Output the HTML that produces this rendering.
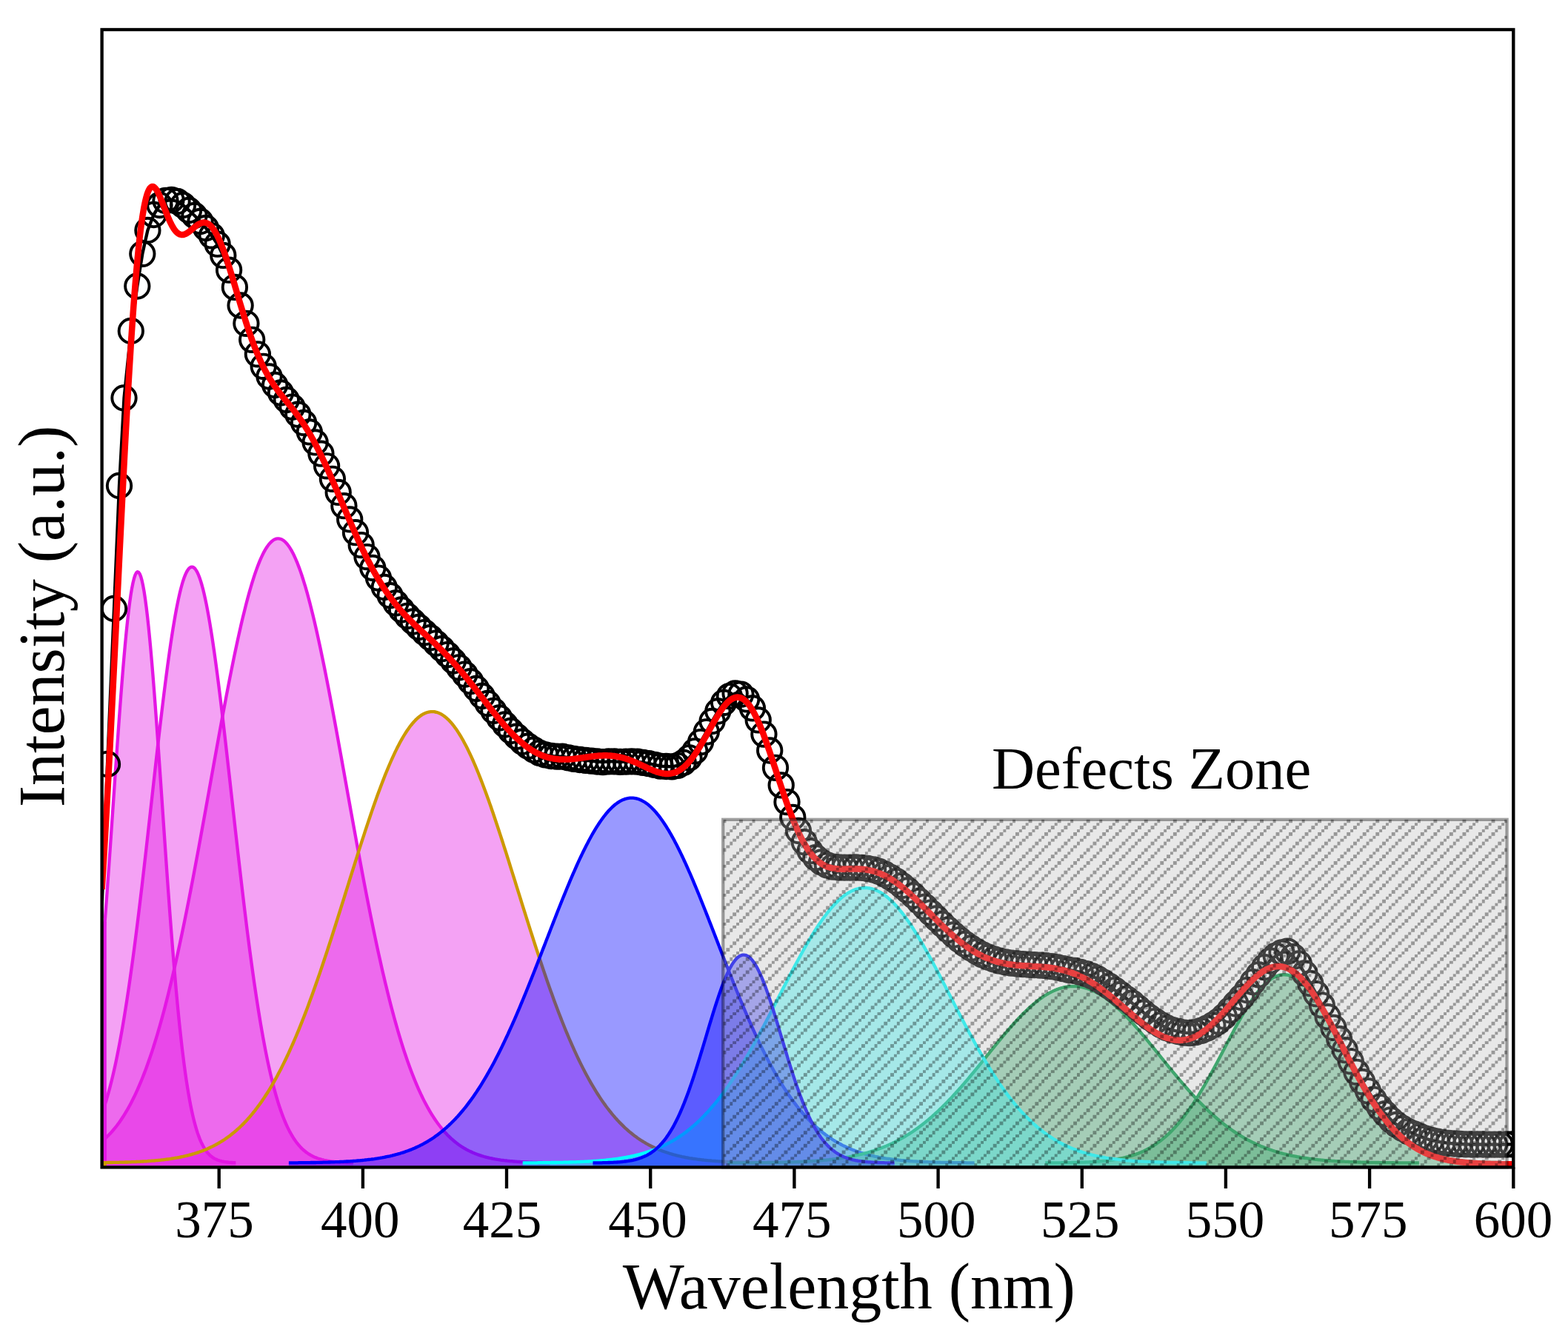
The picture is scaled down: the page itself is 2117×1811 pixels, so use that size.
<!DOCTYPE html><html><head><meta charset="utf-8"><title>PL spectrum</title><style>html,body{margin:0;padding:0;background:#fff;}svg{display:block;}</style></head><body>
<svg width="2117" height="1811" viewBox="0 0 2117 1811">
<defs>
<clipPath id="plot"><rect x="137.6" y="40.0" width="1905.7" height="1536.4"/></clipPath>
<pattern id="hatch" patternUnits="userSpaceOnUse" x="0" y="0" width="39.06" height="39.06"><g fill="#000" fill-opacity="0.345" shape-rendering="crispEdges"><rect x="13.02" y="0.00" width="4.34" height="4.34"/><rect x="34.72" y="0.00" width="4.34" height="4.34"/><rect x="8.68" y="4.34" width="4.34" height="4.34"/><rect x="30.38" y="4.34" width="4.34" height="4.34"/><rect x="4.34" y="8.68" width="4.34" height="4.34"/><rect x="26.04" y="8.68" width="4.34" height="4.34"/><rect x="0.00" y="13.02" width="4.34" height="4.34"/><rect x="21.70" y="13.02" width="4.34" height="4.34"/><rect x="34.72" y="17.36" width="4.34" height="4.34"/><rect x="17.36" y="17.36" width="4.34" height="4.34"/><rect x="30.38" y="21.70" width="4.34" height="4.34"/><rect x="13.02" y="21.70" width="4.34" height="4.34"/><rect x="26.04" y="26.04" width="4.34" height="4.34"/><rect x="8.68" y="26.04" width="4.34" height="4.34"/><rect x="21.70" y="30.38" width="4.34" height="4.34"/><rect x="4.34" y="30.38" width="4.34" height="4.34"/><rect x="17.36" y="34.72" width="4.34" height="4.34"/><rect x="0.00" y="34.72" width="4.34" height="4.34"/></g></pattern>
</defs>
<rect width="2117" height="1811" fill="#fff"/>
<g clip-path="url(#plot)">
<polygon points="137.6,1576.4 137.6,1295.4 139.1,1276.9 140.6,1257.8 142.1,1238.1 143.6,1218.0 145.1,1197.3 146.6,1176.3 148.1,1154.9 149.6,1133.3 151.1,1111.4 152.6,1089.5 154.1,1067.6 155.6,1045.7 157.1,1024.1 158.6,1002.7 160.1,981.6 161.6,961.1 163.1,941.1 164.6,921.8 166.1,903.2 167.6,885.6 169.1,868.9 170.6,853.3 172.1,838.9 173.6,825.7 175.1,813.8 176.6,803.3 178.1,794.2 179.6,786.7 181.1,780.7 182.6,776.3 184.1,773.5 185.6,772.3 187.1,772.8 188.6,774.9 190.1,778.6 191.6,783.9 193.1,790.8 194.6,799.2 196.1,809.1 197.6,820.4 199.1,833.1 200.6,847.0 202.1,862.1 203.6,878.4 205.1,895.6 206.6,913.8 208.1,932.8 209.6,952.5 211.1,972.8 212.6,993.6 214.1,1014.9 215.6,1036.5 217.1,1058.3 218.6,1080.2 220.1,1102.1 221.6,1124.0 223.1,1145.7 224.6,1167.2 226.1,1188.4 227.6,1209.2 229.1,1229.6 230.6,1249.5 232.1,1268.8 233.6,1287.6 235.1,1305.8 236.6,1323.2 238.1,1340.1 239.6,1356.2 241.1,1371.6 242.6,1386.2 244.1,1400.1 245.6,1413.4 247.1,1425.8 248.6,1437.6 250.1,1448.6 251.6,1459.0 253.1,1468.7 254.6,1477.7 256.1,1486.1 257.6,1494.0 259.1,1501.2 260.6,1507.9 262.1,1514.0 263.6,1519.6 265.1,1524.8 266.6,1529.6 268.1,1533.9 269.6,1537.8 271.1,1541.4 272.6,1544.6 274.1,1547.5 275.6,1550.2 277.1,1552.5 278.6,1554.7 280.1,1556.6 281.6,1558.3 283.1,1559.8 284.6,1561.1 286.1,1562.3 287.6,1563.4 289.1,1564.3 290.6,1565.1 292.1,1565.8 293.6,1566.5 295.1,1567.0 296.6,1567.5 298.1,1567.9 299.6,1568.3 301.1,1568.6 302.6,1568.9 304.1,1569.1 305.6,1569.3 307.1,1569.5 308.6,1569.7 310.1,1569.8 311.6,1569.9 313.1,1570.0 314.6,1570.1 316.1,1570.2 317.6,1570.2 318.3,1570.2 318.3,1576.4" fill="#e416e4" fill-opacity="0.4" stroke="none"/>
<polyline points="137.6,1295.4 139.1,1276.9 140.6,1257.8 142.1,1238.1 143.6,1218.0 145.1,1197.3 146.6,1176.3 148.1,1154.9 149.6,1133.3 151.1,1111.4 152.6,1089.5 154.1,1067.6 155.6,1045.7 157.1,1024.1 158.6,1002.7 160.1,981.6 161.6,961.1 163.1,941.1 164.6,921.8 166.1,903.2 167.6,885.6 169.1,868.9 170.6,853.3 172.1,838.9 173.6,825.7 175.1,813.8 176.6,803.3 178.1,794.2 179.6,786.7 181.1,780.7 182.6,776.3 184.1,773.5 185.6,772.3 187.1,772.8 188.6,774.9 190.1,778.6 191.6,783.9 193.1,790.8 194.6,799.2 196.1,809.1 197.6,820.4 199.1,833.1 200.6,847.0 202.1,862.1 203.6,878.4 205.1,895.6 206.6,913.8 208.1,932.8 209.6,952.5 211.1,972.8 212.6,993.6 214.1,1014.9 215.6,1036.5 217.1,1058.3 218.6,1080.2 220.1,1102.1 221.6,1124.0 223.1,1145.7 224.6,1167.2 226.1,1188.4 227.6,1209.2 229.1,1229.6 230.6,1249.5 232.1,1268.8 233.6,1287.6 235.1,1305.8 236.6,1323.2 238.1,1340.1 239.6,1356.2 241.1,1371.6 242.6,1386.2 244.1,1400.1 245.6,1413.4 247.1,1425.8 248.6,1437.6 250.1,1448.6 251.6,1459.0 253.1,1468.7 254.6,1477.7 256.1,1486.1 257.6,1494.0 259.1,1501.2 260.6,1507.9 262.1,1514.0 263.6,1519.6 265.1,1524.8 266.6,1529.6 268.1,1533.9 269.6,1537.8 271.1,1541.4 272.6,1544.6 274.1,1547.5 275.6,1550.2 277.1,1552.5 278.6,1554.7 280.1,1556.6 281.6,1558.3 283.1,1559.8 284.6,1561.1 286.1,1562.3 287.6,1563.4 289.1,1564.3 290.6,1565.1 292.1,1565.8 293.6,1566.5 295.1,1567.0 296.6,1567.5 298.1,1567.9 299.6,1568.3 301.1,1568.6 302.6,1568.9 304.1,1569.1 305.6,1569.3 307.1,1569.5 308.6,1569.7 310.1,1569.8 311.6,1569.9 313.1,1570.0 314.6,1570.1 316.1,1570.2 317.6,1570.2 318.3,1570.2" fill="none" stroke="#e416e4" stroke-width="4.34" stroke-linejoin="round"/>
<line x1="141.6" y1="1244.8" x2="141.6" y2="1576.4" stroke="#e416e4" stroke-width="4.34"/>
<polygon points="137.6,1576.4 137.6,1503.7 139.1,1499.4 140.6,1495.0 142.1,1490.4 143.6,1485.5 145.1,1480.5 146.6,1475.2 148.1,1469.6 149.6,1463.8 151.1,1457.8 152.6,1451.5 154.1,1445.0 155.6,1438.2 157.1,1431.1 158.6,1423.8 160.1,1416.2 161.6,1408.3 163.1,1400.2 164.6,1391.8 166.1,1383.1 167.6,1374.1 169.1,1364.9 170.6,1355.4 172.1,1345.7 173.6,1335.6 175.1,1325.4 176.6,1314.8 178.1,1304.0 179.6,1293.0 181.1,1281.7 182.6,1270.2 184.1,1258.5 185.6,1246.5 187.1,1234.4 188.6,1222.0 190.1,1209.5 191.6,1196.9 193.1,1184.0 194.6,1171.1 196.1,1158.0 197.6,1144.8 199.1,1131.5 200.6,1118.1 202.1,1104.7 203.6,1091.3 205.1,1077.9 206.6,1064.4 208.1,1051.0 209.6,1037.6 211.1,1024.3 212.6,1011.1 214.1,998.0 215.6,985.1 217.1,972.3 218.6,959.7 220.1,947.3 221.6,935.1 223.1,923.2 224.6,911.6 226.1,900.3 227.6,889.3 229.1,878.6 230.6,868.3 232.1,858.4 233.6,848.9 235.1,839.8 236.6,831.2 238.1,823.0 239.6,815.3 241.1,808.1 242.6,801.5 244.1,795.3 245.6,789.8 247.1,784.7 248.6,780.3 250.1,776.4 251.6,773.1 253.1,770.4 254.6,768.3 256.1,766.8 257.6,765.9 259.1,765.6 260.6,765.9 262.1,766.9 263.6,768.4 265.1,770.6 266.6,773.3 268.1,776.7 269.6,780.6 271.1,785.1 272.6,790.2 274.1,795.8 275.6,802.0 277.1,808.7 278.6,815.9 280.1,823.6 281.6,831.8 283.1,840.5 284.6,849.6 286.1,859.1 287.6,869.1 289.1,879.4 290.6,890.1 292.1,901.1 293.6,912.5 295.1,924.1 296.6,936.1 298.1,948.3 299.6,960.7 301.1,973.3 302.6,986.1 304.1,999.1 305.6,1012.2 307.1,1025.4 308.6,1038.7 310.1,1052.0 311.6,1065.5 313.1,1078.9 314.6,1092.4 316.1,1105.8 317.6,1119.2 319.1,1132.5 320.6,1145.8 322.1,1159.0 323.6,1172.1 325.1,1185.0 326.6,1197.8 328.1,1210.5 329.6,1223.0 331.1,1235.3 332.6,1247.5 334.1,1259.4 335.6,1271.1 337.1,1282.6 338.6,1293.8 340.1,1304.9 341.6,1315.6 343.1,1326.2 344.6,1336.4 346.1,1346.4 347.6,1356.2 349.1,1365.6 350.6,1374.9 352.1,1383.8 353.6,1392.4 355.1,1400.8 356.6,1408.9 358.1,1416.8 359.6,1424.4 361.1,1431.7 362.6,1438.7 364.1,1445.5 365.6,1452.0 367.1,1458.3 368.6,1464.3 370.1,1470.0 371.6,1475.6 373.1,1480.9 374.6,1485.9 376.1,1490.8 377.6,1495.4 379.1,1499.8 380.6,1504.0 382.1,1508.0 383.6,1511.8 385.1,1515.4 386.6,1518.8 388.1,1522.1 389.6,1525.1 391.1,1528.1 392.6,1530.8 394.1,1533.4 395.6,1535.9 397.1,1538.2 398.6,1540.4 400.1,1542.5 401.6,1544.4 403.1,1546.2 404.6,1547.9 406.1,1549.6 407.6,1551.1 409.1,1552.5 410.6,1553.8 412.1,1555.0 413.6,1556.2 415.1,1557.3 416.6,1558.3 418.1,1559.2 419.6,1560.1 421.1,1560.9 422.6,1561.7 424.1,1562.4 425.6,1563.0 427.1,1563.6 428.6,1564.2 430.1,1564.7 431.6,1565.2 433.1,1565.6 434.6,1566.1 436.1,1566.4 437.6,1566.8 439.1,1567.1 440.6,1567.4 442.1,1567.7 443.6,1567.9 445.1,1568.2 446.6,1568.4 448.1,1568.6 449.6,1568.7 451.1,1568.9 452.6,1569.1 454.1,1569.2 455.6,1569.3 457.1,1569.4 458.6,1569.5 460.1,1569.6 461.6,1569.7 463.1,1569.8 464.6,1569.9 466.1,1569.9 467.6,1570.0 469.1,1570.0 470.6,1570.1 472.1,1570.1 473.6,1570.2 475.1,1570.2 476.6,1570.2 476.8,1570.2 476.8,1576.4" fill="#e416e4" fill-opacity="0.4" stroke="none"/>
<polyline points="137.6,1503.7 139.1,1499.4 140.6,1495.0 142.1,1490.4 143.6,1485.5 145.1,1480.5 146.6,1475.2 148.1,1469.6 149.6,1463.8 151.1,1457.8 152.6,1451.5 154.1,1445.0 155.6,1438.2 157.1,1431.1 158.6,1423.8 160.1,1416.2 161.6,1408.3 163.1,1400.2 164.6,1391.8 166.1,1383.1 167.6,1374.1 169.1,1364.9 170.6,1355.4 172.1,1345.7 173.6,1335.6 175.1,1325.4 176.6,1314.8 178.1,1304.0 179.6,1293.0 181.1,1281.7 182.6,1270.2 184.1,1258.5 185.6,1246.5 187.1,1234.4 188.6,1222.0 190.1,1209.5 191.6,1196.9 193.1,1184.0 194.6,1171.1 196.1,1158.0 197.6,1144.8 199.1,1131.5 200.6,1118.1 202.1,1104.7 203.6,1091.3 205.1,1077.9 206.6,1064.4 208.1,1051.0 209.6,1037.6 211.1,1024.3 212.6,1011.1 214.1,998.0 215.6,985.1 217.1,972.3 218.6,959.7 220.1,947.3 221.6,935.1 223.1,923.2 224.6,911.6 226.1,900.3 227.6,889.3 229.1,878.6 230.6,868.3 232.1,858.4 233.6,848.9 235.1,839.8 236.6,831.2 238.1,823.0 239.6,815.3 241.1,808.1 242.6,801.5 244.1,795.3 245.6,789.8 247.1,784.7 248.6,780.3 250.1,776.4 251.6,773.1 253.1,770.4 254.6,768.3 256.1,766.8 257.6,765.9 259.1,765.6 260.6,765.9 262.1,766.9 263.6,768.4 265.1,770.6 266.6,773.3 268.1,776.7 269.6,780.6 271.1,785.1 272.6,790.2 274.1,795.8 275.6,802.0 277.1,808.7 278.6,815.9 280.1,823.6 281.6,831.8 283.1,840.5 284.6,849.6 286.1,859.1 287.6,869.1 289.1,879.4 290.6,890.1 292.1,901.1 293.6,912.5 295.1,924.1 296.6,936.1 298.1,948.3 299.6,960.7 301.1,973.3 302.6,986.1 304.1,999.1 305.6,1012.2 307.1,1025.4 308.6,1038.7 310.1,1052.0 311.6,1065.5 313.1,1078.9 314.6,1092.4 316.1,1105.8 317.6,1119.2 319.1,1132.5 320.6,1145.8 322.1,1159.0 323.6,1172.1 325.1,1185.0 326.6,1197.8 328.1,1210.5 329.6,1223.0 331.1,1235.3 332.6,1247.5 334.1,1259.4 335.6,1271.1 337.1,1282.6 338.6,1293.8 340.1,1304.9 341.6,1315.6 343.1,1326.2 344.6,1336.4 346.1,1346.4 347.6,1356.2 349.1,1365.6 350.6,1374.9 352.1,1383.8 353.6,1392.4 355.1,1400.8 356.6,1408.9 358.1,1416.8 359.6,1424.4 361.1,1431.7 362.6,1438.7 364.1,1445.5 365.6,1452.0 367.1,1458.3 368.6,1464.3 370.1,1470.0 371.6,1475.6 373.1,1480.9 374.6,1485.9 376.1,1490.8 377.6,1495.4 379.1,1499.8 380.6,1504.0 382.1,1508.0 383.6,1511.8 385.1,1515.4 386.6,1518.8 388.1,1522.1 389.6,1525.1 391.1,1528.1 392.6,1530.8 394.1,1533.4 395.6,1535.9 397.1,1538.2 398.6,1540.4 400.1,1542.5 401.6,1544.4 403.1,1546.2 404.6,1547.9 406.1,1549.6 407.6,1551.1 409.1,1552.5 410.6,1553.8 412.1,1555.0 413.6,1556.2 415.1,1557.3 416.6,1558.3 418.1,1559.2 419.6,1560.1 421.1,1560.9 422.6,1561.7 424.1,1562.4 425.6,1563.0 427.1,1563.6 428.6,1564.2 430.1,1564.7 431.6,1565.2 433.1,1565.6 434.6,1566.1 436.1,1566.4 437.6,1566.8 439.1,1567.1 440.6,1567.4 442.1,1567.7 443.6,1567.9 445.1,1568.2 446.6,1568.4 448.1,1568.6 449.6,1568.7 451.1,1568.9 452.6,1569.1 454.1,1569.2 455.6,1569.3 457.1,1569.4 458.6,1569.5 460.1,1569.6 461.6,1569.7 463.1,1569.8 464.6,1569.9 466.1,1569.9 467.6,1570.0 469.1,1570.0 470.6,1570.1 472.1,1570.1 473.6,1570.2 475.1,1570.2 476.6,1570.2 476.8,1570.2" fill="none" stroke="#e416e4" stroke-width="4.34" stroke-linejoin="round"/>
<line x1="141.6" y1="1492.0" x2="141.6" y2="1576.4" stroke="#e416e4" stroke-width="4.34"/>
<polygon points="137.6,1576.4 137.6,1541.3 139.1,1540.0 140.6,1538.7 142.1,1537.4 143.6,1536.0 145.1,1534.5 146.6,1533.0 148.1,1531.5 149.6,1529.9 151.1,1528.2 152.6,1526.5 154.1,1524.7 155.6,1522.9 157.1,1521.0 158.6,1519.0 160.1,1517.0 161.6,1514.9 163.1,1512.7 164.6,1510.5 166.1,1508.2 167.6,1505.9 169.1,1503.4 170.6,1500.9 172.1,1498.4 173.6,1495.7 175.1,1493.0 176.6,1490.2 178.1,1487.3 179.6,1484.3 181.1,1481.3 182.6,1478.1 184.1,1474.9 185.6,1471.6 187.1,1468.2 188.6,1464.7 190.1,1461.2 191.6,1457.5 193.1,1453.8 194.6,1449.9 196.1,1446.0 197.6,1441.9 199.1,1437.8 200.6,1433.6 202.1,1429.3 203.6,1424.9 205.1,1420.4 206.6,1415.8 208.1,1411.0 209.6,1406.2 211.1,1401.3 212.6,1396.3 214.1,1391.2 215.6,1386.0 217.1,1380.7 218.6,1375.3 220.1,1369.8 221.6,1364.2 223.1,1358.5 224.6,1352.6 226.1,1346.7 227.6,1340.7 229.1,1334.6 230.6,1328.4 232.1,1322.1 233.6,1315.7 235.1,1309.2 236.6,1302.6 238.1,1296.0 239.6,1289.2 241.1,1282.3 242.6,1275.4 244.1,1268.3 245.6,1261.2 247.1,1254.0 248.6,1246.7 250.1,1239.4 251.6,1231.9 253.1,1224.4 254.6,1216.8 256.1,1209.2 257.6,1201.5 259.1,1193.7 260.6,1185.8 262.1,1177.9 263.6,1169.9 265.1,1161.9 266.6,1153.9 268.1,1145.8 269.6,1137.6 271.1,1129.4 272.6,1121.2 274.1,1112.9 275.6,1104.6 277.1,1096.3 278.6,1088.0 280.1,1079.7 281.6,1071.3 283.1,1062.9 284.6,1054.6 286.1,1046.2 287.6,1037.9 289.1,1029.5 290.6,1021.2 292.1,1012.9 293.6,1004.6 295.1,996.4 296.6,988.2 298.1,980.0 299.6,971.9 301.1,963.8 302.6,955.8 304.1,947.8 305.6,939.9 307.1,932.1 308.6,924.4 310.1,916.7 311.6,909.1 313.1,901.6 314.6,894.2 316.1,886.9 317.6,879.8 319.1,872.7 320.6,865.7 322.1,858.9 323.6,852.2 325.1,845.6 326.6,839.1 328.1,832.8 329.6,826.7 331.1,820.7 332.6,814.8 334.1,809.1 335.6,803.5 337.1,798.2 338.6,793.0 340.1,787.9 341.6,783.1 343.1,778.4 344.6,773.9 346.1,769.6 347.6,765.5 349.1,761.6 350.6,757.9 352.1,754.4 353.6,751.1 355.1,748.0 356.6,745.1 358.1,742.4 359.6,740.0 361.1,737.7 362.6,735.7 364.1,733.9 365.6,732.3 367.1,730.9 368.6,729.8 370.1,728.8 371.6,728.1 373.1,727.6 374.6,727.4 376.1,727.4 377.6,727.6 379.1,728.0 380.6,728.6 382.1,729.5 383.6,730.6 385.1,731.9 386.6,733.5 388.1,735.2 389.6,737.2 391.1,739.4 392.6,741.8 394.1,744.4 395.6,747.3 397.1,750.3 398.6,753.6 400.1,757.1 401.6,760.7 403.1,764.6 404.6,768.6 406.1,772.9 407.6,777.3 409.1,782.0 410.6,786.8 412.1,791.7 413.6,796.9 415.1,802.2 416.6,807.7 418.1,813.4 419.6,819.2 421.1,825.2 422.6,831.3 424.1,837.6 425.6,844.0 427.1,850.6 428.6,857.3 430.1,864.1 431.6,871.0 433.1,878.0 434.6,885.2 436.1,892.5 437.6,899.8 439.1,907.3 440.6,914.9 442.1,922.5 443.6,930.2 445.1,938.0 446.6,945.9 448.1,953.9 449.6,961.9 451.1,969.9 452.6,978.0 454.1,986.2 455.6,994.4 457.1,1002.6 458.6,1010.9 460.1,1019.2 461.6,1027.5 463.1,1035.9 464.6,1044.2 466.1,1052.6 467.6,1060.9 469.1,1069.3 470.6,1077.7 472.1,1086.0 473.6,1094.3 475.1,1102.6 476.6,1110.9 478.1,1119.2 479.6,1127.4 481.1,1135.6 482.6,1143.8 484.1,1151.9 485.6,1160.0 487.1,1168.0 488.6,1176.0 490.1,1183.9 491.6,1191.8 493.1,1199.6 494.6,1207.3 496.1,1215.0 497.6,1222.6 499.1,1230.1 500.6,1237.6 502.1,1245.0 503.6,1252.3 505.1,1259.5 506.6,1266.6 508.1,1273.7 509.6,1280.7 511.1,1287.6 512.6,1294.3 514.1,1301.0 515.6,1307.7 517.1,1314.2 518.6,1320.6 520.1,1326.9 521.6,1333.1 523.1,1339.3 524.6,1345.3 526.1,1351.2 527.6,1357.1 529.1,1362.8 530.6,1368.4 532.1,1374.0 533.6,1379.4 535.1,1384.7 536.6,1390.0 538.1,1395.1 539.6,1400.1 541.1,1405.1 542.6,1409.9 544.1,1414.6 545.6,1419.3 547.1,1423.8 548.6,1428.2 550.1,1432.6 551.6,1436.8 553.1,1441.0 554.6,1445.0 556.1,1449.0 557.6,1452.8 559.1,1456.6 560.6,1460.3 562.1,1463.9 563.6,1467.4 565.1,1470.8 566.6,1474.1 568.1,1477.4 569.6,1480.5 571.1,1483.6 572.6,1486.6 574.1,1489.5 575.6,1492.3 577.1,1495.1 578.6,1497.7 580.1,1500.3 581.6,1502.8 583.1,1505.3 584.6,1507.7 586.1,1510.0 587.6,1512.2 589.1,1514.4 590.6,1516.5 592.1,1518.5 593.6,1520.5 595.1,1522.4 596.6,1524.3 598.1,1526.1 599.6,1527.8 601.1,1529.5 602.6,1531.1 604.1,1532.7 605.6,1534.2 607.1,1535.6 608.6,1537.1 610.1,1538.4 611.6,1539.7 613.1,1541.0 614.6,1542.2 616.1,1543.4 617.6,1544.6 619.1,1545.7 620.6,1546.7 622.1,1547.7 623.6,1548.7 625.1,1549.7 626.6,1550.6 628.1,1551.4 629.6,1552.3 631.1,1553.1 632.6,1553.9 634.1,1554.6 635.6,1555.3 637.1,1556.0 638.6,1556.7 640.1,1557.3 641.6,1557.9 643.1,1558.5 644.6,1559.1 646.1,1559.6 647.6,1560.1 649.1,1560.6 650.6,1561.1 652.1,1561.5 653.6,1562.0 655.1,1562.4 656.6,1562.8 658.1,1563.2 659.6,1563.5 661.1,1563.9 662.6,1564.2 664.1,1564.5 665.6,1564.8 667.1,1565.1 668.6,1565.4 670.1,1565.6 671.6,1565.9 673.1,1566.1 674.6,1566.3 676.1,1566.6 677.6,1566.8 679.1,1567.0 680.6,1567.2 682.1,1567.3 683.6,1567.5 685.1,1567.7 686.6,1567.8 688.1,1568.0 689.6,1568.1 691.1,1568.2 692.6,1568.4 694.1,1568.5 695.6,1568.6 697.1,1568.7 698.6,1568.8 700.1,1568.9 701.6,1569.0 703.1,1569.1 704.6,1569.1 706.1,1569.2 707.6,1569.3 709.1,1569.4 710.6,1569.4 712.1,1569.5 713.6,1569.6 715.1,1569.6 716.6,1569.7 718.1,1569.7 719.6,1569.8 721.1,1569.8 722.6,1569.8 724.1,1569.9 725.6,1569.9 727.1,1570.0 728.6,1570.0 730.1,1570.0 731.6,1570.0 733.1,1570.1 734.6,1570.1 736.1,1570.1 737.6,1570.2 739.1,1570.2 740.6,1570.2 742.1,1570.2 742.5,1570.2 742.5,1576.4" fill="#e416e4" fill-opacity="0.4" stroke="none"/>
<polyline points="137.6,1541.3 139.1,1540.0 140.6,1538.7 142.1,1537.4 143.6,1536.0 145.1,1534.5 146.6,1533.0 148.1,1531.5 149.6,1529.9 151.1,1528.2 152.6,1526.5 154.1,1524.7 155.6,1522.9 157.1,1521.0 158.6,1519.0 160.1,1517.0 161.6,1514.9 163.1,1512.7 164.6,1510.5 166.1,1508.2 167.6,1505.9 169.1,1503.4 170.6,1500.9 172.1,1498.4 173.6,1495.7 175.1,1493.0 176.6,1490.2 178.1,1487.3 179.6,1484.3 181.1,1481.3 182.6,1478.1 184.1,1474.9 185.6,1471.6 187.1,1468.2 188.6,1464.7 190.1,1461.2 191.6,1457.5 193.1,1453.8 194.6,1449.9 196.1,1446.0 197.6,1441.9 199.1,1437.8 200.6,1433.6 202.1,1429.3 203.6,1424.9 205.1,1420.4 206.6,1415.8 208.1,1411.0 209.6,1406.2 211.1,1401.3 212.6,1396.3 214.1,1391.2 215.6,1386.0 217.1,1380.7 218.6,1375.3 220.1,1369.8 221.6,1364.2 223.1,1358.5 224.6,1352.6 226.1,1346.7 227.6,1340.7 229.1,1334.6 230.6,1328.4 232.1,1322.1 233.6,1315.7 235.1,1309.2 236.6,1302.6 238.1,1296.0 239.6,1289.2 241.1,1282.3 242.6,1275.4 244.1,1268.3 245.6,1261.2 247.1,1254.0 248.6,1246.7 250.1,1239.4 251.6,1231.9 253.1,1224.4 254.6,1216.8 256.1,1209.2 257.6,1201.5 259.1,1193.7 260.6,1185.8 262.1,1177.9 263.6,1169.9 265.1,1161.9 266.6,1153.9 268.1,1145.8 269.6,1137.6 271.1,1129.4 272.6,1121.2 274.1,1112.9 275.6,1104.6 277.1,1096.3 278.6,1088.0 280.1,1079.7 281.6,1071.3 283.1,1062.9 284.6,1054.6 286.1,1046.2 287.6,1037.9 289.1,1029.5 290.6,1021.2 292.1,1012.9 293.6,1004.6 295.1,996.4 296.6,988.2 298.1,980.0 299.6,971.9 301.1,963.8 302.6,955.8 304.1,947.8 305.6,939.9 307.1,932.1 308.6,924.4 310.1,916.7 311.6,909.1 313.1,901.6 314.6,894.2 316.1,886.9 317.6,879.8 319.1,872.7 320.6,865.7 322.1,858.9 323.6,852.2 325.1,845.6 326.6,839.1 328.1,832.8 329.6,826.7 331.1,820.7 332.6,814.8 334.1,809.1 335.6,803.5 337.1,798.2 338.6,793.0 340.1,787.9 341.6,783.1 343.1,778.4 344.6,773.9 346.1,769.6 347.6,765.5 349.1,761.6 350.6,757.9 352.1,754.4 353.6,751.1 355.1,748.0 356.6,745.1 358.1,742.4 359.6,740.0 361.1,737.7 362.6,735.7 364.1,733.9 365.6,732.3 367.1,730.9 368.6,729.8 370.1,728.8 371.6,728.1 373.1,727.6 374.6,727.4 376.1,727.4 377.6,727.6 379.1,728.0 380.6,728.6 382.1,729.5 383.6,730.6 385.1,731.9 386.6,733.5 388.1,735.2 389.6,737.2 391.1,739.4 392.6,741.8 394.1,744.4 395.6,747.3 397.1,750.3 398.6,753.6 400.1,757.1 401.6,760.7 403.1,764.6 404.6,768.6 406.1,772.9 407.6,777.3 409.1,782.0 410.6,786.8 412.1,791.7 413.6,796.9 415.1,802.2 416.6,807.7 418.1,813.4 419.6,819.2 421.1,825.2 422.6,831.3 424.1,837.6 425.6,844.0 427.1,850.6 428.6,857.3 430.1,864.1 431.6,871.0 433.1,878.0 434.6,885.2 436.1,892.5 437.6,899.8 439.1,907.3 440.6,914.9 442.1,922.5 443.6,930.2 445.1,938.0 446.6,945.9 448.1,953.9 449.6,961.9 451.1,969.9 452.6,978.0 454.1,986.2 455.6,994.4 457.1,1002.6 458.6,1010.9 460.1,1019.2 461.6,1027.5 463.1,1035.9 464.6,1044.2 466.1,1052.6 467.6,1060.9 469.1,1069.3 470.6,1077.7 472.1,1086.0 473.6,1094.3 475.1,1102.6 476.6,1110.9 478.1,1119.2 479.6,1127.4 481.1,1135.6 482.6,1143.8 484.1,1151.9 485.6,1160.0 487.1,1168.0 488.6,1176.0 490.1,1183.9 491.6,1191.8 493.1,1199.6 494.6,1207.3 496.1,1215.0 497.6,1222.6 499.1,1230.1 500.6,1237.6 502.1,1245.0 503.6,1252.3 505.1,1259.5 506.6,1266.6 508.1,1273.7 509.6,1280.7 511.1,1287.6 512.6,1294.3 514.1,1301.0 515.6,1307.7 517.1,1314.2 518.6,1320.6 520.1,1326.9 521.6,1333.1 523.1,1339.3 524.6,1345.3 526.1,1351.2 527.6,1357.1 529.1,1362.8 530.6,1368.4 532.1,1374.0 533.6,1379.4 535.1,1384.7 536.6,1390.0 538.1,1395.1 539.6,1400.1 541.1,1405.1 542.6,1409.9 544.1,1414.6 545.6,1419.3 547.1,1423.8 548.6,1428.2 550.1,1432.6 551.6,1436.8 553.1,1441.0 554.6,1445.0 556.1,1449.0 557.6,1452.8 559.1,1456.6 560.6,1460.3 562.1,1463.9 563.6,1467.4 565.1,1470.8 566.6,1474.1 568.1,1477.4 569.6,1480.5 571.1,1483.6 572.6,1486.6 574.1,1489.5 575.6,1492.3 577.1,1495.1 578.6,1497.7 580.1,1500.3 581.6,1502.8 583.1,1505.3 584.6,1507.7 586.1,1510.0 587.6,1512.2 589.1,1514.4 590.6,1516.5 592.1,1518.5 593.6,1520.5 595.1,1522.4 596.6,1524.3 598.1,1526.1 599.6,1527.8 601.1,1529.5 602.6,1531.1 604.1,1532.7 605.6,1534.2 607.1,1535.6 608.6,1537.1 610.1,1538.4 611.6,1539.7 613.1,1541.0 614.6,1542.2 616.1,1543.4 617.6,1544.6 619.1,1545.7 620.6,1546.7 622.1,1547.7 623.6,1548.7 625.1,1549.7 626.6,1550.6 628.1,1551.4 629.6,1552.3 631.1,1553.1 632.6,1553.9 634.1,1554.6 635.6,1555.3 637.1,1556.0 638.6,1556.7 640.1,1557.3 641.6,1557.9 643.1,1558.5 644.6,1559.1 646.1,1559.6 647.6,1560.1 649.1,1560.6 650.6,1561.1 652.1,1561.5 653.6,1562.0 655.1,1562.4 656.6,1562.8 658.1,1563.2 659.6,1563.5 661.1,1563.9 662.6,1564.2 664.1,1564.5 665.6,1564.8 667.1,1565.1 668.6,1565.4 670.1,1565.6 671.6,1565.9 673.1,1566.1 674.6,1566.3 676.1,1566.6 677.6,1566.8 679.1,1567.0 680.6,1567.2 682.1,1567.3 683.6,1567.5 685.1,1567.7 686.6,1567.8 688.1,1568.0 689.6,1568.1 691.1,1568.2 692.6,1568.4 694.1,1568.5 695.6,1568.6 697.1,1568.7 698.6,1568.8 700.1,1568.9 701.6,1569.0 703.1,1569.1 704.6,1569.1 706.1,1569.2 707.6,1569.3 709.1,1569.4 710.6,1569.4 712.1,1569.5 713.6,1569.6 715.1,1569.6 716.6,1569.7 718.1,1569.7 719.6,1569.8 721.1,1569.8 722.6,1569.8 724.1,1569.9 725.6,1569.9 727.1,1570.0 728.6,1570.0 730.1,1570.0 731.6,1570.0 733.1,1570.1 734.6,1570.1 736.1,1570.1 737.6,1570.2 739.1,1570.2 740.6,1570.2 742.1,1570.2 742.5,1570.2" fill="none" stroke="#e416e4" stroke-width="4.34" stroke-linejoin="round"/>
<line x1="141.6" y1="1537.8" x2="141.6" y2="1576.4" stroke="#e416e4" stroke-width="4.34"/>
<polygon points="137.6,1576.4 137.6,1570.2 139.1,1570.1 140.6,1570.1 142.1,1570.1 143.6,1570.1 145.1,1570.1 146.6,1570.0 148.1,1570.0 149.6,1570.0 151.1,1570.0 152.6,1569.9 154.1,1569.9 155.6,1569.9 157.1,1569.8 158.6,1569.8 160.1,1569.8 161.6,1569.7 163.1,1569.7 164.6,1569.7 166.1,1569.6 167.6,1569.6 169.1,1569.5 170.6,1569.5 172.1,1569.5 173.6,1569.4 175.1,1569.4 176.6,1569.3 178.1,1569.2 179.6,1569.2 181.1,1569.1 182.6,1569.1 184.1,1569.0 185.6,1568.9 187.1,1568.8 188.6,1568.8 190.1,1568.7 191.6,1568.6 193.1,1568.5 194.6,1568.4 196.1,1568.3 197.6,1568.3 199.1,1568.2 200.6,1568.0 202.1,1567.9 203.6,1567.8 205.1,1567.7 206.6,1567.6 208.1,1567.5 209.6,1567.3 211.1,1567.2 212.6,1567.1 214.1,1566.9 215.6,1566.8 217.1,1566.6 218.6,1566.4 220.1,1566.3 221.6,1566.1 223.1,1565.9 224.6,1565.7 226.1,1565.5 227.6,1565.3 229.1,1565.1 230.6,1564.9 232.1,1564.6 233.6,1564.4 235.1,1564.2 236.6,1563.9 238.1,1563.6 239.6,1563.4 241.1,1563.1 242.6,1562.8 244.1,1562.5 245.6,1562.2 247.1,1561.9 248.6,1561.5 250.1,1561.2 251.6,1560.8 253.1,1560.5 254.6,1560.1 256.1,1559.7 257.6,1559.3 259.1,1558.9 260.6,1558.4 262.1,1558.0 263.6,1557.5 265.1,1557.1 266.6,1556.6 268.1,1556.1 269.6,1555.5 271.1,1555.0 272.6,1554.4 274.1,1553.9 275.6,1553.3 277.1,1552.7 278.6,1552.0 280.1,1551.4 281.6,1550.7 283.1,1550.0 284.6,1549.3 286.1,1548.6 287.6,1547.9 289.1,1547.1 290.6,1546.3 292.1,1545.5 293.6,1544.7 295.1,1543.8 296.6,1542.9 298.1,1542.0 299.6,1541.1 301.1,1540.2 302.6,1539.2 304.1,1538.2 305.6,1537.1 307.1,1536.1 308.6,1535.0 310.1,1533.9 311.6,1532.7 313.1,1531.5 314.6,1530.3 316.1,1529.1 317.6,1527.8 319.1,1526.6 320.6,1525.2 322.1,1523.9 323.6,1522.5 325.1,1521.0 326.6,1519.6 328.1,1518.1 329.6,1516.6 331.1,1515.0 332.6,1513.4 334.1,1511.8 335.6,1510.1 337.1,1508.4 338.6,1506.6 340.1,1504.9 341.6,1503.0 343.1,1501.2 344.6,1499.3 346.1,1497.3 347.6,1495.3 349.1,1493.3 350.6,1491.3 352.1,1489.2 353.6,1487.0 355.1,1484.8 356.6,1482.6 358.1,1480.3 359.6,1478.0 361.1,1475.7 362.6,1473.3 364.1,1470.8 365.6,1468.3 367.1,1465.8 368.6,1463.2 370.1,1460.6 371.6,1457.9 373.1,1455.2 374.6,1452.4 376.1,1449.6 377.6,1446.8 379.1,1443.9 380.6,1440.9 382.1,1437.9 383.6,1434.9 385.1,1431.8 386.6,1428.7 388.1,1425.5 389.6,1422.3 391.1,1419.0 392.6,1415.7 394.1,1412.4 395.6,1409.0 397.1,1405.5 398.6,1402.0 400.1,1398.5 401.6,1394.9 403.1,1391.3 404.6,1387.6 406.1,1383.9 407.6,1380.1 409.1,1376.3 410.6,1372.5 412.1,1368.6 413.6,1364.7 415.1,1360.7 416.6,1356.7 418.1,1352.6 419.6,1348.6 421.1,1344.4 422.6,1340.3 424.1,1336.1 425.6,1331.8 427.1,1327.6 428.6,1323.3 430.1,1318.9 431.6,1314.6 433.1,1310.1 434.6,1305.7 436.1,1301.2 437.6,1296.8 439.1,1292.2 440.6,1287.7 442.1,1283.1 443.6,1278.5 445.1,1273.9 446.6,1269.3 448.1,1264.6 449.6,1259.9 451.1,1255.2 452.6,1250.5 454.1,1245.7 455.6,1241.0 457.1,1236.2 458.6,1231.5 460.1,1226.7 461.6,1221.9 463.1,1217.1 464.6,1212.3 466.1,1207.5 467.6,1202.7 469.1,1197.9 470.6,1193.1 472.1,1188.2 473.6,1183.4 475.1,1178.6 476.6,1173.9 478.1,1169.1 479.6,1164.3 481.1,1159.6 482.6,1154.8 484.1,1150.1 485.6,1145.4 487.1,1140.7 488.6,1136.0 490.1,1131.4 491.6,1126.8 493.1,1122.2 494.6,1117.6 496.1,1113.1 497.6,1108.6 499.1,1104.2 500.6,1099.7 502.1,1095.4 503.6,1091.0 505.1,1086.7 506.6,1082.5 508.1,1078.3 509.6,1074.1 511.1,1070.0 512.6,1065.9 514.1,1061.9 515.6,1058.0 517.1,1054.1 518.6,1050.2 520.1,1046.4 521.6,1042.7 523.1,1039.1 524.6,1035.5 526.1,1032.0 527.6,1028.5 529.1,1025.1 530.6,1021.8 532.1,1018.6 533.6,1015.4 535.1,1012.4 536.6,1009.3 538.1,1006.4 539.6,1003.6 541.1,1000.8 542.6,998.1 544.1,995.5 545.6,993.0 547.1,990.6 548.6,988.3 550.1,986.0 551.6,983.9 553.1,981.8 554.6,979.8 556.1,978.0 557.6,976.2 559.1,974.5 560.6,972.9 562.1,971.4 563.6,970.0 565.1,968.7 566.6,967.5 568.1,966.4 569.6,965.4 571.1,964.5 572.6,963.8 574.1,963.1 575.6,962.5 577.1,962.0 578.6,961.6 580.1,961.3 581.6,961.1 583.1,961.1 584.6,961.1 586.1,961.2 587.6,961.5 589.1,961.8 590.6,962.3 592.1,962.8 593.6,963.4 595.1,964.2 596.6,965.0 598.1,966.0 599.6,967.0 601.1,968.2 602.6,969.4 604.1,970.8 605.6,972.2 607.1,973.8 608.6,975.4 610.1,977.2 611.6,979.0 613.1,980.9 614.6,983.0 616.1,985.1 617.6,987.3 619.1,989.6 620.6,992.0 622.1,994.4 623.6,997.0 625.1,999.6 626.6,1002.4 628.1,1005.2 629.6,1008.1 631.1,1011.0 632.6,1014.1 634.1,1017.2 635.6,1020.4 637.1,1023.7 638.6,1027.0 640.1,1030.5 641.6,1033.9 643.1,1037.5 644.6,1041.1 646.1,1044.8 647.6,1048.6 649.1,1052.4 650.6,1056.2 652.1,1060.2 653.6,1064.2 655.1,1068.2 656.6,1072.3 658.1,1076.4 659.6,1080.6 661.1,1084.9 662.6,1089.1 664.1,1093.5 665.6,1097.8 667.1,1102.2 668.6,1106.7 670.1,1111.2 671.6,1115.7 673.1,1120.2 674.6,1124.8 676.1,1129.4 677.6,1134.0 679.1,1138.7 680.6,1143.3 682.1,1148.0 683.6,1152.7 685.1,1157.5 686.6,1162.2 688.1,1167.0 689.6,1171.8 691.1,1176.6 692.6,1181.3 694.1,1186.1 695.6,1190.9 697.1,1195.8 698.6,1200.6 700.1,1205.4 701.6,1210.2 703.1,1215.0 704.6,1219.8 706.1,1224.6 707.6,1229.4 709.1,1234.2 710.6,1238.9 712.1,1243.7 713.6,1248.4 715.1,1253.1 716.6,1257.8 718.1,1262.5 719.6,1267.2 721.1,1271.9 722.6,1276.5 724.1,1281.1 725.6,1285.7 727.1,1290.2 728.6,1294.8 730.1,1299.3 731.6,1303.8 733.1,1308.2 734.6,1312.6 736.1,1317.0 737.6,1321.4 739.1,1325.7 740.6,1330.0 742.1,1334.2 743.6,1338.4 745.1,1342.6 746.6,1346.8 748.1,1350.9 749.6,1354.9 751.1,1358.9 752.6,1362.9 754.1,1366.9 755.6,1370.8 757.1,1374.6 758.6,1378.5 760.1,1382.2 761.6,1386.0 763.1,1389.7 764.6,1393.3 766.1,1396.9 767.6,1400.5 769.1,1404.0 770.6,1407.4 772.1,1410.9 773.6,1414.2 775.1,1417.6 776.6,1420.9 778.1,1424.1 779.6,1427.3 781.1,1430.5 782.6,1433.6 784.1,1436.6 785.6,1439.6 787.1,1442.6 788.6,1445.5 790.1,1448.4 791.6,1451.2 793.1,1454.0 794.6,1456.7 796.1,1459.4 797.6,1462.1 799.1,1464.7 800.6,1467.2 802.1,1469.7 803.6,1472.2 805.1,1474.6 806.6,1477.0 808.1,1479.3 809.6,1481.6 811.1,1483.9 812.6,1486.1 814.1,1488.2 815.6,1490.4 817.1,1492.4 818.6,1494.5 820.1,1496.5 821.6,1498.4 823.1,1500.3 824.6,1502.2 826.1,1504.1 827.6,1505.9 829.1,1507.6 830.6,1509.4 832.1,1511.0 833.6,1512.7 835.1,1514.3 836.6,1515.9 838.1,1517.4 839.6,1518.9 841.1,1520.4 842.6,1521.9 844.1,1523.3 845.6,1524.6 847.1,1526.0 848.6,1527.3 850.1,1528.6 851.6,1529.8 853.1,1531.0 854.6,1532.2 856.1,1533.4 857.6,1534.5 859.1,1535.6 860.6,1536.7 862.1,1537.7 863.6,1538.7 865.1,1539.7 866.6,1540.7 868.1,1541.6 869.6,1542.5 871.1,1543.4 872.6,1544.3 874.1,1545.1 875.6,1546.0 877.1,1546.8 878.6,1547.5 880.1,1548.3 881.6,1549.0 883.1,1549.7 884.6,1550.4 886.1,1551.1 887.6,1551.8 889.1,1552.4 890.6,1553.0 892.1,1553.6 893.6,1554.2 895.1,1554.8 896.6,1555.3 898.1,1555.8 899.6,1556.3 901.1,1556.8 902.6,1557.3 904.1,1557.8 905.6,1558.2 907.1,1558.7 908.6,1559.1 910.1,1559.5 911.6,1559.9 913.1,1560.3 914.6,1560.7 916.1,1561.0 917.6,1561.4 919.1,1561.7 920.6,1562.1 922.1,1562.4 923.6,1562.7 925.1,1563.0 926.6,1563.3 928.1,1563.5 929.6,1563.8 931.1,1564.1 932.6,1564.3 934.1,1564.5 935.6,1564.8 937.1,1565.0 938.6,1565.2 940.1,1565.4 941.6,1565.6 943.1,1565.8 944.6,1566.0 946.1,1566.2 947.6,1566.4 949.1,1566.5 950.6,1566.7 952.1,1566.8 953.6,1567.0 955.1,1567.1 956.6,1567.3 958.1,1567.4 959.6,1567.5 961.1,1567.7 962.6,1567.8 964.1,1567.9 965.6,1568.0 967.1,1568.1 968.6,1568.2 970.1,1568.3 971.6,1568.4 973.1,1568.5 974.6,1568.6 976.1,1568.7 977.6,1568.7 979.1,1568.8 980.6,1568.9 982.1,1569.0 983.6,1569.0 985.1,1569.1 986.6,1569.2 988.1,1569.2 989.6,1569.3 991.1,1569.3 992.6,1569.4 994.1,1569.4 995.6,1569.5 997.1,1569.5 998.6,1569.6 1000.1,1569.6 1001.6,1569.7 1003.1,1569.7 1004.6,1569.7 1006.1,1569.8 1007.6,1569.8 1009.1,1569.8 1010.6,1569.9 1012.1,1569.9 1013.6,1569.9 1015.1,1570.0 1016.6,1570.0 1018.1,1570.0 1019.6,1570.0 1021.1,1570.0 1022.6,1570.1 1024.1,1570.1 1025.6,1570.1 1027.1,1570.1 1028.6,1570.1 1030.1,1570.2 1031.6,1570.2 1033.1,1570.2 1034.6,1570.2 1036.1,1570.2 1037.6,1570.2 1039.1,1570.3 1040.6,1570.3 1042.1,1570.3 1043.6,1570.3 1044.5,1570.3 1044.5,1576.4" fill="#e416e4" fill-opacity="0.4" stroke="none"/>
<polyline points="137.6,1570.2 139.1,1570.1 140.6,1570.1 142.1,1570.1 143.6,1570.1 145.1,1570.1 146.6,1570.0 148.1,1570.0 149.6,1570.0 151.1,1570.0 152.6,1569.9 154.1,1569.9 155.6,1569.9 157.1,1569.8 158.6,1569.8 160.1,1569.8 161.6,1569.7 163.1,1569.7 164.6,1569.7 166.1,1569.6 167.6,1569.6 169.1,1569.5 170.6,1569.5 172.1,1569.5 173.6,1569.4 175.1,1569.4 176.6,1569.3 178.1,1569.2 179.6,1569.2 181.1,1569.1 182.6,1569.1 184.1,1569.0 185.6,1568.9 187.1,1568.8 188.6,1568.8 190.1,1568.7 191.6,1568.6 193.1,1568.5 194.6,1568.4 196.1,1568.3 197.6,1568.3 199.1,1568.2 200.6,1568.0 202.1,1567.9 203.6,1567.8 205.1,1567.7 206.6,1567.6 208.1,1567.5 209.6,1567.3 211.1,1567.2 212.6,1567.1 214.1,1566.9 215.6,1566.8 217.1,1566.6 218.6,1566.4 220.1,1566.3 221.6,1566.1 223.1,1565.9 224.6,1565.7 226.1,1565.5 227.6,1565.3 229.1,1565.1 230.6,1564.9 232.1,1564.6 233.6,1564.4 235.1,1564.2 236.6,1563.9 238.1,1563.6 239.6,1563.4 241.1,1563.1 242.6,1562.8 244.1,1562.5 245.6,1562.2 247.1,1561.9 248.6,1561.5 250.1,1561.2 251.6,1560.8 253.1,1560.5 254.6,1560.1 256.1,1559.7 257.6,1559.3 259.1,1558.9 260.6,1558.4 262.1,1558.0 263.6,1557.5 265.1,1557.1 266.6,1556.6 268.1,1556.1 269.6,1555.5 271.1,1555.0 272.6,1554.4 274.1,1553.9 275.6,1553.3 277.1,1552.7 278.6,1552.0 280.1,1551.4 281.6,1550.7 283.1,1550.0 284.6,1549.3 286.1,1548.6 287.6,1547.9 289.1,1547.1 290.6,1546.3 292.1,1545.5 293.6,1544.7 295.1,1543.8 296.6,1542.9 298.1,1542.0 299.6,1541.1 301.1,1540.2 302.6,1539.2 304.1,1538.2 305.6,1537.1 307.1,1536.1 308.6,1535.0 310.1,1533.9 311.6,1532.7 313.1,1531.5 314.6,1530.3 316.1,1529.1 317.6,1527.8 319.1,1526.6 320.6,1525.2 322.1,1523.9 323.6,1522.5 325.1,1521.0 326.6,1519.6 328.1,1518.1 329.6,1516.6 331.1,1515.0 332.6,1513.4 334.1,1511.8 335.6,1510.1 337.1,1508.4 338.6,1506.6 340.1,1504.9 341.6,1503.0 343.1,1501.2 344.6,1499.3 346.1,1497.3 347.6,1495.3 349.1,1493.3 350.6,1491.3 352.1,1489.2 353.6,1487.0 355.1,1484.8 356.6,1482.6 358.1,1480.3 359.6,1478.0 361.1,1475.7 362.6,1473.3 364.1,1470.8 365.6,1468.3 367.1,1465.8 368.6,1463.2 370.1,1460.6 371.6,1457.9 373.1,1455.2 374.6,1452.4 376.1,1449.6 377.6,1446.8 379.1,1443.9 380.6,1440.9 382.1,1437.9 383.6,1434.9 385.1,1431.8 386.6,1428.7 388.1,1425.5 389.6,1422.3 391.1,1419.0 392.6,1415.7 394.1,1412.4 395.6,1409.0 397.1,1405.5 398.6,1402.0 400.1,1398.5 401.6,1394.9 403.1,1391.3 404.6,1387.6 406.1,1383.9 407.6,1380.1 409.1,1376.3 410.6,1372.5 412.1,1368.6 413.6,1364.7 415.1,1360.7 416.6,1356.7 418.1,1352.6 419.6,1348.6 421.1,1344.4 422.6,1340.3 424.1,1336.1 425.6,1331.8 427.1,1327.6 428.6,1323.3 430.1,1318.9 431.6,1314.6 433.1,1310.1 434.6,1305.7 436.1,1301.2 437.6,1296.8 439.1,1292.2 440.6,1287.7 442.1,1283.1 443.6,1278.5 445.1,1273.9 446.6,1269.3 448.1,1264.6 449.6,1259.9 451.1,1255.2 452.6,1250.5 454.1,1245.7 455.6,1241.0 457.1,1236.2 458.6,1231.5 460.1,1226.7 461.6,1221.9 463.1,1217.1 464.6,1212.3 466.1,1207.5 467.6,1202.7 469.1,1197.9 470.6,1193.1 472.1,1188.2 473.6,1183.4 475.1,1178.6 476.6,1173.9 478.1,1169.1 479.6,1164.3 481.1,1159.6 482.6,1154.8 484.1,1150.1 485.6,1145.4 487.1,1140.7 488.6,1136.0 490.1,1131.4 491.6,1126.8 493.1,1122.2 494.6,1117.6 496.1,1113.1 497.6,1108.6 499.1,1104.2 500.6,1099.7 502.1,1095.4 503.6,1091.0 505.1,1086.7 506.6,1082.5 508.1,1078.3 509.6,1074.1 511.1,1070.0 512.6,1065.9 514.1,1061.9 515.6,1058.0 517.1,1054.1 518.6,1050.2 520.1,1046.4 521.6,1042.7 523.1,1039.1 524.6,1035.5 526.1,1032.0 527.6,1028.5 529.1,1025.1 530.6,1021.8 532.1,1018.6 533.6,1015.4 535.1,1012.4 536.6,1009.3 538.1,1006.4 539.6,1003.6 541.1,1000.8 542.6,998.1 544.1,995.5 545.6,993.0 547.1,990.6 548.6,988.3 550.1,986.0 551.6,983.9 553.1,981.8 554.6,979.8 556.1,978.0 557.6,976.2 559.1,974.5 560.6,972.9 562.1,971.4 563.6,970.0 565.1,968.7 566.6,967.5 568.1,966.4 569.6,965.4 571.1,964.5 572.6,963.8 574.1,963.1 575.6,962.5 577.1,962.0 578.6,961.6 580.1,961.3 581.6,961.1 583.1,961.1 584.6,961.1 586.1,961.2 587.6,961.5 589.1,961.8 590.6,962.3 592.1,962.8 593.6,963.4 595.1,964.2 596.6,965.0 598.1,966.0 599.6,967.0 601.1,968.2 602.6,969.4 604.1,970.8 605.6,972.2 607.1,973.8 608.6,975.4 610.1,977.2 611.6,979.0 613.1,980.9 614.6,983.0 616.1,985.1 617.6,987.3 619.1,989.6 620.6,992.0 622.1,994.4 623.6,997.0 625.1,999.6 626.6,1002.4 628.1,1005.2 629.6,1008.1 631.1,1011.0 632.6,1014.1 634.1,1017.2 635.6,1020.4 637.1,1023.7 638.6,1027.0 640.1,1030.5 641.6,1033.9 643.1,1037.5 644.6,1041.1 646.1,1044.8 647.6,1048.6 649.1,1052.4 650.6,1056.2 652.1,1060.2 653.6,1064.2 655.1,1068.2 656.6,1072.3 658.1,1076.4 659.6,1080.6 661.1,1084.9 662.6,1089.1 664.1,1093.5 665.6,1097.8 667.1,1102.2 668.6,1106.7 670.1,1111.2 671.6,1115.7 673.1,1120.2 674.6,1124.8 676.1,1129.4 677.6,1134.0 679.1,1138.7 680.6,1143.3 682.1,1148.0 683.6,1152.7 685.1,1157.5 686.6,1162.2 688.1,1167.0 689.6,1171.8 691.1,1176.6 692.6,1181.3 694.1,1186.1 695.6,1190.9 697.1,1195.8 698.6,1200.6 700.1,1205.4 701.6,1210.2 703.1,1215.0 704.6,1219.8 706.1,1224.6 707.6,1229.4 709.1,1234.2 710.6,1238.9 712.1,1243.7 713.6,1248.4 715.1,1253.1 716.6,1257.8 718.1,1262.5 719.6,1267.2 721.1,1271.9 722.6,1276.5 724.1,1281.1 725.6,1285.7 727.1,1290.2 728.6,1294.8 730.1,1299.3 731.6,1303.8 733.1,1308.2 734.6,1312.6 736.1,1317.0 737.6,1321.4 739.1,1325.7 740.6,1330.0 742.1,1334.2 743.6,1338.4 745.1,1342.6 746.6,1346.8 748.1,1350.9 749.6,1354.9 751.1,1358.9 752.6,1362.9 754.1,1366.9 755.6,1370.8 757.1,1374.6 758.6,1378.5 760.1,1382.2 761.6,1386.0 763.1,1389.7 764.6,1393.3 766.1,1396.9 767.6,1400.5 769.1,1404.0 770.6,1407.4 772.1,1410.9 773.6,1414.2 775.1,1417.6 776.6,1420.9 778.1,1424.1 779.6,1427.3 781.1,1430.5 782.6,1433.6 784.1,1436.6 785.6,1439.6 787.1,1442.6 788.6,1445.5 790.1,1448.4 791.6,1451.2 793.1,1454.0 794.6,1456.7 796.1,1459.4 797.6,1462.1 799.1,1464.7 800.6,1467.2 802.1,1469.7 803.6,1472.2 805.1,1474.6 806.6,1477.0 808.1,1479.3 809.6,1481.6 811.1,1483.9 812.6,1486.1 814.1,1488.2 815.6,1490.4 817.1,1492.4 818.6,1494.5 820.1,1496.5 821.6,1498.4 823.1,1500.3 824.6,1502.2 826.1,1504.1 827.6,1505.9 829.1,1507.6 830.6,1509.4 832.1,1511.0 833.6,1512.7 835.1,1514.3 836.6,1515.9 838.1,1517.4 839.6,1518.9 841.1,1520.4 842.6,1521.9 844.1,1523.3 845.6,1524.6 847.1,1526.0 848.6,1527.3 850.1,1528.6 851.6,1529.8 853.1,1531.0 854.6,1532.2 856.1,1533.4 857.6,1534.5 859.1,1535.6 860.6,1536.7 862.1,1537.7 863.6,1538.7 865.1,1539.7 866.6,1540.7 868.1,1541.6 869.6,1542.5 871.1,1543.4 872.6,1544.3 874.1,1545.1 875.6,1546.0 877.1,1546.8 878.6,1547.5 880.1,1548.3 881.6,1549.0 883.1,1549.7 884.6,1550.4 886.1,1551.1 887.6,1551.8 889.1,1552.4 890.6,1553.0 892.1,1553.6 893.6,1554.2 895.1,1554.8 896.6,1555.3 898.1,1555.8 899.6,1556.3 901.1,1556.8 902.6,1557.3 904.1,1557.8 905.6,1558.2 907.1,1558.7 908.6,1559.1 910.1,1559.5 911.6,1559.9 913.1,1560.3 914.6,1560.7 916.1,1561.0 917.6,1561.4 919.1,1561.7 920.6,1562.1 922.1,1562.4 923.6,1562.7 925.1,1563.0 926.6,1563.3 928.1,1563.5 929.6,1563.8 931.1,1564.1 932.6,1564.3 934.1,1564.5 935.6,1564.8 937.1,1565.0 938.6,1565.2 940.1,1565.4 941.6,1565.6 943.1,1565.8 944.6,1566.0 946.1,1566.2 947.6,1566.4 949.1,1566.5 950.6,1566.7 952.1,1566.8 953.6,1567.0 955.1,1567.1 956.6,1567.3 958.1,1567.4 959.6,1567.5 961.1,1567.7 962.6,1567.8 964.1,1567.9 965.6,1568.0 967.1,1568.1 968.6,1568.2 970.1,1568.3 971.6,1568.4 973.1,1568.5 974.6,1568.6 976.1,1568.7 977.6,1568.7 979.1,1568.8 980.6,1568.9 982.1,1569.0 983.6,1569.0 985.1,1569.1 986.6,1569.2 988.1,1569.2 989.6,1569.3 991.1,1569.3 992.6,1569.4 994.1,1569.4 995.6,1569.5 997.1,1569.5 998.6,1569.6 1000.1,1569.6 1001.6,1569.7 1003.1,1569.7 1004.6,1569.7 1006.1,1569.8 1007.6,1569.8 1009.1,1569.8 1010.6,1569.9 1012.1,1569.9 1013.6,1569.9 1015.1,1570.0 1016.6,1570.0 1018.1,1570.0 1019.6,1570.0 1021.1,1570.0 1022.6,1570.1 1024.1,1570.1 1025.6,1570.1 1027.1,1570.1 1028.6,1570.1 1030.1,1570.2 1031.6,1570.2 1033.1,1570.2 1034.6,1570.2 1036.1,1570.2 1037.6,1570.2 1039.1,1570.3 1040.6,1570.3 1042.1,1570.3 1043.6,1570.3 1044.5,1570.3" fill="none" stroke="#cc9900" stroke-width="4.34" stroke-linejoin="round"/>
<line x1="141.6" y1="1570.1" x2="141.6" y2="1576.4" stroke="#cc9900" stroke-width="4.34"/>
<polygon points="389.9,1576.4 389.9,1570.3 391.4,1570.3 392.9,1570.3 394.4,1570.3 395.9,1570.3 397.4,1570.3 398.9,1570.3 400.4,1570.3 401.9,1570.3 403.4,1570.2 404.9,1570.2 406.4,1570.2 407.9,1570.2 409.4,1570.2 410.9,1570.2 412.4,1570.1 413.9,1570.1 415.4,1570.1 416.9,1570.1 418.4,1570.1 419.9,1570.0 421.4,1570.0 422.9,1570.0 424.4,1570.0 425.9,1570.0 427.4,1569.9 428.9,1569.9 430.4,1569.9 431.9,1569.8 433.4,1569.8 434.9,1569.8 436.4,1569.7 437.9,1569.7 439.4,1569.7 440.9,1569.6 442.4,1569.6 443.9,1569.5 445.4,1569.5 446.9,1569.4 448.4,1569.4 449.9,1569.3 451.4,1569.3 452.9,1569.2 454.4,1569.2 455.9,1569.1 457.4,1569.1 458.9,1569.0 460.4,1568.9 461.9,1568.9 463.4,1568.8 464.9,1568.7 466.4,1568.6 467.9,1568.5 469.4,1568.5 470.9,1568.4 472.4,1568.3 473.9,1568.2 475.4,1568.1 476.9,1568.0 478.4,1567.9 479.9,1567.8 481.4,1567.6 482.9,1567.5 484.4,1567.4 485.9,1567.3 487.4,1567.1 488.9,1567.0 490.4,1566.8 491.9,1566.7 493.4,1566.5 494.9,1566.4 496.4,1566.2 497.9,1566.0 499.4,1565.8 500.9,1565.7 502.4,1565.5 503.9,1565.3 505.4,1565.1 506.9,1564.8 508.4,1564.6 509.9,1564.4 511.4,1564.1 512.9,1563.9 514.4,1563.6 515.9,1563.4 517.4,1563.1 518.9,1562.8 520.4,1562.5 521.9,1562.2 523.4,1561.9 524.9,1561.6 526.4,1561.3 527.9,1560.9 529.4,1560.6 530.9,1560.2 532.4,1559.8 533.9,1559.4 535.4,1559.0 536.9,1558.6 538.4,1558.2 539.9,1557.8 541.4,1557.3 542.9,1556.8 544.4,1556.4 545.9,1555.9 547.4,1555.3 548.9,1554.8 550.4,1554.3 551.9,1553.7 553.4,1553.1 554.9,1552.6 556.4,1551.9 557.9,1551.3 559.4,1550.7 560.9,1550.0 562.4,1549.3 563.9,1548.6 565.4,1547.9 566.9,1547.2 568.4,1546.4 569.9,1545.7 571.4,1544.9 572.9,1544.0 574.4,1543.2 575.9,1542.3 577.4,1541.5 578.9,1540.5 580.4,1539.6 581.9,1538.7 583.4,1537.7 584.9,1536.7 586.4,1535.7 587.9,1534.6 589.4,1533.5 590.9,1532.4 592.4,1531.3 593.9,1530.1 595.4,1528.9 596.9,1527.7 598.4,1526.5 599.9,1525.2 601.4,1523.9 602.9,1522.6 604.4,1521.2 605.9,1519.9 607.4,1518.4 608.9,1517.0 610.4,1515.5 611.9,1514.0 613.4,1512.5 614.9,1510.9 616.4,1509.3 617.9,1507.7 619.4,1506.0 620.9,1504.3 622.4,1502.5 623.9,1500.8 625.4,1499.0 626.9,1497.1 628.4,1495.3 629.9,1493.4 631.4,1491.4 632.9,1489.4 634.4,1487.4 635.9,1485.4 637.4,1483.3 638.9,1481.2 640.4,1479.0 641.9,1476.8 643.4,1474.6 644.9,1472.3 646.4,1470.0 647.9,1467.7 649.4,1465.3 650.9,1462.9 652.4,1460.4 653.9,1457.9 655.4,1455.4 656.9,1452.8 658.4,1450.2 659.9,1447.6 661.4,1444.9 662.9,1442.2 664.4,1439.5 665.9,1436.7 667.4,1433.9 668.9,1431.0 670.4,1428.1 671.9,1425.2 673.4,1422.2 674.9,1419.2 676.4,1416.2 677.9,1413.1 679.4,1410.0 680.9,1406.9 682.4,1403.7 683.9,1400.5 685.4,1397.3 686.9,1394.0 688.4,1390.7 689.9,1387.4 691.4,1384.1 692.9,1380.7 694.4,1377.3 695.9,1373.8 697.4,1370.4 698.9,1366.9 700.4,1363.3 701.9,1359.8 703.4,1356.2 704.9,1352.6 706.4,1349.0 707.9,1345.4 709.4,1341.7 710.9,1338.0 712.4,1334.3 713.9,1330.6 715.4,1326.8 716.9,1323.1 718.4,1319.3 719.9,1315.5 721.4,1311.7 722.9,1307.9 724.4,1304.1 725.9,1300.2 727.4,1296.4 728.9,1292.5 730.4,1288.7 731.9,1284.8 733.4,1280.9 734.9,1277.1 736.4,1273.2 737.9,1269.3 739.4,1265.5 740.9,1261.6 742.4,1257.7 743.9,1253.8 745.4,1250.0 746.9,1246.1 748.4,1242.3 749.9,1238.5 751.4,1234.6 752.9,1230.8 754.4,1227.0 755.9,1223.3 757.4,1219.5 758.9,1215.8 760.4,1212.0 761.9,1208.4 763.4,1204.7 764.9,1201.0 766.4,1197.4 767.9,1193.8 769.4,1190.2 770.9,1186.7 772.4,1183.2 773.9,1179.7 775.4,1176.3 776.9,1172.9 778.4,1169.5 779.9,1166.2 781.4,1162.9 782.9,1159.7 784.4,1156.5 785.9,1153.4 787.4,1150.3 788.9,1147.2 790.4,1144.2 791.9,1141.3 793.4,1138.4 794.9,1135.5 796.4,1132.7 797.9,1130.0 799.4,1127.3 800.9,1124.7 802.4,1122.1 803.9,1119.6 805.4,1117.2 806.9,1114.8 808.4,1112.5 809.9,1110.3 811.4,1108.1 812.9,1106.0 814.4,1103.9 815.9,1102.0 817.4,1100.1 818.9,1098.2 820.4,1096.5 821.9,1094.8 823.4,1093.2 824.9,1091.7 826.4,1090.2 827.9,1088.8 829.4,1087.5 830.9,1086.3 832.4,1085.2 833.9,1084.1 835.4,1083.1 836.9,1082.2 838.4,1081.4 839.9,1080.6 841.4,1080.0 842.9,1079.4 844.4,1078.9 845.9,1078.5 847.4,1078.1 848.9,1077.9 850.4,1077.7 851.9,1077.6 853.4,1077.6 854.9,1077.7 856.4,1077.8 857.9,1078.1 859.4,1078.4 860.9,1078.8 862.4,1079.3 863.9,1079.9 865.4,1080.5 866.9,1081.3 868.4,1082.1 869.9,1083.0 871.4,1083.9 872.9,1085.0 874.4,1086.1 875.9,1087.3 877.4,1088.6 878.9,1090.0 880.4,1091.4 881.9,1093.0 883.4,1094.6 884.9,1096.2 886.4,1098.0 887.9,1099.8 889.4,1101.7 890.9,1103.6 892.4,1105.7 893.9,1107.8 895.4,1109.9 896.9,1112.2 898.4,1114.5 899.9,1116.8 901.4,1119.3 902.9,1121.7 904.4,1124.3 905.9,1126.9 907.4,1129.6 908.9,1132.3 910.4,1135.1 911.9,1137.9 913.4,1140.8 914.9,1143.8 916.4,1146.8 917.9,1149.8 919.4,1152.9 920.9,1156.0 922.4,1159.2 923.9,1162.5 925.4,1165.7 926.9,1169.0 928.4,1172.4 929.9,1175.8 931.4,1179.2 932.9,1182.7 934.4,1186.2 935.9,1189.7 937.4,1193.3 938.9,1196.9 940.4,1200.5 941.9,1204.1 943.4,1207.8 944.9,1211.5 946.4,1215.2 947.9,1219.0 949.4,1222.7 950.9,1226.5 952.4,1230.3 953.9,1234.1 955.4,1237.9 956.9,1241.7 958.4,1245.6 959.9,1249.4 961.4,1253.3 962.9,1257.1 964.4,1261.0 965.9,1264.9 967.4,1268.7 968.9,1272.6 970.4,1276.5 971.9,1280.4 973.4,1284.2 974.9,1288.1 976.4,1292.0 977.9,1295.8 979.4,1299.7 980.9,1303.5 982.4,1307.3 983.9,1311.2 985.4,1315.0 986.9,1318.7 988.4,1322.5 989.9,1326.3 991.4,1330.0 992.9,1333.8 994.4,1337.5 995.9,1341.1 997.4,1344.8 998.9,1348.5 1000.4,1352.1 1001.9,1355.7 1003.4,1359.3 1004.9,1362.8 1006.4,1366.3 1007.9,1369.8 1009.4,1373.3 1010.9,1376.8 1012.4,1380.2 1013.9,1383.6 1015.4,1386.9 1016.9,1390.3 1018.4,1393.6 1019.9,1396.8 1021.4,1400.1 1022.9,1403.3 1024.4,1406.4 1025.9,1409.6 1027.4,1412.7 1028.9,1415.7 1030.4,1418.8 1031.9,1421.8 1033.4,1424.8 1034.9,1427.7 1036.4,1430.6 1037.9,1433.4 1039.4,1436.3 1040.9,1439.1 1042.4,1441.8 1043.9,1444.5 1045.4,1447.2 1046.9,1449.8 1048.4,1452.4 1049.9,1455.0 1051.4,1457.5 1052.9,1460.0 1054.4,1462.5 1055.9,1464.9 1057.4,1467.3 1058.9,1469.7 1060.4,1472.0 1061.9,1474.2 1063.4,1476.5 1064.9,1478.7 1066.4,1480.8 1067.9,1483.0 1069.4,1485.1 1070.9,1487.1 1072.4,1489.1 1073.9,1491.1 1075.4,1493.1 1076.9,1495.0 1078.4,1496.9 1079.9,1498.7 1081.4,1500.5 1082.9,1502.3 1084.4,1504.0 1085.9,1505.7 1087.4,1507.4 1088.9,1509.1 1090.4,1510.7 1091.9,1512.2 1093.4,1513.8 1094.9,1515.3 1096.4,1516.8 1097.9,1518.2 1099.4,1519.7 1100.9,1521.0 1102.4,1522.4 1103.9,1523.7 1105.4,1525.0 1106.9,1526.3 1108.4,1527.5 1109.9,1528.8 1111.4,1530.0 1112.9,1531.1 1114.4,1532.2 1115.9,1533.4 1117.4,1534.4 1118.9,1535.5 1120.4,1536.5 1121.9,1537.5 1123.4,1538.5 1124.9,1539.5 1126.4,1540.4 1127.9,1541.3 1129.4,1542.2 1130.9,1543.1 1132.4,1543.9 1133.9,1544.7 1135.4,1545.5 1136.9,1546.3 1138.4,1547.1 1139.9,1547.8 1141.4,1548.5 1142.9,1549.2 1144.4,1549.9 1145.9,1550.6 1147.4,1551.2 1148.9,1551.9 1150.4,1552.5 1151.9,1553.1 1153.4,1553.6 1154.9,1554.2 1156.4,1554.7 1157.9,1555.3 1159.4,1555.8 1160.9,1556.3 1162.4,1556.8 1163.9,1557.2 1165.4,1557.7 1166.9,1558.1 1168.4,1558.6 1169.9,1559.0 1171.4,1559.4 1172.9,1559.8 1174.4,1560.1 1175.9,1560.5 1177.4,1560.9 1178.9,1561.2 1180.4,1561.5 1181.9,1561.9 1183.4,1562.2 1184.9,1562.5 1186.4,1562.8 1187.9,1563.1 1189.4,1563.3 1190.9,1563.6 1192.4,1563.9 1193.9,1564.1 1195.4,1564.4 1196.9,1564.6 1198.4,1564.8 1199.9,1565.0 1201.4,1565.2 1202.9,1565.4 1204.4,1565.6 1205.9,1565.8 1207.4,1566.0 1208.9,1566.2 1210.4,1566.3 1211.9,1566.5 1213.4,1566.7 1214.9,1566.8 1216.4,1567.0 1217.9,1567.1 1219.4,1567.2 1220.9,1567.4 1222.4,1567.5 1223.9,1567.6 1225.4,1567.7 1226.9,1567.9 1228.4,1568.0 1229.9,1568.1 1231.4,1568.2 1232.9,1568.3 1234.4,1568.4 1235.9,1568.4 1237.4,1568.5 1238.9,1568.6 1240.4,1568.7 1241.9,1568.8 1243.4,1568.8 1244.9,1568.9 1246.4,1569.0 1247.9,1569.1 1249.4,1569.1 1250.9,1569.2 1252.4,1569.2 1253.9,1569.3 1255.4,1569.3 1256.9,1569.4 1258.4,1569.4 1259.9,1569.5 1261.4,1569.5 1262.9,1569.6 1264.4,1569.6 1265.9,1569.7 1267.4,1569.7 1268.9,1569.7 1270.4,1569.8 1271.9,1569.8 1273.4,1569.8 1274.9,1569.9 1276.4,1569.9 1277.9,1569.9 1279.4,1569.9 1280.9,1570.0 1282.4,1570.0 1283.9,1570.0 1285.4,1570.0 1286.9,1570.1 1288.4,1570.1 1289.9,1570.1 1291.4,1570.1 1292.9,1570.1 1294.4,1570.2 1295.9,1570.2 1297.4,1570.2 1298.9,1570.2 1300.4,1570.2 1301.9,1570.2 1303.4,1570.2 1304.9,1570.3 1306.4,1570.3 1307.9,1570.3 1309.4,1570.3 1310.9,1570.3 1312.4,1570.3 1313.9,1570.3 1315.4,1570.3 1315.6,1570.3 1315.6,1576.4" fill="#0000ff" fill-opacity="0.4" stroke="none"/>
<polyline points="389.9,1570.3 391.4,1570.3 392.9,1570.3 394.4,1570.3 395.9,1570.3 397.4,1570.3 398.9,1570.3 400.4,1570.3 401.9,1570.3 403.4,1570.2 404.9,1570.2 406.4,1570.2 407.9,1570.2 409.4,1570.2 410.9,1570.2 412.4,1570.1 413.9,1570.1 415.4,1570.1 416.9,1570.1 418.4,1570.1 419.9,1570.0 421.4,1570.0 422.9,1570.0 424.4,1570.0 425.9,1570.0 427.4,1569.9 428.9,1569.9 430.4,1569.9 431.9,1569.8 433.4,1569.8 434.9,1569.8 436.4,1569.7 437.9,1569.7 439.4,1569.7 440.9,1569.6 442.4,1569.6 443.9,1569.5 445.4,1569.5 446.9,1569.4 448.4,1569.4 449.9,1569.3 451.4,1569.3 452.9,1569.2 454.4,1569.2 455.9,1569.1 457.4,1569.1 458.9,1569.0 460.4,1568.9 461.9,1568.9 463.4,1568.8 464.9,1568.7 466.4,1568.6 467.9,1568.5 469.4,1568.5 470.9,1568.4 472.4,1568.3 473.9,1568.2 475.4,1568.1 476.9,1568.0 478.4,1567.9 479.9,1567.8 481.4,1567.6 482.9,1567.5 484.4,1567.4 485.9,1567.3 487.4,1567.1 488.9,1567.0 490.4,1566.8 491.9,1566.7 493.4,1566.5 494.9,1566.4 496.4,1566.2 497.9,1566.0 499.4,1565.8 500.9,1565.7 502.4,1565.5 503.9,1565.3 505.4,1565.1 506.9,1564.8 508.4,1564.6 509.9,1564.4 511.4,1564.1 512.9,1563.9 514.4,1563.6 515.9,1563.4 517.4,1563.1 518.9,1562.8 520.4,1562.5 521.9,1562.2 523.4,1561.9 524.9,1561.6 526.4,1561.3 527.9,1560.9 529.4,1560.6 530.9,1560.2 532.4,1559.8 533.9,1559.4 535.4,1559.0 536.9,1558.6 538.4,1558.2 539.9,1557.8 541.4,1557.3 542.9,1556.8 544.4,1556.4 545.9,1555.9 547.4,1555.3 548.9,1554.8 550.4,1554.3 551.9,1553.7 553.4,1553.1 554.9,1552.6 556.4,1551.9 557.9,1551.3 559.4,1550.7 560.9,1550.0 562.4,1549.3 563.9,1548.6 565.4,1547.9 566.9,1547.2 568.4,1546.4 569.9,1545.7 571.4,1544.9 572.9,1544.0 574.4,1543.2 575.9,1542.3 577.4,1541.5 578.9,1540.5 580.4,1539.6 581.9,1538.7 583.4,1537.7 584.9,1536.7 586.4,1535.7 587.9,1534.6 589.4,1533.5 590.9,1532.4 592.4,1531.3 593.9,1530.1 595.4,1528.9 596.9,1527.7 598.4,1526.5 599.9,1525.2 601.4,1523.9 602.9,1522.6 604.4,1521.2 605.9,1519.9 607.4,1518.4 608.9,1517.0 610.4,1515.5 611.9,1514.0 613.4,1512.5 614.9,1510.9 616.4,1509.3 617.9,1507.7 619.4,1506.0 620.9,1504.3 622.4,1502.5 623.9,1500.8 625.4,1499.0 626.9,1497.1 628.4,1495.3 629.9,1493.4 631.4,1491.4 632.9,1489.4 634.4,1487.4 635.9,1485.4 637.4,1483.3 638.9,1481.2 640.4,1479.0 641.9,1476.8 643.4,1474.6 644.9,1472.3 646.4,1470.0 647.9,1467.7 649.4,1465.3 650.9,1462.9 652.4,1460.4 653.9,1457.9 655.4,1455.4 656.9,1452.8 658.4,1450.2 659.9,1447.6 661.4,1444.9 662.9,1442.2 664.4,1439.5 665.9,1436.7 667.4,1433.9 668.9,1431.0 670.4,1428.1 671.9,1425.2 673.4,1422.2 674.9,1419.2 676.4,1416.2 677.9,1413.1 679.4,1410.0 680.9,1406.9 682.4,1403.7 683.9,1400.5 685.4,1397.3 686.9,1394.0 688.4,1390.7 689.9,1387.4 691.4,1384.1 692.9,1380.7 694.4,1377.3 695.9,1373.8 697.4,1370.4 698.9,1366.9 700.4,1363.3 701.9,1359.8 703.4,1356.2 704.9,1352.6 706.4,1349.0 707.9,1345.4 709.4,1341.7 710.9,1338.0 712.4,1334.3 713.9,1330.6 715.4,1326.8 716.9,1323.1 718.4,1319.3 719.9,1315.5 721.4,1311.7 722.9,1307.9 724.4,1304.1 725.9,1300.2 727.4,1296.4 728.9,1292.5 730.4,1288.7 731.9,1284.8 733.4,1280.9 734.9,1277.1 736.4,1273.2 737.9,1269.3 739.4,1265.5 740.9,1261.6 742.4,1257.7 743.9,1253.8 745.4,1250.0 746.9,1246.1 748.4,1242.3 749.9,1238.5 751.4,1234.6 752.9,1230.8 754.4,1227.0 755.9,1223.3 757.4,1219.5 758.9,1215.8 760.4,1212.0 761.9,1208.4 763.4,1204.7 764.9,1201.0 766.4,1197.4 767.9,1193.8 769.4,1190.2 770.9,1186.7 772.4,1183.2 773.9,1179.7 775.4,1176.3 776.9,1172.9 778.4,1169.5 779.9,1166.2 781.4,1162.9 782.9,1159.7 784.4,1156.5 785.9,1153.4 787.4,1150.3 788.9,1147.2 790.4,1144.2 791.9,1141.3 793.4,1138.4 794.9,1135.5 796.4,1132.7 797.9,1130.0 799.4,1127.3 800.9,1124.7 802.4,1122.1 803.9,1119.6 805.4,1117.2 806.9,1114.8 808.4,1112.5 809.9,1110.3 811.4,1108.1 812.9,1106.0 814.4,1103.9 815.9,1102.0 817.4,1100.1 818.9,1098.2 820.4,1096.5 821.9,1094.8 823.4,1093.2 824.9,1091.7 826.4,1090.2 827.9,1088.8 829.4,1087.5 830.9,1086.3 832.4,1085.2 833.9,1084.1 835.4,1083.1 836.9,1082.2 838.4,1081.4 839.9,1080.6 841.4,1080.0 842.9,1079.4 844.4,1078.9 845.9,1078.5 847.4,1078.1 848.9,1077.9 850.4,1077.7 851.9,1077.6 853.4,1077.6 854.9,1077.7 856.4,1077.8 857.9,1078.1 859.4,1078.4 860.9,1078.8 862.4,1079.3 863.9,1079.9 865.4,1080.5 866.9,1081.3 868.4,1082.1 869.9,1083.0 871.4,1083.9 872.9,1085.0 874.4,1086.1 875.9,1087.3 877.4,1088.6 878.9,1090.0 880.4,1091.4 881.9,1093.0 883.4,1094.6 884.9,1096.2 886.4,1098.0 887.9,1099.8 889.4,1101.7 890.9,1103.6 892.4,1105.7 893.9,1107.8 895.4,1109.9 896.9,1112.2 898.4,1114.5 899.9,1116.8 901.4,1119.3 902.9,1121.7 904.4,1124.3 905.9,1126.9 907.4,1129.6 908.9,1132.3 910.4,1135.1 911.9,1137.9 913.4,1140.8 914.9,1143.8 916.4,1146.8 917.9,1149.8 919.4,1152.9 920.9,1156.0 922.4,1159.2 923.9,1162.5 925.4,1165.7 926.9,1169.0 928.4,1172.4 929.9,1175.8 931.4,1179.2 932.9,1182.7 934.4,1186.2 935.9,1189.7 937.4,1193.3 938.9,1196.9 940.4,1200.5 941.9,1204.1 943.4,1207.8 944.9,1211.5 946.4,1215.2 947.9,1219.0 949.4,1222.7 950.9,1226.5 952.4,1230.3 953.9,1234.1 955.4,1237.9 956.9,1241.7 958.4,1245.6 959.9,1249.4 961.4,1253.3 962.9,1257.1 964.4,1261.0 965.9,1264.9 967.4,1268.7 968.9,1272.6 970.4,1276.5 971.9,1280.4 973.4,1284.2 974.9,1288.1 976.4,1292.0 977.9,1295.8 979.4,1299.7 980.9,1303.5 982.4,1307.3 983.9,1311.2 985.4,1315.0 986.9,1318.7 988.4,1322.5 989.9,1326.3 991.4,1330.0 992.9,1333.8 994.4,1337.5 995.9,1341.1 997.4,1344.8 998.9,1348.5 1000.4,1352.1 1001.9,1355.7 1003.4,1359.3 1004.9,1362.8 1006.4,1366.3 1007.9,1369.8 1009.4,1373.3 1010.9,1376.8 1012.4,1380.2 1013.9,1383.6 1015.4,1386.9 1016.9,1390.3 1018.4,1393.6 1019.9,1396.8 1021.4,1400.1 1022.9,1403.3 1024.4,1406.4 1025.9,1409.6 1027.4,1412.7 1028.9,1415.7 1030.4,1418.8 1031.9,1421.8 1033.4,1424.8 1034.9,1427.7 1036.4,1430.6 1037.9,1433.4 1039.4,1436.3 1040.9,1439.1 1042.4,1441.8 1043.9,1444.5 1045.4,1447.2 1046.9,1449.8 1048.4,1452.4 1049.9,1455.0 1051.4,1457.5 1052.9,1460.0 1054.4,1462.5 1055.9,1464.9 1057.4,1467.3 1058.9,1469.7 1060.4,1472.0 1061.9,1474.2 1063.4,1476.5 1064.9,1478.7 1066.4,1480.8 1067.9,1483.0 1069.4,1485.1 1070.9,1487.1 1072.4,1489.1 1073.9,1491.1 1075.4,1493.1 1076.9,1495.0 1078.4,1496.9 1079.9,1498.7 1081.4,1500.5 1082.9,1502.3 1084.4,1504.0 1085.9,1505.7 1087.4,1507.4 1088.9,1509.1 1090.4,1510.7 1091.9,1512.2 1093.4,1513.8 1094.9,1515.3 1096.4,1516.8 1097.9,1518.2 1099.4,1519.7 1100.9,1521.0 1102.4,1522.4 1103.9,1523.7 1105.4,1525.0 1106.9,1526.3 1108.4,1527.5 1109.9,1528.8 1111.4,1530.0 1112.9,1531.1 1114.4,1532.2 1115.9,1533.4 1117.4,1534.4 1118.9,1535.5 1120.4,1536.5 1121.9,1537.5 1123.4,1538.5 1124.9,1539.5 1126.4,1540.4 1127.9,1541.3 1129.4,1542.2 1130.9,1543.1 1132.4,1543.9 1133.9,1544.7 1135.4,1545.5 1136.9,1546.3 1138.4,1547.1 1139.9,1547.8 1141.4,1548.5 1142.9,1549.2 1144.4,1549.9 1145.9,1550.6 1147.4,1551.2 1148.9,1551.9 1150.4,1552.5 1151.9,1553.1 1153.4,1553.6 1154.9,1554.2 1156.4,1554.7 1157.9,1555.3 1159.4,1555.8 1160.9,1556.3 1162.4,1556.8 1163.9,1557.2 1165.4,1557.7 1166.9,1558.1 1168.4,1558.6 1169.9,1559.0 1171.4,1559.4 1172.9,1559.8 1174.4,1560.1 1175.9,1560.5 1177.4,1560.9 1178.9,1561.2 1180.4,1561.5 1181.9,1561.9 1183.4,1562.2 1184.9,1562.5 1186.4,1562.8 1187.9,1563.1 1189.4,1563.3 1190.9,1563.6 1192.4,1563.9 1193.9,1564.1 1195.4,1564.4 1196.9,1564.6 1198.4,1564.8 1199.9,1565.0 1201.4,1565.2 1202.9,1565.4 1204.4,1565.6 1205.9,1565.8 1207.4,1566.0 1208.9,1566.2 1210.4,1566.3 1211.9,1566.5 1213.4,1566.7 1214.9,1566.8 1216.4,1567.0 1217.9,1567.1 1219.4,1567.2 1220.9,1567.4 1222.4,1567.5 1223.9,1567.6 1225.4,1567.7 1226.9,1567.9 1228.4,1568.0 1229.9,1568.1 1231.4,1568.2 1232.9,1568.3 1234.4,1568.4 1235.9,1568.4 1237.4,1568.5 1238.9,1568.6 1240.4,1568.7 1241.9,1568.8 1243.4,1568.8 1244.9,1568.9 1246.4,1569.0 1247.9,1569.1 1249.4,1569.1 1250.9,1569.2 1252.4,1569.2 1253.9,1569.3 1255.4,1569.3 1256.9,1569.4 1258.4,1569.4 1259.9,1569.5 1261.4,1569.5 1262.9,1569.6 1264.4,1569.6 1265.9,1569.7 1267.4,1569.7 1268.9,1569.7 1270.4,1569.8 1271.9,1569.8 1273.4,1569.8 1274.9,1569.9 1276.4,1569.9 1277.9,1569.9 1279.4,1569.9 1280.9,1570.0 1282.4,1570.0 1283.9,1570.0 1285.4,1570.0 1286.9,1570.1 1288.4,1570.1 1289.9,1570.1 1291.4,1570.1 1292.9,1570.1 1294.4,1570.2 1295.9,1570.2 1297.4,1570.2 1298.9,1570.2 1300.4,1570.2 1301.9,1570.2 1303.4,1570.2 1304.9,1570.3 1306.4,1570.3 1307.9,1570.3 1309.4,1570.3 1310.9,1570.3 1312.4,1570.3 1313.9,1570.3 1315.4,1570.3 1315.6,1570.3" fill="none" stroke="#0000ff" stroke-width="4.34" stroke-linejoin="round"/>
<polygon points="982.5,1576.4 982.5,1570.4 984.0,1570.4 985.5,1570.4 987.0,1570.4 988.5,1570.4 990.0,1570.4 991.5,1570.4 993.0,1570.4 994.5,1570.4 996.0,1570.4 997.5,1570.4 999.0,1570.4 1000.5,1570.4 1002.0,1570.3 1003.5,1570.3 1005.0,1570.3 1006.5,1570.3 1008.0,1570.3 1009.5,1570.3 1011.0,1570.3 1012.5,1570.3 1014.0,1570.3 1015.5,1570.3 1017.0,1570.3 1018.5,1570.2 1020.0,1570.2 1021.5,1570.2 1023.0,1570.2 1024.5,1570.2 1026.0,1570.2 1027.5,1570.2 1029.0,1570.1 1030.5,1570.1 1032.0,1570.1 1033.5,1570.1 1035.0,1570.1 1036.5,1570.0 1038.0,1570.0 1039.5,1570.0 1041.0,1570.0 1042.5,1570.0 1044.0,1569.9 1045.5,1569.9 1047.0,1569.9 1048.5,1569.8 1050.0,1569.8 1051.5,1569.8 1053.0,1569.8 1054.5,1569.7 1056.0,1569.7 1057.5,1569.6 1059.0,1569.6 1060.5,1569.6 1062.0,1569.5 1063.5,1569.5 1065.0,1569.4 1066.5,1569.4 1068.0,1569.4 1069.5,1569.3 1071.0,1569.3 1072.5,1569.2 1074.0,1569.1 1075.5,1569.1 1077.0,1569.0 1078.5,1569.0 1080.0,1568.9 1081.5,1568.8 1083.0,1568.8 1084.5,1568.7 1086.0,1568.6 1087.5,1568.5 1089.0,1568.5 1090.5,1568.4 1092.0,1568.3 1093.5,1568.2 1095.0,1568.1 1096.5,1568.0 1098.0,1567.9 1099.5,1567.8 1101.0,1567.7 1102.5,1567.6 1104.0,1567.5 1105.5,1567.4 1107.0,1567.3 1108.5,1567.1 1110.0,1567.0 1111.5,1566.9 1113.0,1566.7 1114.5,1566.6 1116.0,1566.5 1117.5,1566.3 1119.0,1566.2 1120.5,1566.0 1122.0,1565.8 1123.5,1565.7 1125.0,1565.5 1126.5,1565.3 1128.0,1565.1 1129.5,1564.9 1131.0,1564.7 1132.5,1564.5 1134.0,1564.3 1135.5,1564.1 1137.0,1563.9 1138.5,1563.6 1140.0,1563.4 1141.5,1563.1 1143.0,1562.9 1144.5,1562.6 1146.0,1562.4 1147.5,1562.1 1149.0,1561.8 1150.5,1561.5 1152.0,1561.2 1153.5,1560.9 1155.0,1560.6 1156.5,1560.2 1158.0,1559.9 1159.5,1559.6 1161.0,1559.2 1162.5,1558.8 1164.0,1558.5 1165.5,1558.1 1167.0,1557.7 1168.5,1557.3 1170.0,1556.9 1171.5,1556.5 1173.0,1556.0 1174.5,1555.6 1176.0,1555.1 1177.5,1554.7 1179.0,1554.2 1180.5,1553.7 1182.0,1553.2 1183.5,1552.7 1185.0,1552.1 1186.5,1551.6 1188.0,1551.0 1189.5,1550.5 1191.0,1549.9 1192.5,1549.3 1194.0,1548.7 1195.5,1548.1 1197.0,1547.4 1198.5,1546.8 1200.0,1546.1 1201.5,1545.4 1203.0,1544.8 1204.5,1544.1 1206.0,1543.3 1207.5,1542.6 1209.0,1541.8 1210.5,1541.1 1212.0,1540.3 1213.5,1539.5 1215.0,1538.7 1216.5,1537.9 1218.0,1537.0 1219.5,1536.2 1221.0,1535.3 1222.5,1534.4 1224.0,1533.5 1225.5,1532.5 1227.0,1531.6 1228.5,1530.6 1230.0,1529.7 1231.5,1528.7 1233.0,1527.7 1234.5,1526.6 1236.0,1525.6 1237.5,1524.5 1239.0,1523.4 1240.5,1522.3 1242.0,1521.2 1243.5,1520.1 1245.0,1518.9 1246.5,1517.8 1248.0,1516.6 1249.5,1515.4 1251.0,1514.1 1252.5,1512.9 1254.0,1511.7 1255.5,1510.4 1257.0,1509.1 1258.5,1507.8 1260.0,1506.4 1261.5,1505.1 1263.0,1503.7 1264.5,1502.4 1266.0,1501.0 1267.5,1499.6 1269.0,1498.1 1270.5,1496.7 1272.0,1495.2 1273.5,1493.7 1275.0,1492.3 1276.5,1490.7 1278.0,1489.2 1279.5,1487.7 1281.0,1486.1 1282.5,1484.5 1284.0,1483.0 1285.5,1481.4 1287.0,1479.7 1288.5,1478.1 1290.0,1476.5 1291.5,1474.8 1293.0,1473.1 1294.5,1471.5 1296.0,1469.8 1297.5,1468.1 1299.0,1466.3 1300.5,1464.6 1302.0,1462.9 1303.5,1461.1 1305.0,1459.4 1306.5,1457.6 1308.0,1455.8 1309.5,1454.0 1311.0,1452.2 1312.5,1450.4 1314.0,1448.6 1315.5,1446.8 1317.0,1445.0 1318.5,1443.1 1320.0,1441.3 1321.5,1439.5 1323.0,1437.6 1324.5,1435.8 1326.0,1433.9 1327.5,1432.1 1329.0,1430.2 1330.5,1428.3 1332.0,1426.5 1333.5,1424.6 1335.0,1422.8 1336.5,1420.9 1338.0,1419.0 1339.5,1417.2 1341.0,1415.3 1342.5,1413.5 1344.0,1411.6 1345.5,1409.8 1347.0,1408.0 1348.5,1406.1 1350.0,1404.3 1351.5,1402.5 1353.0,1400.7 1354.5,1398.9 1356.0,1397.1 1357.5,1395.3 1359.0,1393.6 1360.5,1391.8 1362.0,1390.1 1363.5,1388.4 1365.0,1386.6 1366.5,1385.0 1368.0,1383.3 1369.5,1381.6 1371.0,1379.9 1372.5,1378.3 1374.0,1376.7 1375.5,1375.1 1377.0,1373.5 1378.5,1372.0 1380.0,1370.4 1381.5,1368.9 1383.0,1367.4 1384.5,1366.0 1386.0,1364.5 1387.5,1363.1 1389.0,1361.7 1390.5,1360.3 1392.0,1359.0 1393.5,1357.6 1395.0,1356.4 1396.5,1355.1 1398.0,1353.9 1399.5,1352.6 1401.0,1351.5 1402.5,1350.3 1404.0,1349.2 1405.5,1348.1 1407.0,1347.1 1408.5,1346.0 1410.0,1345.0 1411.5,1344.1 1413.0,1343.2 1414.5,1342.3 1416.0,1341.4 1417.5,1340.6 1419.0,1339.8 1420.5,1339.1 1422.0,1338.3 1423.5,1337.7 1425.0,1337.0 1426.5,1336.4 1428.0,1335.9 1429.5,1335.3 1431.0,1334.8 1432.5,1334.4 1434.0,1334.0 1435.5,1333.6 1437.0,1333.2 1438.5,1332.9 1440.0,1332.7 1441.5,1332.5 1443.0,1332.3 1444.5,1332.1 1446.0,1332.0 1447.5,1332.0 1449.0,1331.9 1450.5,1332.0 1452.0,1332.0 1453.5,1332.1 1455.0,1332.2 1456.5,1332.4 1458.0,1332.6 1459.5,1332.9 1461.0,1333.2 1462.5,1333.5 1464.0,1333.9 1465.5,1334.3 1467.0,1334.7 1468.5,1335.2 1470.0,1335.7 1471.5,1336.3 1473.0,1336.9 1474.5,1337.5 1476.0,1338.1 1477.5,1338.9 1479.0,1339.6 1480.5,1340.4 1482.0,1341.2 1483.5,1342.0 1485.0,1342.9 1486.5,1343.8 1488.0,1344.8 1489.5,1345.7 1491.0,1346.8 1492.5,1347.8 1494.0,1348.9 1495.5,1350.0 1497.0,1351.1 1498.5,1352.3 1500.0,1353.5 1501.5,1354.7 1503.0,1356.0 1504.5,1357.3 1506.0,1358.6 1507.5,1359.9 1509.0,1361.3 1510.5,1362.7 1512.0,1364.1 1513.5,1365.5 1515.0,1367.0 1516.5,1368.5 1518.0,1370.0 1519.5,1371.5 1521.0,1373.1 1522.5,1374.7 1524.0,1376.2 1525.5,1377.9 1527.0,1379.5 1528.5,1381.1 1530.0,1382.8 1531.5,1384.5 1533.0,1386.2 1534.5,1387.9 1536.0,1389.6 1537.5,1391.3 1539.0,1393.1 1540.5,1394.8 1542.0,1396.6 1543.5,1398.4 1545.0,1400.2 1546.5,1402.0 1548.0,1403.8 1549.5,1405.6 1551.0,1407.4 1552.5,1409.3 1554.0,1411.1 1555.5,1413.0 1557.0,1414.8 1558.5,1416.7 1560.0,1418.5 1561.5,1420.4 1563.0,1422.2 1564.5,1424.1 1566.0,1425.9 1567.5,1427.8 1569.0,1429.7 1570.5,1431.5 1572.0,1433.4 1573.5,1435.2 1575.0,1437.1 1576.5,1438.9 1578.0,1440.8 1579.5,1442.6 1581.0,1444.4 1582.5,1446.3 1584.0,1448.1 1585.5,1449.9 1587.0,1451.7 1588.5,1453.5 1590.0,1455.3 1591.5,1457.1 1593.0,1458.9 1594.5,1460.6 1596.0,1462.4 1597.5,1464.1 1599.0,1465.9 1600.5,1467.6 1602.0,1469.3 1603.5,1471.0 1605.0,1472.7 1606.5,1474.3 1608.0,1476.0 1609.5,1477.6 1611.0,1479.3 1612.5,1480.9 1614.0,1482.5 1615.5,1484.1 1617.0,1485.7 1618.5,1487.2 1620.0,1488.8 1621.5,1490.3 1623.0,1491.8 1624.5,1493.3 1626.0,1494.8 1627.5,1496.3 1629.0,1497.7 1630.5,1499.2 1632.0,1500.6 1633.5,1502.0 1635.0,1503.4 1636.5,1504.7 1638.0,1506.1 1639.5,1507.4 1641.0,1508.7 1642.5,1510.0 1644.0,1511.3 1645.5,1512.5 1647.0,1513.8 1648.5,1515.0 1650.0,1516.2 1651.5,1517.4 1653.0,1518.6 1654.5,1519.8 1656.0,1520.9 1657.5,1522.0 1659.0,1523.1 1660.5,1524.2 1662.0,1525.3 1663.5,1526.3 1665.0,1527.4 1666.5,1528.4 1668.0,1529.4 1669.5,1530.4 1671.0,1531.3 1672.5,1532.3 1674.0,1533.2 1675.5,1534.1 1677.0,1535.0 1678.5,1535.9 1680.0,1536.8 1681.5,1537.6 1683.0,1538.5 1684.5,1539.3 1686.0,1540.1 1687.5,1540.9 1689.0,1541.6 1690.5,1542.4 1692.0,1543.1 1693.5,1543.8 1695.0,1544.6 1696.5,1545.3 1698.0,1545.9 1699.5,1546.6 1701.0,1547.3 1702.5,1547.9 1704.0,1548.5 1705.5,1549.1 1707.0,1549.7 1708.5,1550.3 1710.0,1550.9 1711.5,1551.4 1713.0,1552.0 1714.5,1552.5 1716.0,1553.0 1717.5,1553.5 1719.0,1554.0 1720.5,1554.5 1722.0,1555.0 1723.5,1555.4 1725.0,1555.9 1726.5,1556.3 1728.0,1556.8 1729.5,1557.2 1731.0,1557.6 1732.5,1558.0 1734.0,1558.4 1735.5,1558.7 1737.0,1559.1 1738.5,1559.5 1740.0,1559.8 1741.5,1560.2 1743.0,1560.5 1744.5,1560.8 1746.0,1561.1 1747.5,1561.4 1749.0,1561.7 1750.5,1562.0 1752.0,1562.3 1753.5,1562.5 1755.0,1562.8 1756.5,1563.1 1758.0,1563.3 1759.5,1563.6 1761.0,1563.8 1762.5,1564.0 1764.0,1564.2 1765.5,1564.4 1767.0,1564.7 1768.5,1564.9 1770.0,1565.1 1771.5,1565.2 1773.0,1565.4 1774.5,1565.6 1776.0,1565.8 1777.5,1565.9 1779.0,1566.1 1780.5,1566.3 1782.0,1566.4 1783.5,1566.6 1785.0,1566.7 1786.5,1566.8 1788.0,1567.0 1789.5,1567.1 1791.0,1567.2 1792.5,1567.4 1794.0,1567.5 1795.5,1567.6 1797.0,1567.7 1798.5,1567.8 1800.0,1567.9 1801.5,1568.0 1803.0,1568.1 1804.5,1568.2 1806.0,1568.3 1807.5,1568.4 1809.0,1568.4 1810.5,1568.5 1812.0,1568.6 1813.5,1568.7 1815.0,1568.7 1816.5,1568.8 1818.0,1568.9 1819.5,1568.9 1821.0,1569.0 1822.5,1569.1 1824.0,1569.1 1825.5,1569.2 1827.0,1569.2 1828.5,1569.3 1830.0,1569.3 1831.5,1569.4 1833.0,1569.4 1834.5,1569.5 1836.0,1569.5 1837.5,1569.6 1839.0,1569.6 1840.5,1569.6 1842.0,1569.7 1843.5,1569.7 1845.0,1569.7 1846.5,1569.8 1848.0,1569.8 1849.5,1569.8 1851.0,1569.9 1852.5,1569.9 1854.0,1569.9 1855.5,1569.9 1857.0,1570.0 1858.5,1570.0 1860.0,1570.0 1861.5,1570.0 1863.0,1570.1 1864.5,1570.1 1866.0,1570.1 1867.5,1570.1 1869.0,1570.1 1870.5,1570.1 1872.0,1570.2 1873.5,1570.2 1875.0,1570.2 1876.5,1570.2 1878.0,1570.2 1879.5,1570.2 1881.0,1570.2 1882.5,1570.3 1884.0,1570.3 1885.5,1570.3 1887.0,1570.3 1888.5,1570.3 1890.0,1570.3 1891.5,1570.3 1893.0,1570.3 1894.5,1570.3 1896.0,1570.3 1897.5,1570.4 1899.0,1570.4 1900.5,1570.4 1902.0,1570.4 1903.5,1570.4 1905.0,1570.4 1906.5,1570.4 1908.0,1570.4 1909.5,1570.4 1911.0,1570.4 1912.5,1570.4 1914.0,1570.4 1915.5,1570.4 1915.9,1570.4 1915.9,1576.4" fill="#009b46" fill-opacity="0.4" stroke="none"/>
<polyline points="982.5,1570.4 984.0,1570.4 985.5,1570.4 987.0,1570.4 988.5,1570.4 990.0,1570.4 991.5,1570.4 993.0,1570.4 994.5,1570.4 996.0,1570.4 997.5,1570.4 999.0,1570.4 1000.5,1570.4 1002.0,1570.3 1003.5,1570.3 1005.0,1570.3 1006.5,1570.3 1008.0,1570.3 1009.5,1570.3 1011.0,1570.3 1012.5,1570.3 1014.0,1570.3 1015.5,1570.3 1017.0,1570.3 1018.5,1570.2 1020.0,1570.2 1021.5,1570.2 1023.0,1570.2 1024.5,1570.2 1026.0,1570.2 1027.5,1570.2 1029.0,1570.1 1030.5,1570.1 1032.0,1570.1 1033.5,1570.1 1035.0,1570.1 1036.5,1570.0 1038.0,1570.0 1039.5,1570.0 1041.0,1570.0 1042.5,1570.0 1044.0,1569.9 1045.5,1569.9 1047.0,1569.9 1048.5,1569.8 1050.0,1569.8 1051.5,1569.8 1053.0,1569.8 1054.5,1569.7 1056.0,1569.7 1057.5,1569.6 1059.0,1569.6 1060.5,1569.6 1062.0,1569.5 1063.5,1569.5 1065.0,1569.4 1066.5,1569.4 1068.0,1569.4 1069.5,1569.3 1071.0,1569.3 1072.5,1569.2 1074.0,1569.1 1075.5,1569.1 1077.0,1569.0 1078.5,1569.0 1080.0,1568.9 1081.5,1568.8 1083.0,1568.8 1084.5,1568.7 1086.0,1568.6 1087.5,1568.5 1089.0,1568.5 1090.5,1568.4 1092.0,1568.3 1093.5,1568.2 1095.0,1568.1 1096.5,1568.0 1098.0,1567.9 1099.5,1567.8 1101.0,1567.7 1102.5,1567.6 1104.0,1567.5 1105.5,1567.4 1107.0,1567.3 1108.5,1567.1 1110.0,1567.0 1111.5,1566.9 1113.0,1566.7 1114.5,1566.6 1116.0,1566.5 1117.5,1566.3 1119.0,1566.2 1120.5,1566.0 1122.0,1565.8 1123.5,1565.7 1125.0,1565.5 1126.5,1565.3 1128.0,1565.1 1129.5,1564.9 1131.0,1564.7 1132.5,1564.5 1134.0,1564.3 1135.5,1564.1 1137.0,1563.9 1138.5,1563.6 1140.0,1563.4 1141.5,1563.1 1143.0,1562.9 1144.5,1562.6 1146.0,1562.4 1147.5,1562.1 1149.0,1561.8 1150.5,1561.5 1152.0,1561.2 1153.5,1560.9 1155.0,1560.6 1156.5,1560.2 1158.0,1559.9 1159.5,1559.6 1161.0,1559.2 1162.5,1558.8 1164.0,1558.5 1165.5,1558.1 1167.0,1557.7 1168.5,1557.3 1170.0,1556.9 1171.5,1556.5 1173.0,1556.0 1174.5,1555.6 1176.0,1555.1 1177.5,1554.7 1179.0,1554.2 1180.5,1553.7 1182.0,1553.2 1183.5,1552.7 1185.0,1552.1 1186.5,1551.6 1188.0,1551.0 1189.5,1550.5 1191.0,1549.9 1192.5,1549.3 1194.0,1548.7 1195.5,1548.1 1197.0,1547.4 1198.5,1546.8 1200.0,1546.1 1201.5,1545.4 1203.0,1544.8 1204.5,1544.1 1206.0,1543.3 1207.5,1542.6 1209.0,1541.8 1210.5,1541.1 1212.0,1540.3 1213.5,1539.5 1215.0,1538.7 1216.5,1537.9 1218.0,1537.0 1219.5,1536.2 1221.0,1535.3 1222.5,1534.4 1224.0,1533.5 1225.5,1532.5 1227.0,1531.6 1228.5,1530.6 1230.0,1529.7 1231.5,1528.7 1233.0,1527.7 1234.5,1526.6 1236.0,1525.6 1237.5,1524.5 1239.0,1523.4 1240.5,1522.3 1242.0,1521.2 1243.5,1520.1 1245.0,1518.9 1246.5,1517.8 1248.0,1516.6 1249.5,1515.4 1251.0,1514.1 1252.5,1512.9 1254.0,1511.7 1255.5,1510.4 1257.0,1509.1 1258.5,1507.8 1260.0,1506.4 1261.5,1505.1 1263.0,1503.7 1264.5,1502.4 1266.0,1501.0 1267.5,1499.6 1269.0,1498.1 1270.5,1496.7 1272.0,1495.2 1273.5,1493.7 1275.0,1492.3 1276.5,1490.7 1278.0,1489.2 1279.5,1487.7 1281.0,1486.1 1282.5,1484.5 1284.0,1483.0 1285.5,1481.4 1287.0,1479.7 1288.5,1478.1 1290.0,1476.5 1291.5,1474.8 1293.0,1473.1 1294.5,1471.5 1296.0,1469.8 1297.5,1468.1 1299.0,1466.3 1300.5,1464.6 1302.0,1462.9 1303.5,1461.1 1305.0,1459.4 1306.5,1457.6 1308.0,1455.8 1309.5,1454.0 1311.0,1452.2 1312.5,1450.4 1314.0,1448.6 1315.5,1446.8 1317.0,1445.0 1318.5,1443.1 1320.0,1441.3 1321.5,1439.5 1323.0,1437.6 1324.5,1435.8 1326.0,1433.9 1327.5,1432.1 1329.0,1430.2 1330.5,1428.3 1332.0,1426.5 1333.5,1424.6 1335.0,1422.8 1336.5,1420.9 1338.0,1419.0 1339.5,1417.2 1341.0,1415.3 1342.5,1413.5 1344.0,1411.6 1345.5,1409.8 1347.0,1408.0 1348.5,1406.1 1350.0,1404.3 1351.5,1402.5 1353.0,1400.7 1354.5,1398.9 1356.0,1397.1 1357.5,1395.3 1359.0,1393.6 1360.5,1391.8 1362.0,1390.1 1363.5,1388.4 1365.0,1386.6 1366.5,1385.0 1368.0,1383.3 1369.5,1381.6 1371.0,1379.9 1372.5,1378.3 1374.0,1376.7 1375.5,1375.1 1377.0,1373.5 1378.5,1372.0 1380.0,1370.4 1381.5,1368.9 1383.0,1367.4 1384.5,1366.0 1386.0,1364.5 1387.5,1363.1 1389.0,1361.7 1390.5,1360.3 1392.0,1359.0 1393.5,1357.6 1395.0,1356.4 1396.5,1355.1 1398.0,1353.9 1399.5,1352.6 1401.0,1351.5 1402.5,1350.3 1404.0,1349.2 1405.5,1348.1 1407.0,1347.1 1408.5,1346.0 1410.0,1345.0 1411.5,1344.1 1413.0,1343.2 1414.5,1342.3 1416.0,1341.4 1417.5,1340.6 1419.0,1339.8 1420.5,1339.1 1422.0,1338.3 1423.5,1337.7 1425.0,1337.0 1426.5,1336.4 1428.0,1335.9 1429.5,1335.3 1431.0,1334.8 1432.5,1334.4 1434.0,1334.0 1435.5,1333.6 1437.0,1333.2 1438.5,1332.9 1440.0,1332.7 1441.5,1332.5 1443.0,1332.3 1444.5,1332.1 1446.0,1332.0 1447.5,1332.0 1449.0,1331.9 1450.5,1332.0 1452.0,1332.0 1453.5,1332.1 1455.0,1332.2 1456.5,1332.4 1458.0,1332.6 1459.5,1332.9 1461.0,1333.2 1462.5,1333.5 1464.0,1333.9 1465.5,1334.3 1467.0,1334.7 1468.5,1335.2 1470.0,1335.7 1471.5,1336.3 1473.0,1336.9 1474.5,1337.5 1476.0,1338.1 1477.5,1338.9 1479.0,1339.6 1480.5,1340.4 1482.0,1341.2 1483.5,1342.0 1485.0,1342.9 1486.5,1343.8 1488.0,1344.8 1489.5,1345.7 1491.0,1346.8 1492.5,1347.8 1494.0,1348.9 1495.5,1350.0 1497.0,1351.1 1498.5,1352.3 1500.0,1353.5 1501.5,1354.7 1503.0,1356.0 1504.5,1357.3 1506.0,1358.6 1507.5,1359.9 1509.0,1361.3 1510.5,1362.7 1512.0,1364.1 1513.5,1365.5 1515.0,1367.0 1516.5,1368.5 1518.0,1370.0 1519.5,1371.5 1521.0,1373.1 1522.5,1374.7 1524.0,1376.2 1525.5,1377.9 1527.0,1379.5 1528.5,1381.1 1530.0,1382.8 1531.5,1384.5 1533.0,1386.2 1534.5,1387.9 1536.0,1389.6 1537.5,1391.3 1539.0,1393.1 1540.5,1394.8 1542.0,1396.6 1543.5,1398.4 1545.0,1400.2 1546.5,1402.0 1548.0,1403.8 1549.5,1405.6 1551.0,1407.4 1552.5,1409.3 1554.0,1411.1 1555.5,1413.0 1557.0,1414.8 1558.5,1416.7 1560.0,1418.5 1561.5,1420.4 1563.0,1422.2 1564.5,1424.1 1566.0,1425.9 1567.5,1427.8 1569.0,1429.7 1570.5,1431.5 1572.0,1433.4 1573.5,1435.2 1575.0,1437.1 1576.5,1438.9 1578.0,1440.8 1579.5,1442.6 1581.0,1444.4 1582.5,1446.3 1584.0,1448.1 1585.5,1449.9 1587.0,1451.7 1588.5,1453.5 1590.0,1455.3 1591.5,1457.1 1593.0,1458.9 1594.5,1460.6 1596.0,1462.4 1597.5,1464.1 1599.0,1465.9 1600.5,1467.6 1602.0,1469.3 1603.5,1471.0 1605.0,1472.7 1606.5,1474.3 1608.0,1476.0 1609.5,1477.6 1611.0,1479.3 1612.5,1480.9 1614.0,1482.5 1615.5,1484.1 1617.0,1485.7 1618.5,1487.2 1620.0,1488.8 1621.5,1490.3 1623.0,1491.8 1624.5,1493.3 1626.0,1494.8 1627.5,1496.3 1629.0,1497.7 1630.5,1499.2 1632.0,1500.6 1633.5,1502.0 1635.0,1503.4 1636.5,1504.7 1638.0,1506.1 1639.5,1507.4 1641.0,1508.7 1642.5,1510.0 1644.0,1511.3 1645.5,1512.5 1647.0,1513.8 1648.5,1515.0 1650.0,1516.2 1651.5,1517.4 1653.0,1518.6 1654.5,1519.8 1656.0,1520.9 1657.5,1522.0 1659.0,1523.1 1660.5,1524.2 1662.0,1525.3 1663.5,1526.3 1665.0,1527.4 1666.5,1528.4 1668.0,1529.4 1669.5,1530.4 1671.0,1531.3 1672.5,1532.3 1674.0,1533.2 1675.5,1534.1 1677.0,1535.0 1678.5,1535.9 1680.0,1536.8 1681.5,1537.6 1683.0,1538.5 1684.5,1539.3 1686.0,1540.1 1687.5,1540.9 1689.0,1541.6 1690.5,1542.4 1692.0,1543.1 1693.5,1543.8 1695.0,1544.6 1696.5,1545.3 1698.0,1545.9 1699.5,1546.6 1701.0,1547.3 1702.5,1547.9 1704.0,1548.5 1705.5,1549.1 1707.0,1549.7 1708.5,1550.3 1710.0,1550.9 1711.5,1551.4 1713.0,1552.0 1714.5,1552.5 1716.0,1553.0 1717.5,1553.5 1719.0,1554.0 1720.5,1554.5 1722.0,1555.0 1723.5,1555.4 1725.0,1555.9 1726.5,1556.3 1728.0,1556.8 1729.5,1557.2 1731.0,1557.6 1732.5,1558.0 1734.0,1558.4 1735.5,1558.7 1737.0,1559.1 1738.5,1559.5 1740.0,1559.8 1741.5,1560.2 1743.0,1560.5 1744.5,1560.8 1746.0,1561.1 1747.5,1561.4 1749.0,1561.7 1750.5,1562.0 1752.0,1562.3 1753.5,1562.5 1755.0,1562.8 1756.5,1563.1 1758.0,1563.3 1759.5,1563.6 1761.0,1563.8 1762.5,1564.0 1764.0,1564.2 1765.5,1564.4 1767.0,1564.7 1768.5,1564.9 1770.0,1565.1 1771.5,1565.2 1773.0,1565.4 1774.5,1565.6 1776.0,1565.8 1777.5,1565.9 1779.0,1566.1 1780.5,1566.3 1782.0,1566.4 1783.5,1566.6 1785.0,1566.7 1786.5,1566.8 1788.0,1567.0 1789.5,1567.1 1791.0,1567.2 1792.5,1567.4 1794.0,1567.5 1795.5,1567.6 1797.0,1567.7 1798.5,1567.8 1800.0,1567.9 1801.5,1568.0 1803.0,1568.1 1804.5,1568.2 1806.0,1568.3 1807.5,1568.4 1809.0,1568.4 1810.5,1568.5 1812.0,1568.6 1813.5,1568.7 1815.0,1568.7 1816.5,1568.8 1818.0,1568.9 1819.5,1568.9 1821.0,1569.0 1822.5,1569.1 1824.0,1569.1 1825.5,1569.2 1827.0,1569.2 1828.5,1569.3 1830.0,1569.3 1831.5,1569.4 1833.0,1569.4 1834.5,1569.5 1836.0,1569.5 1837.5,1569.6 1839.0,1569.6 1840.5,1569.6 1842.0,1569.7 1843.5,1569.7 1845.0,1569.7 1846.5,1569.8 1848.0,1569.8 1849.5,1569.8 1851.0,1569.9 1852.5,1569.9 1854.0,1569.9 1855.5,1569.9 1857.0,1570.0 1858.5,1570.0 1860.0,1570.0 1861.5,1570.0 1863.0,1570.1 1864.5,1570.1 1866.0,1570.1 1867.5,1570.1 1869.0,1570.1 1870.5,1570.1 1872.0,1570.2 1873.5,1570.2 1875.0,1570.2 1876.5,1570.2 1878.0,1570.2 1879.5,1570.2 1881.0,1570.2 1882.5,1570.3 1884.0,1570.3 1885.5,1570.3 1887.0,1570.3 1888.5,1570.3 1890.0,1570.3 1891.5,1570.3 1893.0,1570.3 1894.5,1570.3 1896.0,1570.3 1897.5,1570.4 1899.0,1570.4 1900.5,1570.4 1902.0,1570.4 1903.5,1570.4 1905.0,1570.4 1906.5,1570.4 1908.0,1570.4 1909.5,1570.4 1911.0,1570.4 1912.5,1570.4 1914.0,1570.4 1915.5,1570.4 1915.9,1570.4" fill="none" stroke="#009b46" stroke-width="4.34" stroke-linejoin="round"/>
<polygon points="1411.2,1576.4 1411.2,1570.4 1412.7,1570.4 1414.2,1570.4 1415.7,1570.4 1417.2,1570.4 1418.7,1570.4 1420.2,1570.4 1421.7,1570.4 1423.2,1570.3 1424.7,1570.3 1426.2,1570.3 1427.7,1570.3 1429.2,1570.3 1430.7,1570.3 1432.2,1570.3 1433.7,1570.2 1435.2,1570.2 1436.7,1570.2 1438.2,1570.2 1439.7,1570.2 1441.2,1570.1 1442.7,1570.1 1444.2,1570.1 1445.7,1570.1 1447.2,1570.0 1448.7,1570.0 1450.2,1570.0 1451.7,1569.9 1453.2,1569.9 1454.7,1569.9 1456.2,1569.8 1457.7,1569.8 1459.2,1569.7 1460.7,1569.7 1462.2,1569.6 1463.7,1569.6 1465.2,1569.5 1466.7,1569.4 1468.2,1569.4 1469.7,1569.3 1471.2,1569.2 1472.7,1569.1 1474.2,1569.1 1475.7,1569.0 1477.2,1568.9 1478.7,1568.8 1480.2,1568.7 1481.7,1568.6 1483.2,1568.5 1484.7,1568.3 1486.2,1568.2 1487.7,1568.1 1489.2,1567.9 1490.7,1567.8 1492.2,1567.6 1493.7,1567.5 1495.2,1567.3 1496.7,1567.1 1498.2,1566.9 1499.7,1566.7 1501.2,1566.5 1502.7,1566.3 1504.2,1566.1 1505.7,1565.8 1507.2,1565.6 1508.7,1565.3 1510.2,1565.0 1511.7,1564.7 1513.2,1564.4 1514.7,1564.1 1516.2,1563.8 1517.7,1563.5 1519.2,1563.1 1520.7,1562.7 1522.2,1562.3 1523.7,1561.9 1525.2,1561.5 1526.7,1561.1 1528.2,1560.6 1529.7,1560.1 1531.2,1559.6 1532.7,1559.1 1534.2,1558.6 1535.7,1558.0 1537.2,1557.4 1538.7,1556.8 1540.2,1556.2 1541.7,1555.5 1543.2,1554.9 1544.7,1554.2 1546.2,1553.4 1547.7,1552.7 1549.2,1551.9 1550.7,1551.1 1552.2,1550.3 1553.7,1549.4 1555.2,1548.5 1556.7,1547.6 1558.2,1546.6 1559.7,1545.7 1561.2,1544.7 1562.7,1543.6 1564.2,1542.5 1565.7,1541.4 1567.2,1540.3 1568.7,1539.1 1570.2,1537.9 1571.7,1536.6 1573.2,1535.4 1574.7,1534.0 1576.2,1532.7 1577.7,1531.3 1579.2,1529.9 1580.7,1528.4 1582.2,1526.9 1583.7,1525.3 1585.2,1523.8 1586.7,1522.1 1588.2,1520.5 1589.7,1518.8 1591.2,1517.0 1592.7,1515.3 1594.2,1513.4 1595.7,1511.6 1597.2,1509.7 1598.7,1507.8 1600.2,1505.8 1601.7,1503.8 1603.2,1501.7 1604.7,1499.6 1606.2,1497.5 1607.7,1495.3 1609.2,1493.1 1610.7,1490.9 1612.2,1488.6 1613.7,1486.3 1615.2,1484.0 1616.7,1481.6 1618.2,1479.2 1619.7,1476.7 1621.2,1474.2 1622.7,1471.7 1624.2,1469.2 1625.7,1466.6 1627.2,1464.0 1628.7,1461.4 1630.2,1458.7 1631.7,1456.0 1633.2,1453.3 1634.7,1450.6 1636.2,1447.9 1637.7,1445.1 1639.2,1442.3 1640.7,1439.5 1642.2,1436.7 1643.7,1433.9 1645.2,1431.0 1646.7,1428.2 1648.2,1425.3 1649.7,1422.4 1651.2,1419.6 1652.7,1416.7 1654.2,1413.8 1655.7,1411.0 1657.2,1408.1 1658.7,1405.2 1660.2,1402.4 1661.7,1399.5 1663.2,1396.7 1664.7,1393.9 1666.2,1391.1 1667.7,1388.3 1669.2,1385.6 1670.7,1382.8 1672.2,1380.1 1673.7,1377.4 1675.2,1374.8 1676.7,1372.2 1678.2,1369.6 1679.7,1367.0 1681.2,1364.5 1682.7,1362.1 1684.2,1359.6 1685.7,1357.3 1687.2,1354.9 1688.7,1352.7 1690.2,1350.4 1691.7,1348.3 1693.2,1346.1 1694.7,1344.1 1696.2,1342.1 1697.7,1340.2 1699.2,1338.3 1700.7,1336.5 1702.2,1334.7 1703.7,1333.1 1705.2,1331.5 1706.7,1329.9 1708.2,1328.5 1709.7,1327.1 1711.2,1325.8 1712.7,1324.6 1714.2,1323.5 1715.7,1322.4 1717.2,1321.4 1718.7,1320.5 1720.2,1319.7 1721.7,1319.0 1723.2,1318.3 1724.7,1317.8 1726.2,1317.3 1727.7,1316.9 1729.2,1316.6 1730.7,1316.4 1732.2,1316.3 1733.7,1316.3 1735.2,1316.3 1736.7,1316.5 1738.2,1316.7 1739.7,1317.0 1741.2,1317.5 1742.7,1317.9 1744.2,1318.5 1745.7,1319.2 1747.2,1319.9 1748.7,1320.8 1750.2,1321.7 1751.7,1322.7 1753.2,1323.8 1754.7,1325.0 1756.2,1326.2 1757.7,1327.5 1759.2,1328.9 1760.7,1330.4 1762.2,1331.9 1763.7,1333.6 1765.2,1335.3 1766.7,1337.0 1768.2,1338.8 1769.7,1340.7 1771.2,1342.7 1772.7,1344.7 1774.2,1346.8 1775.7,1348.9 1777.2,1351.1 1778.7,1353.3 1780.2,1355.6 1781.7,1358.0 1783.2,1360.4 1784.7,1362.8 1786.2,1365.3 1787.7,1367.8 1789.2,1370.4 1790.7,1373.0 1792.2,1375.6 1793.7,1378.3 1795.2,1380.9 1796.7,1383.7 1798.2,1386.4 1799.7,1389.2 1801.2,1392.0 1802.7,1394.8 1804.2,1397.6 1805.7,1400.4 1807.2,1403.3 1808.7,1406.1 1810.2,1409.0 1811.7,1411.8 1813.2,1414.7 1814.7,1417.6 1816.2,1420.4 1817.7,1423.3 1819.2,1426.2 1820.7,1429.0 1822.2,1431.9 1823.7,1434.7 1825.2,1437.5 1826.7,1440.3 1828.2,1443.1 1829.7,1445.9 1831.2,1448.7 1832.7,1451.4 1834.2,1454.1 1835.7,1456.8 1837.2,1459.5 1838.7,1462.2 1840.2,1464.8 1841.7,1467.4 1843.2,1469.9 1844.7,1472.5 1846.2,1475.0 1847.7,1477.4 1849.2,1479.9 1850.7,1482.3 1852.2,1484.7 1853.7,1487.0 1855.2,1489.3 1856.7,1491.6 1858.2,1493.8 1859.7,1496.0 1861.2,1498.1 1862.7,1500.3 1864.2,1502.3 1865.7,1504.4 1867.2,1506.4 1868.7,1508.3 1870.2,1510.3 1871.7,1512.1 1873.2,1514.0 1874.7,1515.8 1876.2,1517.6 1877.7,1519.3 1879.2,1521.0 1880.7,1522.6 1882.2,1524.2 1883.7,1525.8 1885.2,1527.3 1886.7,1528.8 1888.2,1530.3 1889.7,1531.7 1891.2,1533.1 1892.7,1534.4 1894.2,1535.7 1895.7,1537.0 1897.2,1538.3 1898.7,1539.5 1900.2,1540.6 1901.7,1541.8 1903.2,1542.9 1904.7,1543.9 1906.2,1545.0 1907.7,1546.0 1909.2,1546.9 1910.7,1547.9 1912.2,1548.8 1913.7,1549.7 1915.2,1550.5 1916.7,1551.4 1918.2,1552.1 1919.7,1552.9 1921.2,1553.7 1922.7,1554.4 1924.2,1555.1 1925.7,1555.7 1927.2,1556.4 1928.7,1557.0 1930.2,1557.6 1931.7,1558.2 1933.2,1558.7 1934.7,1559.3 1936.2,1559.8 1937.7,1560.3 1939.2,1560.7 1940.7,1561.2 1942.2,1561.6 1943.7,1562.1 1945.2,1562.5 1946.7,1562.8 1948.2,1563.2 1949.7,1563.6 1951.2,1563.9 1952.7,1564.2 1954.2,1564.5 1955.7,1564.8 1957.2,1565.1 1958.7,1565.4 1960.2,1565.7 1961.7,1565.9 1963.2,1566.1 1964.7,1566.4 1966.2,1566.6 1967.7,1566.8 1969.2,1567.0 1970.7,1567.2 1972.2,1567.3 1973.7,1567.5 1975.2,1567.7 1976.7,1567.8 1978.2,1568.0 1979.7,1568.1 1981.2,1568.2 1982.7,1568.4 1984.2,1568.5 1985.7,1568.6 1987.2,1568.7 1988.7,1568.8 1990.2,1568.9 1991.7,1569.0 1993.2,1569.1 1994.7,1569.2 1996.2,1569.3 1997.7,1569.3 1999.2,1569.4 2000.7,1569.5 2002.2,1569.5 2003.7,1569.6 2005.2,1569.6 2006.7,1569.7 2008.2,1569.7 2009.7,1569.8 2011.2,1569.8 2012.7,1569.9 2014.2,1569.9 2015.7,1569.9 2017.2,1570.0 2018.7,1570.0 2020.2,1570.0 2021.7,1570.1 2023.2,1570.1 2024.7,1570.1 2026.2,1570.2 2027.7,1570.2 2029.2,1570.2 2030.7,1570.2 2032.2,1570.2 2033.7,1570.3 2035.2,1570.3 2036.7,1570.3 2038.2,1570.3 2039.7,1570.3 2041.2,1570.3 2042.7,1570.3 2043.3,1570.3 2043.3,1576.4" fill="#009b46" fill-opacity="0.4" stroke="none"/>
<polyline points="1411.2,1570.4 1412.7,1570.4 1414.2,1570.4 1415.7,1570.4 1417.2,1570.4 1418.7,1570.4 1420.2,1570.4 1421.7,1570.4 1423.2,1570.3 1424.7,1570.3 1426.2,1570.3 1427.7,1570.3 1429.2,1570.3 1430.7,1570.3 1432.2,1570.3 1433.7,1570.2 1435.2,1570.2 1436.7,1570.2 1438.2,1570.2 1439.7,1570.2 1441.2,1570.1 1442.7,1570.1 1444.2,1570.1 1445.7,1570.1 1447.2,1570.0 1448.7,1570.0 1450.2,1570.0 1451.7,1569.9 1453.2,1569.9 1454.7,1569.9 1456.2,1569.8 1457.7,1569.8 1459.2,1569.7 1460.7,1569.7 1462.2,1569.6 1463.7,1569.6 1465.2,1569.5 1466.7,1569.4 1468.2,1569.4 1469.7,1569.3 1471.2,1569.2 1472.7,1569.1 1474.2,1569.1 1475.7,1569.0 1477.2,1568.9 1478.7,1568.8 1480.2,1568.7 1481.7,1568.6 1483.2,1568.5 1484.7,1568.3 1486.2,1568.2 1487.7,1568.1 1489.2,1567.9 1490.7,1567.8 1492.2,1567.6 1493.7,1567.5 1495.2,1567.3 1496.7,1567.1 1498.2,1566.9 1499.7,1566.7 1501.2,1566.5 1502.7,1566.3 1504.2,1566.1 1505.7,1565.8 1507.2,1565.6 1508.7,1565.3 1510.2,1565.0 1511.7,1564.7 1513.2,1564.4 1514.7,1564.1 1516.2,1563.8 1517.7,1563.5 1519.2,1563.1 1520.7,1562.7 1522.2,1562.3 1523.7,1561.9 1525.2,1561.5 1526.7,1561.1 1528.2,1560.6 1529.7,1560.1 1531.2,1559.6 1532.7,1559.1 1534.2,1558.6 1535.7,1558.0 1537.2,1557.4 1538.7,1556.8 1540.2,1556.2 1541.7,1555.5 1543.2,1554.9 1544.7,1554.2 1546.2,1553.4 1547.7,1552.7 1549.2,1551.9 1550.7,1551.1 1552.2,1550.3 1553.7,1549.4 1555.2,1548.5 1556.7,1547.6 1558.2,1546.6 1559.7,1545.7 1561.2,1544.7 1562.7,1543.6 1564.2,1542.5 1565.7,1541.4 1567.2,1540.3 1568.7,1539.1 1570.2,1537.9 1571.7,1536.6 1573.2,1535.4 1574.7,1534.0 1576.2,1532.7 1577.7,1531.3 1579.2,1529.9 1580.7,1528.4 1582.2,1526.9 1583.7,1525.3 1585.2,1523.8 1586.7,1522.1 1588.2,1520.5 1589.7,1518.8 1591.2,1517.0 1592.7,1515.3 1594.2,1513.4 1595.7,1511.6 1597.2,1509.7 1598.7,1507.8 1600.2,1505.8 1601.7,1503.8 1603.2,1501.7 1604.7,1499.6 1606.2,1497.5 1607.7,1495.3 1609.2,1493.1 1610.7,1490.9 1612.2,1488.6 1613.7,1486.3 1615.2,1484.0 1616.7,1481.6 1618.2,1479.2 1619.7,1476.7 1621.2,1474.2 1622.7,1471.7 1624.2,1469.2 1625.7,1466.6 1627.2,1464.0 1628.7,1461.4 1630.2,1458.7 1631.7,1456.0 1633.2,1453.3 1634.7,1450.6 1636.2,1447.9 1637.7,1445.1 1639.2,1442.3 1640.7,1439.5 1642.2,1436.7 1643.7,1433.9 1645.2,1431.0 1646.7,1428.2 1648.2,1425.3 1649.7,1422.4 1651.2,1419.6 1652.7,1416.7 1654.2,1413.8 1655.7,1411.0 1657.2,1408.1 1658.7,1405.2 1660.2,1402.4 1661.7,1399.5 1663.2,1396.7 1664.7,1393.9 1666.2,1391.1 1667.7,1388.3 1669.2,1385.6 1670.7,1382.8 1672.2,1380.1 1673.7,1377.4 1675.2,1374.8 1676.7,1372.2 1678.2,1369.6 1679.7,1367.0 1681.2,1364.5 1682.7,1362.1 1684.2,1359.6 1685.7,1357.3 1687.2,1354.9 1688.7,1352.7 1690.2,1350.4 1691.7,1348.3 1693.2,1346.1 1694.7,1344.1 1696.2,1342.1 1697.7,1340.2 1699.2,1338.3 1700.7,1336.5 1702.2,1334.7 1703.7,1333.1 1705.2,1331.5 1706.7,1329.9 1708.2,1328.5 1709.7,1327.1 1711.2,1325.8 1712.7,1324.6 1714.2,1323.5 1715.7,1322.4 1717.2,1321.4 1718.7,1320.5 1720.2,1319.7 1721.7,1319.0 1723.2,1318.3 1724.7,1317.8 1726.2,1317.3 1727.7,1316.9 1729.2,1316.6 1730.7,1316.4 1732.2,1316.3 1733.7,1316.3 1735.2,1316.3 1736.7,1316.5 1738.2,1316.7 1739.7,1317.0 1741.2,1317.5 1742.7,1317.9 1744.2,1318.5 1745.7,1319.2 1747.2,1319.9 1748.7,1320.8 1750.2,1321.7 1751.7,1322.7 1753.2,1323.8 1754.7,1325.0 1756.2,1326.2 1757.7,1327.5 1759.2,1328.9 1760.7,1330.4 1762.2,1331.9 1763.7,1333.6 1765.2,1335.3 1766.7,1337.0 1768.2,1338.8 1769.7,1340.7 1771.2,1342.7 1772.7,1344.7 1774.2,1346.8 1775.7,1348.9 1777.2,1351.1 1778.7,1353.3 1780.2,1355.6 1781.7,1358.0 1783.2,1360.4 1784.7,1362.8 1786.2,1365.3 1787.7,1367.8 1789.2,1370.4 1790.7,1373.0 1792.2,1375.6 1793.7,1378.3 1795.2,1380.9 1796.7,1383.7 1798.2,1386.4 1799.7,1389.2 1801.2,1392.0 1802.7,1394.8 1804.2,1397.6 1805.7,1400.4 1807.2,1403.3 1808.7,1406.1 1810.2,1409.0 1811.7,1411.8 1813.2,1414.7 1814.7,1417.6 1816.2,1420.4 1817.7,1423.3 1819.2,1426.2 1820.7,1429.0 1822.2,1431.9 1823.7,1434.7 1825.2,1437.5 1826.7,1440.3 1828.2,1443.1 1829.7,1445.9 1831.2,1448.7 1832.7,1451.4 1834.2,1454.1 1835.7,1456.8 1837.2,1459.5 1838.7,1462.2 1840.2,1464.8 1841.7,1467.4 1843.2,1469.9 1844.7,1472.5 1846.2,1475.0 1847.7,1477.4 1849.2,1479.9 1850.7,1482.3 1852.2,1484.7 1853.7,1487.0 1855.2,1489.3 1856.7,1491.6 1858.2,1493.8 1859.7,1496.0 1861.2,1498.1 1862.7,1500.3 1864.2,1502.3 1865.7,1504.4 1867.2,1506.4 1868.7,1508.3 1870.2,1510.3 1871.7,1512.1 1873.2,1514.0 1874.7,1515.8 1876.2,1517.6 1877.7,1519.3 1879.2,1521.0 1880.7,1522.6 1882.2,1524.2 1883.7,1525.8 1885.2,1527.3 1886.7,1528.8 1888.2,1530.3 1889.7,1531.7 1891.2,1533.1 1892.7,1534.4 1894.2,1535.7 1895.7,1537.0 1897.2,1538.3 1898.7,1539.5 1900.2,1540.6 1901.7,1541.8 1903.2,1542.9 1904.7,1543.9 1906.2,1545.0 1907.7,1546.0 1909.2,1546.9 1910.7,1547.9 1912.2,1548.8 1913.7,1549.7 1915.2,1550.5 1916.7,1551.4 1918.2,1552.1 1919.7,1552.9 1921.2,1553.7 1922.7,1554.4 1924.2,1555.1 1925.7,1555.7 1927.2,1556.4 1928.7,1557.0 1930.2,1557.6 1931.7,1558.2 1933.2,1558.7 1934.7,1559.3 1936.2,1559.8 1937.7,1560.3 1939.2,1560.7 1940.7,1561.2 1942.2,1561.6 1943.7,1562.1 1945.2,1562.5 1946.7,1562.8 1948.2,1563.2 1949.7,1563.6 1951.2,1563.9 1952.7,1564.2 1954.2,1564.5 1955.7,1564.8 1957.2,1565.1 1958.7,1565.4 1960.2,1565.7 1961.7,1565.9 1963.2,1566.1 1964.7,1566.4 1966.2,1566.6 1967.7,1566.8 1969.2,1567.0 1970.7,1567.2 1972.2,1567.3 1973.7,1567.5 1975.2,1567.7 1976.7,1567.8 1978.2,1568.0 1979.7,1568.1 1981.2,1568.2 1982.7,1568.4 1984.2,1568.5 1985.7,1568.6 1987.2,1568.7 1988.7,1568.8 1990.2,1568.9 1991.7,1569.0 1993.2,1569.1 1994.7,1569.2 1996.2,1569.3 1997.7,1569.3 1999.2,1569.4 2000.7,1569.5 2002.2,1569.5 2003.7,1569.6 2005.2,1569.6 2006.7,1569.7 2008.2,1569.7 2009.7,1569.8 2011.2,1569.8 2012.7,1569.9 2014.2,1569.9 2015.7,1569.9 2017.2,1570.0 2018.7,1570.0 2020.2,1570.0 2021.7,1570.1 2023.2,1570.1 2024.7,1570.1 2026.2,1570.2 2027.7,1570.2 2029.2,1570.2 2030.7,1570.2 2032.2,1570.2 2033.7,1570.3 2035.2,1570.3 2036.7,1570.3 2038.2,1570.3 2039.7,1570.3 2041.2,1570.3 2042.7,1570.3 2043.3,1570.3" fill="none" stroke="#009b46" stroke-width="4.34" stroke-linejoin="round"/>
<polygon points="705.7,1576.4 705.7,1570.4 707.2,1570.4 708.7,1570.4 710.2,1570.4 711.7,1570.3 713.2,1570.3 714.7,1570.3 716.2,1570.3 717.7,1570.3 719.2,1570.3 720.7,1570.3 722.2,1570.3 723.7,1570.3 725.2,1570.3 726.7,1570.2 728.2,1570.2 729.7,1570.2 731.2,1570.2 732.7,1570.2 734.2,1570.2 735.7,1570.2 737.2,1570.1 738.7,1570.1 740.2,1570.1 741.7,1570.1 743.2,1570.1 744.7,1570.0 746.2,1570.0 747.7,1570.0 749.2,1570.0 750.7,1570.0 752.2,1569.9 753.7,1569.9 755.2,1569.9 756.7,1569.8 758.2,1569.8 759.7,1569.8 761.2,1569.7 762.7,1569.7 764.2,1569.7 765.7,1569.6 767.2,1569.6 768.7,1569.5 770.2,1569.5 771.7,1569.5 773.2,1569.4 774.7,1569.4 776.2,1569.3 777.7,1569.3 779.2,1569.2 780.7,1569.1 782.2,1569.1 783.7,1569.0 785.2,1569.0 786.7,1568.9 788.2,1568.8 789.7,1568.7 791.2,1568.7 792.7,1568.6 794.2,1568.5 795.7,1568.4 797.2,1568.3 798.7,1568.2 800.2,1568.1 801.7,1568.0 803.2,1567.9 804.7,1567.8 806.2,1567.7 807.7,1567.6 809.2,1567.5 810.7,1567.4 812.2,1567.2 813.7,1567.1 815.2,1567.0 816.7,1566.8 818.2,1566.7 819.7,1566.5 821.2,1566.4 822.7,1566.2 824.2,1566.0 825.7,1565.9 827.2,1565.7 828.7,1565.5 830.2,1565.3 831.7,1565.1 833.2,1564.9 834.7,1564.7 836.2,1564.4 837.7,1564.2 839.2,1564.0 840.7,1563.7 842.2,1563.5 843.7,1563.2 845.2,1563.0 846.7,1562.7 848.2,1562.4 849.7,1562.1 851.2,1561.8 852.7,1561.5 854.2,1561.1 855.7,1560.8 857.2,1560.5 858.7,1560.1 860.2,1559.7 861.7,1559.4 863.2,1559.0 864.7,1558.6 866.2,1558.2 867.7,1557.7 869.2,1557.3 870.7,1556.9 872.2,1556.4 873.7,1555.9 875.2,1555.4 876.7,1554.9 878.2,1554.4 879.7,1553.9 881.2,1553.3 882.7,1552.8 884.2,1552.2 885.7,1551.6 887.2,1551.0 888.7,1550.4 890.2,1549.7 891.7,1549.1 893.2,1548.4 894.7,1547.7 896.2,1547.0 897.7,1546.3 899.2,1545.5 900.7,1544.8 902.2,1544.0 903.7,1543.2 905.2,1542.4 906.7,1541.5 908.2,1540.7 909.7,1539.8 911.2,1538.9 912.7,1538.0 914.2,1537.0 915.7,1536.1 917.2,1535.1 918.7,1534.1 920.2,1533.0 921.7,1532.0 923.2,1530.9 924.7,1529.8 926.2,1528.7 927.7,1527.5 929.2,1526.3 930.7,1525.2 932.2,1523.9 933.7,1522.7 935.2,1521.4 936.7,1520.1 938.2,1518.8 939.7,1517.5 941.2,1516.1 942.7,1514.7 944.2,1513.3 945.7,1511.8 947.2,1510.3 948.7,1508.8 950.2,1507.3 951.7,1505.7 953.2,1504.1 954.7,1502.5 956.2,1500.9 957.7,1499.2 959.2,1497.5 960.7,1495.8 962.2,1494.0 963.7,1492.3 965.2,1490.5 966.7,1488.6 968.2,1486.8 969.7,1484.9 971.2,1482.9 972.7,1481.0 974.2,1479.0 975.7,1477.0 977.2,1475.0 978.7,1472.9 980.2,1470.8 981.7,1468.7 983.2,1466.6 984.7,1464.4 986.2,1462.2 987.7,1460.0 989.2,1457.7 990.7,1455.5 992.2,1453.2 993.7,1450.8 995.2,1448.5 996.7,1446.1 998.2,1443.7 999.7,1441.3 1001.2,1438.8 1002.7,1436.3 1004.2,1433.8 1005.7,1431.3 1007.2,1428.8 1008.7,1426.2 1010.2,1423.6 1011.7,1421.0 1013.2,1418.4 1014.7,1415.7 1016.2,1413.1 1017.7,1410.4 1019.2,1407.7 1020.7,1404.9 1022.2,1402.2 1023.7,1399.4 1025.2,1396.6 1026.7,1393.9 1028.2,1391.1 1029.7,1388.2 1031.2,1385.4 1032.7,1382.6 1034.2,1379.7 1035.7,1376.8 1037.2,1374.0 1038.7,1371.1 1040.2,1368.2 1041.7,1365.3 1043.2,1362.4 1044.7,1359.4 1046.2,1356.5 1047.7,1353.6 1049.2,1350.7 1050.7,1347.8 1052.2,1344.8 1053.7,1341.9 1055.2,1339.0 1056.7,1336.0 1058.2,1333.1 1059.7,1330.2 1061.2,1327.3 1062.7,1324.4 1064.2,1321.5 1065.7,1318.6 1067.2,1315.7 1068.7,1312.9 1070.2,1310.0 1071.7,1307.2 1073.2,1304.3 1074.7,1301.5 1076.2,1298.7 1077.7,1295.9 1079.2,1293.2 1080.7,1290.4 1082.2,1287.7 1083.7,1285.0 1085.2,1282.3 1086.7,1279.6 1088.2,1277.0 1089.7,1274.4 1091.2,1271.8 1092.7,1269.3 1094.2,1266.8 1095.7,1264.3 1097.2,1261.8 1098.7,1259.4 1100.2,1257.0 1101.7,1254.6 1103.2,1252.3 1104.7,1250.0 1106.2,1247.8 1107.7,1245.6 1109.2,1243.4 1110.7,1241.3 1112.2,1239.2 1113.7,1237.2 1115.2,1235.2 1116.7,1233.2 1118.2,1231.3 1119.7,1229.5 1121.2,1227.7 1122.7,1225.9 1124.2,1224.2 1125.7,1222.5 1127.2,1220.9 1128.7,1219.4 1130.2,1217.9 1131.7,1216.4 1133.2,1215.0 1134.7,1213.7 1136.2,1212.4 1137.7,1211.1 1139.2,1210.0 1140.7,1208.8 1142.2,1207.8 1143.7,1206.8 1145.2,1205.8 1146.7,1205.0 1148.2,1204.1 1149.7,1203.4 1151.2,1202.7 1152.7,1202.0 1154.2,1201.4 1155.7,1200.9 1157.2,1200.5 1158.7,1200.1 1160.2,1199.7 1161.7,1199.5 1163.2,1199.3 1164.7,1199.1 1166.2,1199.0 1167.7,1199.0 1169.2,1199.0 1170.7,1199.1 1172.2,1199.3 1173.7,1199.5 1175.2,1199.8 1176.7,1200.2 1178.2,1200.6 1179.7,1201.1 1181.2,1201.6 1182.7,1202.2 1184.2,1202.9 1185.7,1203.6 1187.2,1204.4 1188.7,1205.2 1190.2,1206.1 1191.7,1207.1 1193.2,1208.1 1194.7,1209.2 1196.2,1210.3 1197.7,1211.5 1199.2,1212.8 1200.7,1214.1 1202.2,1215.4 1203.7,1216.9 1205.2,1218.3 1206.7,1219.8 1208.2,1221.4 1209.7,1223.0 1211.2,1224.7 1212.7,1226.4 1214.2,1228.2 1215.7,1230.1 1217.2,1231.9 1218.7,1233.8 1220.2,1235.8 1221.7,1237.8 1223.2,1239.9 1224.7,1242.0 1226.2,1244.1 1227.7,1246.3 1229.2,1248.5 1230.7,1250.8 1232.2,1253.0 1233.7,1255.4 1235.2,1257.7 1236.7,1260.1 1238.2,1262.6 1239.7,1265.0 1241.2,1267.5 1242.7,1270.1 1244.2,1272.6 1245.7,1275.2 1247.2,1277.8 1248.7,1280.5 1250.2,1283.1 1251.7,1285.8 1253.2,1288.5 1254.7,1291.3 1256.2,1294.0 1257.7,1296.8 1259.2,1299.6 1260.7,1302.4 1262.2,1305.2 1263.7,1308.0 1265.2,1310.9 1266.7,1313.8 1268.2,1316.6 1269.7,1319.5 1271.2,1322.4 1272.7,1325.3 1274.2,1328.2 1275.7,1331.1 1277.2,1334.0 1278.7,1337.0 1280.2,1339.9 1281.7,1342.8 1283.2,1345.7 1284.7,1348.7 1286.2,1351.6 1287.7,1354.5 1289.2,1357.4 1290.7,1360.4 1292.2,1363.3 1293.7,1366.2 1295.2,1369.1 1296.7,1372.0 1298.2,1374.9 1299.7,1377.7 1301.2,1380.6 1302.7,1383.4 1304.2,1386.3 1305.7,1389.1 1307.2,1391.9 1308.7,1394.7 1310.2,1397.5 1311.7,1400.3 1313.2,1403.0 1314.7,1405.8 1316.2,1408.5 1317.7,1411.2 1319.2,1413.9 1320.7,1416.6 1322.2,1419.2 1323.7,1421.8 1325.2,1424.4 1326.7,1427.0 1328.2,1429.6 1329.7,1432.1 1331.2,1434.6 1332.7,1437.1 1334.2,1439.6 1335.7,1442.0 1337.2,1444.5 1338.7,1446.8 1340.2,1449.2 1341.7,1451.6 1343.2,1453.9 1344.7,1456.2 1346.2,1458.4 1347.7,1460.7 1349.2,1462.9 1350.7,1465.1 1352.2,1467.2 1353.7,1469.4 1355.2,1471.5 1356.7,1473.6 1358.2,1475.6 1359.7,1477.6 1361.2,1479.6 1362.7,1481.6 1364.2,1483.5 1365.7,1485.5 1367.2,1487.3 1368.7,1489.2 1370.2,1491.0 1371.7,1492.8 1373.2,1494.6 1374.7,1496.3 1376.2,1498.1 1377.7,1499.7 1379.2,1501.4 1380.7,1503.0 1382.2,1504.6 1383.7,1506.2 1385.2,1507.8 1386.7,1509.3 1388.2,1510.8 1389.7,1512.3 1391.2,1513.7 1392.7,1515.1 1394.2,1516.5 1395.7,1517.9 1397.2,1519.2 1398.7,1520.5 1400.2,1521.8 1401.7,1523.1 1403.2,1524.3 1404.7,1525.5 1406.2,1526.7 1407.7,1527.9 1409.2,1529.0 1410.7,1530.1 1412.2,1531.2 1413.7,1532.3 1415.2,1533.4 1416.7,1534.4 1418.2,1535.4 1419.7,1536.4 1421.2,1537.3 1422.7,1538.3 1424.2,1539.2 1425.7,1540.1 1427.2,1540.9 1428.7,1541.8 1430.2,1542.6 1431.7,1543.4 1433.2,1544.2 1434.7,1545.0 1436.2,1545.8 1437.7,1546.5 1439.2,1547.2 1440.7,1547.9 1442.2,1548.6 1443.7,1549.3 1445.2,1549.9 1446.7,1550.6 1448.2,1551.2 1449.7,1551.8 1451.2,1552.4 1452.7,1552.9 1454.2,1553.5 1455.7,1554.0 1457.2,1554.6 1458.7,1555.1 1460.2,1555.6 1461.7,1556.1 1463.2,1556.5 1464.7,1557.0 1466.2,1557.4 1467.7,1557.9 1469.2,1558.3 1470.7,1558.7 1472.2,1559.1 1473.7,1559.5 1475.2,1559.9 1476.7,1560.2 1478.2,1560.6 1479.7,1560.9 1481.2,1561.3 1482.7,1561.6 1484.2,1561.9 1485.7,1562.2 1487.2,1562.5 1488.7,1562.8 1490.2,1563.0 1491.7,1563.3 1493.2,1563.6 1494.7,1563.8 1496.2,1564.1 1497.7,1564.3 1499.2,1564.5 1500.7,1564.7 1502.2,1565.0 1503.7,1565.2 1505.2,1565.4 1506.7,1565.5 1508.2,1565.7 1509.7,1565.9 1511.2,1566.1 1512.7,1566.3 1514.2,1566.4 1515.7,1566.6 1517.2,1566.7 1518.7,1566.9 1520.2,1567.0 1521.7,1567.1 1523.2,1567.3 1524.7,1567.4 1526.2,1567.5 1527.7,1567.6 1529.2,1567.8 1530.7,1567.9 1532.2,1568.0 1533.7,1568.1 1535.2,1568.2 1536.7,1568.3 1538.2,1568.4 1539.7,1568.4 1541.2,1568.5 1542.7,1568.6 1544.2,1568.7 1545.7,1568.8 1547.2,1568.8 1548.7,1568.9 1550.2,1569.0 1551.7,1569.0 1553.2,1569.1 1554.7,1569.2 1556.2,1569.2 1557.7,1569.3 1559.2,1569.3 1560.7,1569.4 1562.2,1569.4 1563.7,1569.5 1565.2,1569.5 1566.7,1569.6 1568.2,1569.6 1569.7,1569.6 1571.2,1569.7 1572.7,1569.7 1574.2,1569.8 1575.7,1569.8 1577.2,1569.8 1578.7,1569.8 1580.2,1569.9 1581.7,1569.9 1583.2,1569.9 1584.7,1570.0 1586.2,1570.0 1587.7,1570.0 1589.2,1570.0 1590.7,1570.1 1592.2,1570.1 1593.7,1570.1 1595.2,1570.1 1596.7,1570.1 1598.2,1570.1 1599.7,1570.2 1601.2,1570.2 1602.7,1570.2 1604.2,1570.2 1605.7,1570.2 1607.2,1570.2 1608.7,1570.3 1610.2,1570.3 1611.7,1570.3 1613.2,1570.3 1614.7,1570.3 1616.2,1570.3 1617.7,1570.3 1619.2,1570.3 1620.7,1570.3 1622.2,1570.3 1623.7,1570.3 1625.2,1570.4 1626.7,1570.4 1628.2,1570.4 1629.2,1570.4 1629.2,1576.4" fill="#00ffff" fill-opacity="0.4" stroke="none"/>
<polyline points="705.7,1570.4 707.2,1570.4 708.7,1570.4 710.2,1570.4 711.7,1570.3 713.2,1570.3 714.7,1570.3 716.2,1570.3 717.7,1570.3 719.2,1570.3 720.7,1570.3 722.2,1570.3 723.7,1570.3 725.2,1570.3 726.7,1570.2 728.2,1570.2 729.7,1570.2 731.2,1570.2 732.7,1570.2 734.2,1570.2 735.7,1570.2 737.2,1570.1 738.7,1570.1 740.2,1570.1 741.7,1570.1 743.2,1570.1 744.7,1570.0 746.2,1570.0 747.7,1570.0 749.2,1570.0 750.7,1570.0 752.2,1569.9 753.7,1569.9 755.2,1569.9 756.7,1569.8 758.2,1569.8 759.7,1569.8 761.2,1569.7 762.7,1569.7 764.2,1569.7 765.7,1569.6 767.2,1569.6 768.7,1569.5 770.2,1569.5 771.7,1569.5 773.2,1569.4 774.7,1569.4 776.2,1569.3 777.7,1569.3 779.2,1569.2 780.7,1569.1 782.2,1569.1 783.7,1569.0 785.2,1569.0 786.7,1568.9 788.2,1568.8 789.7,1568.7 791.2,1568.7 792.7,1568.6 794.2,1568.5 795.7,1568.4 797.2,1568.3 798.7,1568.2 800.2,1568.1 801.7,1568.0 803.2,1567.9 804.7,1567.8 806.2,1567.7 807.7,1567.6 809.2,1567.5 810.7,1567.4 812.2,1567.2 813.7,1567.1 815.2,1567.0 816.7,1566.8 818.2,1566.7 819.7,1566.5 821.2,1566.4 822.7,1566.2 824.2,1566.0 825.7,1565.9 827.2,1565.7 828.7,1565.5 830.2,1565.3 831.7,1565.1 833.2,1564.9 834.7,1564.7 836.2,1564.4 837.7,1564.2 839.2,1564.0 840.7,1563.7 842.2,1563.5 843.7,1563.2 845.2,1563.0 846.7,1562.7 848.2,1562.4 849.7,1562.1 851.2,1561.8 852.7,1561.5 854.2,1561.1 855.7,1560.8 857.2,1560.5 858.7,1560.1 860.2,1559.7 861.7,1559.4 863.2,1559.0 864.7,1558.6 866.2,1558.2 867.7,1557.7 869.2,1557.3 870.7,1556.9 872.2,1556.4 873.7,1555.9 875.2,1555.4 876.7,1554.9 878.2,1554.4 879.7,1553.9 881.2,1553.3 882.7,1552.8 884.2,1552.2 885.7,1551.6 887.2,1551.0 888.7,1550.4 890.2,1549.7 891.7,1549.1 893.2,1548.4 894.7,1547.7 896.2,1547.0 897.7,1546.3 899.2,1545.5 900.7,1544.8 902.2,1544.0 903.7,1543.2 905.2,1542.4 906.7,1541.5 908.2,1540.7 909.7,1539.8 911.2,1538.9 912.7,1538.0 914.2,1537.0 915.7,1536.1 917.2,1535.1 918.7,1534.1 920.2,1533.0 921.7,1532.0 923.2,1530.9 924.7,1529.8 926.2,1528.7 927.7,1527.5 929.2,1526.3 930.7,1525.2 932.2,1523.9 933.7,1522.7 935.2,1521.4 936.7,1520.1 938.2,1518.8 939.7,1517.5 941.2,1516.1 942.7,1514.7 944.2,1513.3 945.7,1511.8 947.2,1510.3 948.7,1508.8 950.2,1507.3 951.7,1505.7 953.2,1504.1 954.7,1502.5 956.2,1500.9 957.7,1499.2 959.2,1497.5 960.7,1495.8 962.2,1494.0 963.7,1492.3 965.2,1490.5 966.7,1488.6 968.2,1486.8 969.7,1484.9 971.2,1482.9 972.7,1481.0 974.2,1479.0 975.7,1477.0 977.2,1475.0 978.7,1472.9 980.2,1470.8 981.7,1468.7 983.2,1466.6 984.7,1464.4 986.2,1462.2 987.7,1460.0 989.2,1457.7 990.7,1455.5 992.2,1453.2 993.7,1450.8 995.2,1448.5 996.7,1446.1 998.2,1443.7 999.7,1441.3 1001.2,1438.8 1002.7,1436.3 1004.2,1433.8 1005.7,1431.3 1007.2,1428.8 1008.7,1426.2 1010.2,1423.6 1011.7,1421.0 1013.2,1418.4 1014.7,1415.7 1016.2,1413.1 1017.7,1410.4 1019.2,1407.7 1020.7,1404.9 1022.2,1402.2 1023.7,1399.4 1025.2,1396.6 1026.7,1393.9 1028.2,1391.1 1029.7,1388.2 1031.2,1385.4 1032.7,1382.6 1034.2,1379.7 1035.7,1376.8 1037.2,1374.0 1038.7,1371.1 1040.2,1368.2 1041.7,1365.3 1043.2,1362.4 1044.7,1359.4 1046.2,1356.5 1047.7,1353.6 1049.2,1350.7 1050.7,1347.8 1052.2,1344.8 1053.7,1341.9 1055.2,1339.0 1056.7,1336.0 1058.2,1333.1 1059.7,1330.2 1061.2,1327.3 1062.7,1324.4 1064.2,1321.5 1065.7,1318.6 1067.2,1315.7 1068.7,1312.9 1070.2,1310.0 1071.7,1307.2 1073.2,1304.3 1074.7,1301.5 1076.2,1298.7 1077.7,1295.9 1079.2,1293.2 1080.7,1290.4 1082.2,1287.7 1083.7,1285.0 1085.2,1282.3 1086.7,1279.6 1088.2,1277.0 1089.7,1274.4 1091.2,1271.8 1092.7,1269.3 1094.2,1266.8 1095.7,1264.3 1097.2,1261.8 1098.7,1259.4 1100.2,1257.0 1101.7,1254.6 1103.2,1252.3 1104.7,1250.0 1106.2,1247.8 1107.7,1245.6 1109.2,1243.4 1110.7,1241.3 1112.2,1239.2 1113.7,1237.2 1115.2,1235.2 1116.7,1233.2 1118.2,1231.3 1119.7,1229.5 1121.2,1227.7 1122.7,1225.9 1124.2,1224.2 1125.7,1222.5 1127.2,1220.9 1128.7,1219.4 1130.2,1217.9 1131.7,1216.4 1133.2,1215.0 1134.7,1213.7 1136.2,1212.4 1137.7,1211.1 1139.2,1210.0 1140.7,1208.8 1142.2,1207.8 1143.7,1206.8 1145.2,1205.8 1146.7,1205.0 1148.2,1204.1 1149.7,1203.4 1151.2,1202.7 1152.7,1202.0 1154.2,1201.4 1155.7,1200.9 1157.2,1200.5 1158.7,1200.1 1160.2,1199.7 1161.7,1199.5 1163.2,1199.3 1164.7,1199.1 1166.2,1199.0 1167.7,1199.0 1169.2,1199.0 1170.7,1199.1 1172.2,1199.3 1173.7,1199.5 1175.2,1199.8 1176.7,1200.2 1178.2,1200.6 1179.7,1201.1 1181.2,1201.6 1182.7,1202.2 1184.2,1202.9 1185.7,1203.6 1187.2,1204.4 1188.7,1205.2 1190.2,1206.1 1191.7,1207.1 1193.2,1208.1 1194.7,1209.2 1196.2,1210.3 1197.7,1211.5 1199.2,1212.8 1200.7,1214.1 1202.2,1215.4 1203.7,1216.9 1205.2,1218.3 1206.7,1219.8 1208.2,1221.4 1209.7,1223.0 1211.2,1224.7 1212.7,1226.4 1214.2,1228.2 1215.7,1230.1 1217.2,1231.9 1218.7,1233.8 1220.2,1235.8 1221.7,1237.8 1223.2,1239.9 1224.7,1242.0 1226.2,1244.1 1227.7,1246.3 1229.2,1248.5 1230.7,1250.8 1232.2,1253.0 1233.7,1255.4 1235.2,1257.7 1236.7,1260.1 1238.2,1262.6 1239.7,1265.0 1241.2,1267.5 1242.7,1270.1 1244.2,1272.6 1245.7,1275.2 1247.2,1277.8 1248.7,1280.5 1250.2,1283.1 1251.7,1285.8 1253.2,1288.5 1254.7,1291.3 1256.2,1294.0 1257.7,1296.8 1259.2,1299.6 1260.7,1302.4 1262.2,1305.2 1263.7,1308.0 1265.2,1310.9 1266.7,1313.8 1268.2,1316.6 1269.7,1319.5 1271.2,1322.4 1272.7,1325.3 1274.2,1328.2 1275.7,1331.1 1277.2,1334.0 1278.7,1337.0 1280.2,1339.9 1281.7,1342.8 1283.2,1345.7 1284.7,1348.7 1286.2,1351.6 1287.7,1354.5 1289.2,1357.4 1290.7,1360.4 1292.2,1363.3 1293.7,1366.2 1295.2,1369.1 1296.7,1372.0 1298.2,1374.9 1299.7,1377.7 1301.2,1380.6 1302.7,1383.4 1304.2,1386.3 1305.7,1389.1 1307.2,1391.9 1308.7,1394.7 1310.2,1397.5 1311.7,1400.3 1313.2,1403.0 1314.7,1405.8 1316.2,1408.5 1317.7,1411.2 1319.2,1413.9 1320.7,1416.6 1322.2,1419.2 1323.7,1421.8 1325.2,1424.4 1326.7,1427.0 1328.2,1429.6 1329.7,1432.1 1331.2,1434.6 1332.7,1437.1 1334.2,1439.6 1335.7,1442.0 1337.2,1444.5 1338.7,1446.8 1340.2,1449.2 1341.7,1451.6 1343.2,1453.9 1344.7,1456.2 1346.2,1458.4 1347.7,1460.7 1349.2,1462.9 1350.7,1465.1 1352.2,1467.2 1353.7,1469.4 1355.2,1471.5 1356.7,1473.6 1358.2,1475.6 1359.7,1477.6 1361.2,1479.6 1362.7,1481.6 1364.2,1483.5 1365.7,1485.5 1367.2,1487.3 1368.7,1489.2 1370.2,1491.0 1371.7,1492.8 1373.2,1494.6 1374.7,1496.3 1376.2,1498.1 1377.7,1499.7 1379.2,1501.4 1380.7,1503.0 1382.2,1504.6 1383.7,1506.2 1385.2,1507.8 1386.7,1509.3 1388.2,1510.8 1389.7,1512.3 1391.2,1513.7 1392.7,1515.1 1394.2,1516.5 1395.7,1517.9 1397.2,1519.2 1398.7,1520.5 1400.2,1521.8 1401.7,1523.1 1403.2,1524.3 1404.7,1525.5 1406.2,1526.7 1407.7,1527.9 1409.2,1529.0 1410.7,1530.1 1412.2,1531.2 1413.7,1532.3 1415.2,1533.4 1416.7,1534.4 1418.2,1535.4 1419.7,1536.4 1421.2,1537.3 1422.7,1538.3 1424.2,1539.2 1425.7,1540.1 1427.2,1540.9 1428.7,1541.8 1430.2,1542.6 1431.7,1543.4 1433.2,1544.2 1434.7,1545.0 1436.2,1545.8 1437.7,1546.5 1439.2,1547.2 1440.7,1547.9 1442.2,1548.6 1443.7,1549.3 1445.2,1549.9 1446.7,1550.6 1448.2,1551.2 1449.7,1551.8 1451.2,1552.4 1452.7,1552.9 1454.2,1553.5 1455.7,1554.0 1457.2,1554.6 1458.7,1555.1 1460.2,1555.6 1461.7,1556.1 1463.2,1556.5 1464.7,1557.0 1466.2,1557.4 1467.7,1557.9 1469.2,1558.3 1470.7,1558.7 1472.2,1559.1 1473.7,1559.5 1475.2,1559.9 1476.7,1560.2 1478.2,1560.6 1479.7,1560.9 1481.2,1561.3 1482.7,1561.6 1484.2,1561.9 1485.7,1562.2 1487.2,1562.5 1488.7,1562.8 1490.2,1563.0 1491.7,1563.3 1493.2,1563.6 1494.7,1563.8 1496.2,1564.1 1497.7,1564.3 1499.2,1564.5 1500.7,1564.7 1502.2,1565.0 1503.7,1565.2 1505.2,1565.4 1506.7,1565.5 1508.2,1565.7 1509.7,1565.9 1511.2,1566.1 1512.7,1566.3 1514.2,1566.4 1515.7,1566.6 1517.2,1566.7 1518.7,1566.9 1520.2,1567.0 1521.7,1567.1 1523.2,1567.3 1524.7,1567.4 1526.2,1567.5 1527.7,1567.6 1529.2,1567.8 1530.7,1567.9 1532.2,1568.0 1533.7,1568.1 1535.2,1568.2 1536.7,1568.3 1538.2,1568.4 1539.7,1568.4 1541.2,1568.5 1542.7,1568.6 1544.2,1568.7 1545.7,1568.8 1547.2,1568.8 1548.7,1568.9 1550.2,1569.0 1551.7,1569.0 1553.2,1569.1 1554.7,1569.2 1556.2,1569.2 1557.7,1569.3 1559.2,1569.3 1560.7,1569.4 1562.2,1569.4 1563.7,1569.5 1565.2,1569.5 1566.7,1569.6 1568.2,1569.6 1569.7,1569.6 1571.2,1569.7 1572.7,1569.7 1574.2,1569.8 1575.7,1569.8 1577.2,1569.8 1578.7,1569.8 1580.2,1569.9 1581.7,1569.9 1583.2,1569.9 1584.7,1570.0 1586.2,1570.0 1587.7,1570.0 1589.2,1570.0 1590.7,1570.1 1592.2,1570.1 1593.7,1570.1 1595.2,1570.1 1596.7,1570.1 1598.2,1570.1 1599.7,1570.2 1601.2,1570.2 1602.7,1570.2 1604.2,1570.2 1605.7,1570.2 1607.2,1570.2 1608.7,1570.3 1610.2,1570.3 1611.7,1570.3 1613.2,1570.3 1614.7,1570.3 1616.2,1570.3 1617.7,1570.3 1619.2,1570.3 1620.7,1570.3 1622.2,1570.3 1623.7,1570.3 1625.2,1570.4 1626.7,1570.4 1628.2,1570.4 1629.2,1570.4" fill="none" stroke="#00ffff" stroke-width="4.34" stroke-linejoin="round"/>
<polygon points="800.5,1576.4 800.5,1570.4 802.0,1570.4 803.5,1570.4 805.0,1570.4 806.5,1570.4 808.0,1570.3 809.5,1570.3 811.0,1570.3 812.5,1570.3 814.0,1570.2 815.5,1570.2 817.0,1570.2 818.5,1570.1 820.0,1570.1 821.5,1570.0 823.0,1570.0 824.5,1569.9 826.0,1569.9 827.5,1569.8 829.0,1569.7 830.5,1569.7 832.0,1569.6 833.5,1569.5 835.0,1569.4 836.5,1569.3 838.0,1569.1 839.5,1569.0 841.0,1568.8 842.5,1568.7 844.0,1568.5 845.5,1568.3 847.0,1568.1 848.5,1567.9 850.0,1567.6 851.5,1567.4 853.0,1567.1 854.5,1566.8 856.0,1566.4 857.5,1566.1 859.0,1565.7 860.5,1565.2 862.0,1564.8 863.5,1564.3 865.0,1563.8 866.5,1563.2 868.0,1562.6 869.5,1562.0 871.0,1561.3 872.5,1560.6 874.0,1559.8 875.5,1558.9 877.0,1558.1 878.5,1557.1 880.0,1556.1 881.5,1555.0 883.0,1553.9 884.5,1552.7 886.0,1551.4 887.5,1550.1 889.0,1548.7 890.5,1547.2 892.0,1545.6 893.5,1544.0 895.0,1542.2 896.5,1540.4 898.0,1538.5 899.5,1536.5 901.0,1534.3 902.5,1532.1 904.0,1529.8 905.5,1527.4 907.0,1524.9 908.5,1522.3 910.0,1519.6 911.5,1516.7 913.0,1513.8 914.5,1510.8 916.0,1507.6 917.5,1504.3 919.0,1501.0 920.5,1497.5 922.0,1493.9 923.5,1490.2 925.0,1486.4 926.5,1482.5 928.0,1478.5 929.5,1474.4 931.0,1470.2 932.5,1465.9 934.0,1461.6 935.5,1457.1 937.0,1452.6 938.5,1447.9 940.0,1443.2 941.5,1438.5 943.0,1433.7 944.5,1428.8 946.0,1423.9 947.5,1419.0 949.0,1414.0 950.5,1409.0 952.0,1404.0 953.5,1399.0 955.0,1393.9 956.5,1388.9 958.0,1383.9 959.5,1379.0 961.0,1374.1 962.5,1369.2 964.0,1364.4 965.5,1359.6 967.0,1355.0 968.5,1350.4 970.0,1345.9 971.5,1341.5 973.0,1337.3 974.5,1333.1 976.0,1329.1 977.5,1325.3 979.0,1321.6 980.5,1318.1 982.0,1314.7 983.5,1311.6 985.0,1308.6 986.5,1305.8 988.0,1303.2 989.5,1300.8 991.0,1298.7 992.5,1296.7 994.0,1295.0 995.5,1293.5 997.0,1292.3 998.5,1291.2 1000.0,1290.5 1001.5,1289.9 1003.0,1289.6 1004.5,1289.6 1006.0,1289.8 1007.5,1290.2 1009.0,1290.9 1010.5,1291.8 1012.0,1293.0 1013.5,1294.4 1015.0,1296.0 1016.5,1297.9 1018.0,1300.0 1019.5,1302.3 1021.0,1304.8 1022.5,1307.5 1024.0,1310.4 1025.5,1313.5 1027.0,1316.8 1028.5,1320.2 1030.0,1323.9 1031.5,1327.7 1033.0,1331.6 1034.5,1335.7 1036.0,1339.9 1037.5,1344.2 1039.0,1348.7 1040.5,1353.2 1042.0,1357.8 1043.5,1362.5 1045.0,1367.3 1046.5,1372.2 1048.0,1377.1 1049.5,1382.0 1051.0,1387.0 1052.5,1392.0 1054.0,1397.0 1055.5,1402.1 1057.0,1407.1 1058.5,1412.1 1060.0,1417.1 1061.5,1422.0 1063.0,1427.0 1064.5,1431.8 1066.0,1436.7 1067.5,1441.4 1069.0,1446.2 1070.5,1450.8 1072.0,1455.4 1073.5,1459.9 1075.0,1464.3 1076.5,1468.6 1078.0,1472.8 1079.5,1477.0 1081.0,1481.0 1082.5,1484.9 1084.0,1488.8 1085.5,1492.5 1087.0,1496.1 1088.5,1499.7 1090.0,1503.1 1091.5,1506.4 1093.0,1509.6 1094.5,1512.7 1096.0,1515.6 1097.5,1518.5 1099.0,1521.3 1100.5,1523.9 1102.0,1526.5 1103.5,1528.9 1105.0,1531.3 1106.5,1533.5 1108.0,1535.7 1109.5,1537.7 1111.0,1539.7 1112.5,1541.5 1114.0,1543.3 1115.5,1545.0 1117.0,1546.6 1118.5,1548.1 1120.0,1549.6 1121.5,1550.9 1123.0,1552.2 1124.5,1553.5 1126.0,1554.6 1127.5,1555.7 1129.0,1556.7 1130.5,1557.7 1132.0,1558.6 1133.5,1559.5 1135.0,1560.3 1136.5,1561.0 1138.0,1561.7 1139.5,1562.4 1141.0,1563.0 1142.5,1563.6 1144.0,1564.1 1145.5,1564.6 1147.0,1565.1 1148.5,1565.5 1150.0,1565.9 1151.5,1566.3 1153.0,1566.6 1154.5,1567.0 1156.0,1567.3 1157.5,1567.5 1159.0,1567.8 1160.5,1568.0 1162.0,1568.2 1163.5,1568.4 1165.0,1568.6 1166.5,1568.8 1168.0,1568.9 1169.5,1569.1 1171.0,1569.2 1172.5,1569.3 1174.0,1569.4 1175.5,1569.5 1177.0,1569.6 1178.5,1569.7 1180.0,1569.8 1181.5,1569.9 1183.0,1569.9 1184.5,1570.0 1186.0,1570.0 1187.5,1570.1 1189.0,1570.1 1190.5,1570.2 1192.0,1570.2 1193.5,1570.2 1195.0,1570.3 1196.5,1570.3 1198.0,1570.3 1199.5,1570.3 1201.0,1570.3 1202.5,1570.4 1204.0,1570.4 1205.5,1570.4 1207.0,1570.4 1207.6,1570.4 1207.6,1576.4" fill="#0000ff" fill-opacity="0.4" stroke="none"/>
<polyline points="800.5,1570.4 802.0,1570.4 803.5,1570.4 805.0,1570.4 806.5,1570.4 808.0,1570.3 809.5,1570.3 811.0,1570.3 812.5,1570.3 814.0,1570.2 815.5,1570.2 817.0,1570.2 818.5,1570.1 820.0,1570.1 821.5,1570.0 823.0,1570.0 824.5,1569.9 826.0,1569.9 827.5,1569.8 829.0,1569.7 830.5,1569.7 832.0,1569.6 833.5,1569.5 835.0,1569.4 836.5,1569.3 838.0,1569.1 839.5,1569.0 841.0,1568.8 842.5,1568.7 844.0,1568.5 845.5,1568.3 847.0,1568.1 848.5,1567.9 850.0,1567.6 851.5,1567.4 853.0,1567.1 854.5,1566.8 856.0,1566.4 857.5,1566.1 859.0,1565.7 860.5,1565.2 862.0,1564.8 863.5,1564.3 865.0,1563.8 866.5,1563.2 868.0,1562.6 869.5,1562.0 871.0,1561.3 872.5,1560.6 874.0,1559.8 875.5,1558.9 877.0,1558.1 878.5,1557.1 880.0,1556.1 881.5,1555.0 883.0,1553.9 884.5,1552.7 886.0,1551.4 887.5,1550.1 889.0,1548.7 890.5,1547.2 892.0,1545.6 893.5,1544.0 895.0,1542.2 896.5,1540.4 898.0,1538.5 899.5,1536.5 901.0,1534.3 902.5,1532.1 904.0,1529.8 905.5,1527.4 907.0,1524.9 908.5,1522.3 910.0,1519.6 911.5,1516.7 913.0,1513.8 914.5,1510.8 916.0,1507.6 917.5,1504.3 919.0,1501.0 920.5,1497.5 922.0,1493.9 923.5,1490.2 925.0,1486.4 926.5,1482.5 928.0,1478.5 929.5,1474.4 931.0,1470.2 932.5,1465.9 934.0,1461.6 935.5,1457.1 937.0,1452.6 938.5,1447.9 940.0,1443.2 941.5,1438.5 943.0,1433.7 944.5,1428.8 946.0,1423.9 947.5,1419.0 949.0,1414.0 950.5,1409.0 952.0,1404.0 953.5,1399.0 955.0,1393.9 956.5,1388.9 958.0,1383.9 959.5,1379.0 961.0,1374.1 962.5,1369.2 964.0,1364.4 965.5,1359.6 967.0,1355.0 968.5,1350.4 970.0,1345.9 971.5,1341.5 973.0,1337.3 974.5,1333.1 976.0,1329.1 977.5,1325.3 979.0,1321.6 980.5,1318.1 982.0,1314.7 983.5,1311.6 985.0,1308.6 986.5,1305.8 988.0,1303.2 989.5,1300.8 991.0,1298.7 992.5,1296.7 994.0,1295.0 995.5,1293.5 997.0,1292.3 998.5,1291.2 1000.0,1290.5 1001.5,1289.9 1003.0,1289.6 1004.5,1289.6 1006.0,1289.8 1007.5,1290.2 1009.0,1290.9 1010.5,1291.8 1012.0,1293.0 1013.5,1294.4 1015.0,1296.0 1016.5,1297.9 1018.0,1300.0 1019.5,1302.3 1021.0,1304.8 1022.5,1307.5 1024.0,1310.4 1025.5,1313.5 1027.0,1316.8 1028.5,1320.2 1030.0,1323.9 1031.5,1327.7 1033.0,1331.6 1034.5,1335.7 1036.0,1339.9 1037.5,1344.2 1039.0,1348.7 1040.5,1353.2 1042.0,1357.8 1043.5,1362.5 1045.0,1367.3 1046.5,1372.2 1048.0,1377.1 1049.5,1382.0 1051.0,1387.0 1052.5,1392.0 1054.0,1397.0 1055.5,1402.1 1057.0,1407.1 1058.5,1412.1 1060.0,1417.1 1061.5,1422.0 1063.0,1427.0 1064.5,1431.8 1066.0,1436.7 1067.5,1441.4 1069.0,1446.2 1070.5,1450.8 1072.0,1455.4 1073.5,1459.9 1075.0,1464.3 1076.5,1468.6 1078.0,1472.8 1079.5,1477.0 1081.0,1481.0 1082.5,1484.9 1084.0,1488.8 1085.5,1492.5 1087.0,1496.1 1088.5,1499.7 1090.0,1503.1 1091.5,1506.4 1093.0,1509.6 1094.5,1512.7 1096.0,1515.6 1097.5,1518.5 1099.0,1521.3 1100.5,1523.9 1102.0,1526.5 1103.5,1528.9 1105.0,1531.3 1106.5,1533.5 1108.0,1535.7 1109.5,1537.7 1111.0,1539.7 1112.5,1541.5 1114.0,1543.3 1115.5,1545.0 1117.0,1546.6 1118.5,1548.1 1120.0,1549.6 1121.5,1550.9 1123.0,1552.2 1124.5,1553.5 1126.0,1554.6 1127.5,1555.7 1129.0,1556.7 1130.5,1557.7 1132.0,1558.6 1133.5,1559.5 1135.0,1560.3 1136.5,1561.0 1138.0,1561.7 1139.5,1562.4 1141.0,1563.0 1142.5,1563.6 1144.0,1564.1 1145.5,1564.6 1147.0,1565.1 1148.5,1565.5 1150.0,1565.9 1151.5,1566.3 1153.0,1566.6 1154.5,1567.0 1156.0,1567.3 1157.5,1567.5 1159.0,1567.8 1160.5,1568.0 1162.0,1568.2 1163.5,1568.4 1165.0,1568.6 1166.5,1568.8 1168.0,1568.9 1169.5,1569.1 1171.0,1569.2 1172.5,1569.3 1174.0,1569.4 1175.5,1569.5 1177.0,1569.6 1178.5,1569.7 1180.0,1569.8 1181.5,1569.9 1183.0,1569.9 1184.5,1570.0 1186.0,1570.0 1187.5,1570.1 1189.0,1570.1 1190.5,1570.2 1192.0,1570.2 1193.5,1570.2 1195.0,1570.3 1196.5,1570.3 1198.0,1570.3 1199.5,1570.3 1201.0,1570.3 1202.5,1570.4 1204.0,1570.4 1205.5,1570.4 1207.0,1570.4 1207.6,1570.4" fill="none" stroke="#0000ff" stroke-width="4.34" stroke-linejoin="round"/>
<polyline points="137.0,1240.0 145.0,1032.0 154.0,822.0 161.0,656.0 167.5,537.5 176.8,447.0 185.3,386.5 192.3,342.8 199.4,311.0 207.5,290.0 215.5,277.0 223.5,271.0 231.5,270.0 239.5,272.0 247.0,277.0 255.0,284.0 262.5,291.0 270.5,299.0 278.0,308.0 285.8,318.3 293.6,329.7 301.3,344.9 309.1,364.7 316.9,387.9 324.6,412.5 332.4,436.8 340.2,458.8 347.9,478.3 355.7,494.8 363.5,508.5 371.2,520.0 379.0,530.4 386.8,540.0 394.5,549.6 402.3,559.7 410.1,570.9 417.8,583.4 425.6,597.4 433.4,612.7 441.1,629.3 448.9,646.8 456.7,664.9 464.4,683.2 472.2,701.4 480.0,719.2 487.7,736.1 495.5,752.1 503.3,767.0 511.0,780.6 518.8,793.0 526.6,804.2 534.4,814.3 542.1,823.4 549.9,831.8 557.7,839.5 565.4,846.9 573.2,854.1 581.0,861.2 588.7,868.6 596.5,876.2 604.3,884.1 612.0,892.5 619.8,901.3 627.6,910.6 635.3,920.2 643.1,930.0 650.9,940.0 658.6,950.0 666.4,959.8 674.2,969.4 681.9,978.5 689.7,987.0 697.5,994.7 705.2,1001.7 713.0,1007.7 720.8,1012.7 728.5,1016.8 736.3,1019.4 744.1,1021.0 751.8,1021.7 759.6,1021.7 767.4,1023.4 775.1,1024.8 782.9,1026.0 790.7,1026.9 798.4,1027.6 806.2,1028.5 814.0,1029.2 821.7,1028.4 829.5,1028.3 837.3,1028.8 845.0,1028.6 852.8,1028.3 860.6,1028.6 868.3,1029.9 876.1,1031.2 883.9,1032.9 891.6,1034.6 899.4,1035.0 907.2,1035.4 914.9,1033.8 922.7,1029.8 930.5,1023.3 938.2,1014.3 946.0,1002.1 953.8,988.3 961.5,974.0 969.3,960.5 977.1,948.8 984.8,940.2 992.6,936.5 1000.4,937.6 1008.1,944.4 1015.9,956.4 1023.7,972.4 1031.4,991.6 1039.2,1013.5 1047.0,1036.8 1054.7,1060.4 1062.5,1083.1 1070.3,1103.9 1078.0,1122.0 1085.8,1137.2 1093.6,1149.2 1101.3,1158.2 1109.1,1164.4 1116.9,1168.4 1124.6,1170.6 1132.4,1171.5 1140.2,1171.7 1147.9,1171.6 1155.7,1171.5 1163.5,1171.8 1171.2,1172.8 1179.0,1174.5 1186.8,1177.0 1194.5,1180.5 1202.3,1184.8 1210.1,1189.9 1217.8,1195.9 1225.6,1202.4 1233.4,1209.5 1241.1,1217.0 1248.9,1224.7 1256.7,1232.6 1264.4,1240.4 1272.2,1248.1 1280.0,1255.5 1287.7,1262.5 1295.5,1269.1 1303.3,1275.1 1311.1,1280.5 1318.8,1285.2 1326.6,1289.3 1334.4,1292.7 1342.1,1295.5 1349.9,1297.7 1357.7,1299.4 1365.4,1300.7 1373.2,1301.5 1381.0,1302.2 1388.7,1302.7 1396.5,1303.1 1404.3,1303.6 1412.0,1304.2 1419.8,1305.2 1427.6,1306.4 1435.3,1308.2 1443.1,1309.8 1450.9,1311.0 1458.6,1312.8 1466.4,1315.2 1474.2,1318.2 1481.9,1321.9 1489.7,1326.6 1497.5,1331.7 1505.2,1337.2 1513.0,1342.9 1520.8,1348.8 1528.5,1354.6 1536.3,1361.2 1544.1,1367.7 1551.8,1373.8 1559.6,1379.1 1567.4,1384.1 1575.1,1388.2 1582.9,1391.2 1590.7,1393.0 1598.4,1394.7 1606.2,1395.1 1614.0,1394.1 1621.7,1391.8 1629.5,1388.7 1637.3,1384.5 1645.0,1379.3 1652.8,1372.6 1660.6,1364.1 1668.3,1355.5 1676.1,1346.9 1683.9,1337.1 1691.6,1326.1 1699.4,1316.3 1707.2,1306.2 1714.9,1297.5 1722.7,1290.7 1730.5,1286.5 1738.2,1284.7 1746.0,1291.8 1753.8,1301.4 1761.5,1314.5 1769.3,1328.1 1777.1,1342.2 1784.8,1357.6 1792.6,1373.2 1800.4,1387.9 1808.1,1403.0 1815.9,1418.2 1823.7,1433.3 1831.4,1447.8 1839.2,1460.9 1847.0,1473.3 1854.7,1484.8 1862.5,1495.1 1870.3,1504.2 1878.0,1512.3 1885.8,1518.9 1893.6,1524.0 1901.3,1528.1 1909.1,1531.3 1916.9,1534.7 1924.6,1537.6 1932.4,1539.8 1940.2,1541.5 1947.9,1542.8 1955.7,1543.8 1963.5,1544.5 1971.2,1545.0 1979.0,1545.4 1986.8,1545.5 1994.5,1545.5 2002.3,1545.5 2010.1,1545.6 2017.8,1545.6 2025.6,1545.6 2033.4,1545.5 2041.1,1545.4" fill="none" stroke="#000" stroke-width="4.34" stroke-linejoin="round"/>
<g fill="none" stroke="#000" stroke-width="3.9">
<circle cx="145.0" cy="1032.0" r="16.2"/>
<circle cx="154.0" cy="822.0" r="16.2"/>
<circle cx="161.0" cy="656.0" r="16.2"/>
<circle cx="167.5" cy="537.5" r="16.2"/>
<circle cx="176.8" cy="447.0" r="16.2"/>
<circle cx="185.3" cy="386.5" r="16.2"/>
<circle cx="192.3" cy="342.8" r="16.2"/>
<circle cx="199.4" cy="311.0" r="16.2"/>
<circle cx="207.5" cy="290.0" r="16.2"/>
<circle cx="215.5" cy="277.0" r="16.2"/>
<circle cx="223.5" cy="271.0" r="16.2"/>
<circle cx="231.5" cy="270.0" r="16.2"/>
<circle cx="239.5" cy="272.0" r="16.2"/>
<circle cx="247.0" cy="277.0" r="16.2"/>
<circle cx="255.0" cy="284.0" r="16.2"/>
<circle cx="262.5" cy="291.0" r="16.2"/>
<circle cx="270.5" cy="299.0" r="16.2"/>
<circle cx="278.0" cy="308.0" r="16.2"/>
<circle cx="285.8" cy="318.3" r="16.2"/>
<circle cx="293.6" cy="329.7" r="16.2"/>
<circle cx="301.3" cy="344.9" r="16.2"/>
<circle cx="309.1" cy="364.7" r="16.2"/>
<circle cx="316.9" cy="387.9" r="16.2"/>
<circle cx="324.6" cy="412.5" r="16.2"/>
<circle cx="332.4" cy="436.8" r="16.2"/>
<circle cx="340.2" cy="458.8" r="16.2"/>
<circle cx="347.9" cy="478.3" r="16.2"/>
<circle cx="355.7" cy="494.8" r="16.2"/>
<circle cx="363.5" cy="508.5" r="16.2"/>
<circle cx="371.2" cy="520.0" r="16.2"/>
<circle cx="379.0" cy="530.4" r="16.2"/>
<circle cx="386.8" cy="540.0" r="16.2"/>
<circle cx="394.5" cy="549.6" r="16.2"/>
<circle cx="402.3" cy="559.7" r="16.2"/>
<circle cx="410.1" cy="570.9" r="16.2"/>
<circle cx="417.8" cy="583.4" r="16.2"/>
<circle cx="425.6" cy="597.4" r="16.2"/>
<circle cx="433.4" cy="612.7" r="16.2"/>
<circle cx="441.1" cy="629.3" r="16.2"/>
<circle cx="448.9" cy="646.8" r="16.2"/>
<circle cx="456.7" cy="664.9" r="16.2"/>
<circle cx="464.4" cy="683.2" r="16.2"/>
<circle cx="472.2" cy="701.4" r="16.2"/>
<circle cx="480.0" cy="719.2" r="16.2"/>
<circle cx="487.7" cy="736.1" r="16.2"/>
<circle cx="495.5" cy="752.1" r="16.2"/>
<circle cx="503.3" cy="767.0" r="16.2"/>
<circle cx="511.0" cy="780.6" r="16.2"/>
<circle cx="518.8" cy="793.0" r="16.2"/>
<circle cx="526.6" cy="804.2" r="16.2"/>
<circle cx="534.4" cy="814.3" r="16.2"/>
<circle cx="542.1" cy="823.4" r="16.2"/>
<circle cx="549.9" cy="831.8" r="16.2"/>
<circle cx="557.7" cy="839.5" r="16.2"/>
<circle cx="565.4" cy="846.9" r="16.2"/>
<circle cx="573.2" cy="854.1" r="16.2"/>
<circle cx="581.0" cy="861.2" r="16.2"/>
<circle cx="588.7" cy="868.6" r="16.2"/>
<circle cx="596.5" cy="876.2" r="16.2"/>
<circle cx="604.3" cy="884.1" r="16.2"/>
<circle cx="612.0" cy="892.5" r="16.2"/>
<circle cx="619.8" cy="901.3" r="16.2"/>
<circle cx="627.6" cy="910.6" r="16.2"/>
<circle cx="635.3" cy="920.2" r="16.2"/>
<circle cx="643.1" cy="930.0" r="16.2"/>
<circle cx="650.9" cy="940.0" r="16.2"/>
<circle cx="658.6" cy="950.0" r="16.2"/>
<circle cx="666.4" cy="959.8" r="16.2"/>
<circle cx="674.2" cy="969.4" r="16.2"/>
<circle cx="681.9" cy="978.5" r="16.2"/>
<circle cx="689.7" cy="987.0" r="16.2"/>
<circle cx="697.5" cy="994.7" r="16.2"/>
<circle cx="705.2" cy="1001.7" r="16.2"/>
<circle cx="713.0" cy="1007.7" r="16.2"/>
<circle cx="720.8" cy="1012.7" r="16.2"/>
<circle cx="728.5" cy="1016.8" r="16.2"/>
<circle cx="736.3" cy="1019.4" r="16.2"/>
<circle cx="744.1" cy="1021.0" r="16.2"/>
<circle cx="751.8" cy="1021.7" r="16.2"/>
<circle cx="759.6" cy="1021.7" r="16.2"/>
<circle cx="767.4" cy="1023.4" r="16.2"/>
<circle cx="775.1" cy="1024.8" r="16.2"/>
<circle cx="782.9" cy="1026.0" r="16.2"/>
<circle cx="790.7" cy="1026.9" r="16.2"/>
<circle cx="798.4" cy="1027.6" r="16.2"/>
<circle cx="806.2" cy="1028.5" r="16.2"/>
<circle cx="814.0" cy="1029.2" r="16.2"/>
<circle cx="821.7" cy="1028.4" r="16.2"/>
<circle cx="829.5" cy="1028.3" r="16.2"/>
<circle cx="837.3" cy="1028.8" r="16.2"/>
<circle cx="845.0" cy="1028.6" r="16.2"/>
<circle cx="852.8" cy="1028.3" r="16.2"/>
<circle cx="860.6" cy="1028.6" r="16.2"/>
<circle cx="868.3" cy="1029.9" r="16.2"/>
<circle cx="876.1" cy="1031.2" r="16.2"/>
<circle cx="883.9" cy="1032.9" r="16.2"/>
<circle cx="891.6" cy="1034.6" r="16.2"/>
<circle cx="899.4" cy="1035.0" r="16.2"/>
<circle cx="907.2" cy="1035.4" r="16.2"/>
<circle cx="914.9" cy="1033.8" r="16.2"/>
<circle cx="922.7" cy="1029.8" r="16.2"/>
<circle cx="930.5" cy="1023.3" r="16.2"/>
<circle cx="938.2" cy="1014.3" r="16.2"/>
<circle cx="946.0" cy="1002.1" r="16.2"/>
<circle cx="953.8" cy="988.3" r="16.2"/>
<circle cx="961.5" cy="974.0" r="16.2"/>
<circle cx="969.3" cy="960.5" r="16.2"/>
<circle cx="977.1" cy="948.8" r="16.2"/>
<circle cx="984.8" cy="940.2" r="16.2"/>
<circle cx="992.6" cy="936.5" r="16.2"/>
<circle cx="1000.4" cy="937.6" r="16.2"/>
<circle cx="1008.1" cy="944.4" r="16.2"/>
<circle cx="1015.9" cy="956.4" r="16.2"/>
<circle cx="1023.7" cy="972.4" r="16.2"/>
<circle cx="1031.4" cy="991.6" r="16.2"/>
<circle cx="1039.2" cy="1013.5" r="16.2"/>
<circle cx="1047.0" cy="1036.8" r="16.2"/>
<circle cx="1054.7" cy="1060.4" r="16.2"/>
<circle cx="1062.5" cy="1083.1" r="16.2"/>
<circle cx="1070.3" cy="1103.9" r="16.2"/>
<circle cx="1078.0" cy="1122.0" r="16.2"/>
<circle cx="1085.8" cy="1137.2" r="16.2"/>
<circle cx="1093.6" cy="1149.2" r="16.2"/>
<circle cx="1101.3" cy="1158.2" r="16.2"/>
<circle cx="1109.1" cy="1164.4" r="16.2"/>
<circle cx="1116.9" cy="1168.4" r="16.2"/>
<circle cx="1124.6" cy="1170.6" r="16.2"/>
<circle cx="1132.4" cy="1171.5" r="16.2"/>
<circle cx="1140.2" cy="1171.7" r="16.2"/>
<circle cx="1147.9" cy="1171.6" r="16.2"/>
<circle cx="1155.7" cy="1171.5" r="16.2"/>
<circle cx="1163.5" cy="1171.8" r="16.2"/>
<circle cx="1171.2" cy="1172.8" r="16.2"/>
<circle cx="1179.0" cy="1174.5" r="16.2"/>
<circle cx="1186.8" cy="1177.0" r="16.2"/>
<circle cx="1194.5" cy="1180.5" r="16.2"/>
<circle cx="1202.3" cy="1184.8" r="16.2"/>
<circle cx="1210.1" cy="1189.9" r="16.2"/>
<circle cx="1217.8" cy="1195.9" r="16.2"/>
<circle cx="1225.6" cy="1202.4" r="16.2"/>
<circle cx="1233.4" cy="1209.5" r="16.2"/>
<circle cx="1241.1" cy="1217.0" r="16.2"/>
<circle cx="1248.9" cy="1224.7" r="16.2"/>
<circle cx="1256.7" cy="1232.6" r="16.2"/>
<circle cx="1264.4" cy="1240.4" r="16.2"/>
<circle cx="1272.2" cy="1248.1" r="16.2"/>
<circle cx="1280.0" cy="1255.5" r="16.2"/>
<circle cx="1287.7" cy="1262.5" r="16.2"/>
<circle cx="1295.5" cy="1269.1" r="16.2"/>
<circle cx="1303.3" cy="1275.1" r="16.2"/>
<circle cx="1311.1" cy="1280.5" r="16.2"/>
<circle cx="1318.8" cy="1285.2" r="16.2"/>
<circle cx="1326.6" cy="1289.3" r="16.2"/>
<circle cx="1334.4" cy="1292.7" r="16.2"/>
<circle cx="1342.1" cy="1295.5" r="16.2"/>
<circle cx="1349.9" cy="1297.7" r="16.2"/>
<circle cx="1357.7" cy="1299.4" r="16.2"/>
<circle cx="1365.4" cy="1300.7" r="16.2"/>
<circle cx="1373.2" cy="1301.5" r="16.2"/>
<circle cx="1381.0" cy="1302.2" r="16.2"/>
<circle cx="1388.7" cy="1302.7" r="16.2"/>
<circle cx="1396.5" cy="1303.1" r="16.2"/>
<circle cx="1404.3" cy="1303.6" r="16.2"/>
<circle cx="1412.0" cy="1304.2" r="16.2"/>
<circle cx="1419.8" cy="1305.2" r="16.2"/>
<circle cx="1427.6" cy="1306.4" r="16.2"/>
<circle cx="1435.3" cy="1308.2" r="16.2"/>
<circle cx="1443.1" cy="1309.8" r="16.2"/>
<circle cx="1450.9" cy="1311.0" r="16.2"/>
<circle cx="1458.6" cy="1312.8" r="16.2"/>
<circle cx="1466.4" cy="1315.2" r="16.2"/>
<circle cx="1474.2" cy="1318.2" r="16.2"/>
<circle cx="1481.9" cy="1321.9" r="16.2"/>
<circle cx="1489.7" cy="1326.6" r="16.2"/>
<circle cx="1497.5" cy="1331.7" r="16.2"/>
<circle cx="1505.2" cy="1337.2" r="16.2"/>
<circle cx="1513.0" cy="1342.9" r="16.2"/>
<circle cx="1520.8" cy="1348.8" r="16.2"/>
<circle cx="1528.5" cy="1354.6" r="16.2"/>
<circle cx="1536.3" cy="1361.2" r="16.2"/>
<circle cx="1544.1" cy="1367.7" r="16.2"/>
<circle cx="1551.8" cy="1373.8" r="16.2"/>
<circle cx="1559.6" cy="1379.1" r="16.2"/>
<circle cx="1567.4" cy="1384.1" r="16.2"/>
<circle cx="1575.1" cy="1388.2" r="16.2"/>
<circle cx="1582.9" cy="1391.2" r="16.2"/>
<circle cx="1590.7" cy="1393.0" r="16.2"/>
<circle cx="1598.4" cy="1394.7" r="16.2"/>
<circle cx="1606.2" cy="1395.1" r="16.2"/>
<circle cx="1614.0" cy="1394.1" r="16.2"/>
<circle cx="1621.7" cy="1391.8" r="16.2"/>
<circle cx="1629.5" cy="1388.7" r="16.2"/>
<circle cx="1637.3" cy="1384.5" r="16.2"/>
<circle cx="1645.0" cy="1379.3" r="16.2"/>
<circle cx="1652.8" cy="1372.6" r="16.2"/>
<circle cx="1660.6" cy="1364.1" r="16.2"/>
<circle cx="1668.3" cy="1355.5" r="16.2"/>
<circle cx="1676.1" cy="1346.9" r="16.2"/>
<circle cx="1683.9" cy="1337.1" r="16.2"/>
<circle cx="1691.6" cy="1326.1" r="16.2"/>
<circle cx="1699.4" cy="1316.3" r="16.2"/>
<circle cx="1707.2" cy="1306.2" r="16.2"/>
<circle cx="1714.9" cy="1297.5" r="16.2"/>
<circle cx="1722.7" cy="1290.7" r="16.2"/>
<circle cx="1730.5" cy="1286.5" r="16.2"/>
<circle cx="1738.2" cy="1284.7" r="16.2"/>
<circle cx="1746.0" cy="1291.8" r="16.2"/>
<circle cx="1753.8" cy="1301.4" r="16.2"/>
<circle cx="1761.5" cy="1314.5" r="16.2"/>
<circle cx="1769.3" cy="1328.1" r="16.2"/>
<circle cx="1777.1" cy="1342.2" r="16.2"/>
<circle cx="1784.8" cy="1357.6" r="16.2"/>
<circle cx="1792.6" cy="1373.2" r="16.2"/>
<circle cx="1800.4" cy="1387.9" r="16.2"/>
<circle cx="1808.1" cy="1403.0" r="16.2"/>
<circle cx="1815.9" cy="1418.2" r="16.2"/>
<circle cx="1823.7" cy="1433.3" r="16.2"/>
<circle cx="1831.4" cy="1447.8" r="16.2"/>
<circle cx="1839.2" cy="1460.9" r="16.2"/>
<circle cx="1847.0" cy="1473.3" r="16.2"/>
<circle cx="1854.7" cy="1484.8" r="16.2"/>
<circle cx="1862.5" cy="1495.1" r="16.2"/>
<circle cx="1870.3" cy="1504.2" r="16.2"/>
<circle cx="1878.0" cy="1512.3" r="16.2"/>
<circle cx="1885.8" cy="1518.9" r="16.2"/>
<circle cx="1893.6" cy="1524.0" r="16.2"/>
<circle cx="1901.3" cy="1528.1" r="16.2"/>
<circle cx="1909.1" cy="1531.3" r="16.2"/>
<circle cx="1916.9" cy="1534.7" r="16.2"/>
<circle cx="1924.6" cy="1537.6" r="16.2"/>
<circle cx="1932.4" cy="1539.8" r="16.2"/>
<circle cx="1940.2" cy="1541.5" r="16.2"/>
<circle cx="1947.9" cy="1542.8" r="16.2"/>
<circle cx="1955.7" cy="1543.8" r="16.2"/>
<circle cx="1963.5" cy="1544.5" r="16.2"/>
<circle cx="1971.2" cy="1545.0" r="16.2"/>
<circle cx="1979.0" cy="1545.4" r="16.2"/>
<circle cx="1986.8" cy="1545.5" r="16.2"/>
<circle cx="1994.5" cy="1545.5" r="16.2"/>
<circle cx="2002.3" cy="1545.5" r="16.2"/>
<circle cx="2010.1" cy="1545.6" r="16.2"/>
<circle cx="2017.8" cy="1545.6" r="16.2"/>
<circle cx="2025.6" cy="1545.6" r="16.2"/>
<circle cx="2033.4" cy="1545.5" r="16.2"/>
<circle cx="2041.1" cy="1545.4" r="16.2"/>
</g>
<polyline points="137.6,1201.0 138.6,1185.1 139.6,1168.9 140.6,1152.2 141.6,1135.2 142.6,1117.8 143.6,1100.1 144.6,1082.0 145.6,1063.6 146.6,1045.0 147.6,1026.1 148.6,1006.9 149.6,987.4 150.6,967.8 151.6,947.9 152.6,927.9 153.6,907.8 154.6,887.5 155.6,867.1 156.6,846.7 157.6,826.2 158.6,805.8 159.6,785.3 160.6,764.9 161.6,744.5 162.6,724.3 163.6,704.2 164.6,684.2 165.6,664.5 166.6,645.0 167.6,625.7 168.6,606.7 169.6,588.0 170.6,569.7 171.6,551.7 172.6,534.1 173.6,516.9 174.6,500.2 175.6,483.9 176.6,468.0 177.6,452.7 178.6,437.9 179.6,423.6 180.6,409.9 181.6,396.7 182.6,384.1 183.6,372.1 184.6,360.7 185.6,349.8 186.6,339.6 187.6,330.0 188.6,320.9 189.6,312.5 190.6,304.6 191.6,297.4 192.6,290.7 193.6,284.7 194.6,279.1 195.6,274.2 196.6,269.8 197.6,265.9 198.6,262.5 199.6,259.7 200.6,257.3 201.6,255.4 202.6,253.9 203.6,252.9 204.6,252.2 205.6,251.9 206.6,252.0 207.6,252.4 208.6,253.2 209.6,254.2 210.6,255.4 211.6,256.9 212.6,258.6 213.6,260.5 214.6,262.6 215.6,264.8 216.6,267.1 217.6,269.6 218.6,272.1 219.6,274.6 220.6,277.2 221.6,279.9 222.6,282.5 223.6,285.1 224.6,287.6 225.6,290.1 226.6,292.6 227.6,295.0 228.6,297.3 229.6,299.5 230.6,301.6 231.6,303.5 232.6,305.4 233.6,307.1 234.6,308.7 235.6,310.1 236.6,311.5 237.6,312.6 238.6,313.7 239.6,314.6 240.6,315.3 241.6,315.9 242.6,316.4 243.6,316.7 244.6,316.9 245.6,317.0 246.6,317.0 247.6,316.9 248.6,316.6 249.6,316.3 250.6,315.9 251.6,315.4 252.6,314.8 253.6,314.1 254.6,313.4 255.6,312.7 256.6,311.9 257.6,311.1 258.6,310.2 259.6,309.4 260.6,308.5 261.6,307.7 262.6,306.8 263.6,306.0 264.6,305.2 265.6,304.5 266.6,303.8 267.6,303.1 268.6,302.5 269.6,302.0 270.6,301.6 271.6,301.2 272.6,300.9 273.6,300.7 274.6,300.6 275.6,300.6 276.6,300.6 277.6,300.8 278.6,301.1 279.6,301.5 280.6,302.0 281.6,302.6 282.6,303.3 283.6,304.2 284.6,305.1 285.6,306.2 286.6,307.4 287.6,308.7 288.6,310.1 289.6,311.6 290.6,313.2 291.6,315.0 292.6,316.8 293.6,318.8 294.6,320.8 295.6,323.0 296.6,325.2 297.6,327.5 298.6,330.0 299.6,332.5 300.6,335.0 301.6,337.7 302.6,340.4 303.6,343.2 304.6,346.1 305.6,349.0 306.6,352.0 307.6,355.1 308.6,358.2 309.6,361.3 310.6,364.5 311.6,367.7 312.6,370.9 313.6,374.2 314.6,377.5 315.6,380.8 316.6,384.1 317.6,387.5 318.6,390.8 319.6,394.2 320.6,397.5 321.6,400.9 322.6,404.2 323.6,407.6 324.6,410.9 325.6,414.2 326.6,417.5 327.6,420.7 328.6,424.0 329.6,427.2 330.6,430.3 331.6,433.5 332.6,436.6 333.6,439.7 334.6,442.7 335.6,445.7 336.6,448.6 337.6,451.5 338.6,454.4 339.6,457.2 340.6,460.0 341.6,462.7 342.6,465.4 343.6,468.0 344.6,470.6 345.6,473.1 346.6,475.6 347.6,478.0 348.6,480.4 349.6,482.7 350.6,485.0 351.6,487.2 352.6,489.4 353.6,491.5 354.6,493.6 355.6,495.6 356.6,497.6 357.6,499.5 358.6,501.4 359.6,503.3 360.6,505.1 361.6,506.8 362.6,508.6 363.6,510.3 364.6,511.9 365.6,513.5 366.6,515.1 367.6,516.6 368.6,518.2 369.6,519.6 370.6,521.1 371.6,522.5 372.6,523.9 373.6,525.3 374.6,526.6 375.6,528.0 376.6,529.3 377.6,530.6 378.6,531.9 379.6,533.2 380.6,534.4 381.6,535.7 382.6,536.9 383.6,538.1 384.6,539.4 385.6,540.6 386.6,541.8 387.6,543.0 388.6,544.2 389.6,545.5 390.6,546.7 391.6,547.9 392.6,549.2 393.6,550.4 394.6,551.7 395.6,552.9 396.6,554.2 397.6,555.5 398.6,556.8 399.6,558.1 400.6,559.4 401.6,560.8 402.6,562.1 403.6,563.5 404.6,564.9 405.6,566.3 406.6,567.8 407.6,569.2 408.6,570.7 409.6,572.2 410.6,573.7 411.6,575.2 412.6,576.8 413.6,578.4 414.6,580.0 415.6,581.7 416.6,583.3 417.6,585.0 418.6,586.7 419.6,588.4 420.6,590.2 421.6,592.0 422.6,593.8 423.6,595.6 424.6,597.5 425.6,599.4 426.6,601.3 427.6,603.2 428.6,605.1 429.6,607.1 430.6,609.1 431.6,611.1 432.6,613.1 433.6,615.2 434.6,617.3 435.6,619.4 436.6,621.5 437.6,623.6 438.6,625.7 439.6,627.9 440.6,630.1 441.6,632.3 442.6,634.5 443.6,636.7 444.6,639.0 445.6,641.2 446.6,643.5 447.6,645.8 448.6,648.1 449.6,650.4 450.6,652.7 451.6,655.0 452.6,657.3 453.6,659.7 454.6,662.0 455.6,664.4 456.6,666.7 457.6,669.1 458.6,671.4 459.6,673.8 460.6,676.1 461.6,678.5 462.6,680.9 463.6,683.2 464.6,685.6 465.6,688.0 466.6,690.3 467.6,692.7 468.6,695.0 469.6,697.3 470.6,699.7 471.6,702.0 472.6,704.3 473.6,706.6 474.6,708.9 475.6,711.2 476.6,713.5 477.6,715.8 478.6,718.1 479.6,720.3 480.6,722.5 481.6,724.8 482.6,727.0 483.6,729.2 484.6,731.4 485.6,733.5 486.6,735.7 487.6,737.8 488.6,739.9 489.6,742.1 490.6,744.1 491.6,746.2 492.6,748.3 493.6,750.3 494.6,752.3 495.6,754.3 496.6,756.3 497.6,758.2 498.6,760.2 499.6,762.1 500.6,764.0 501.6,765.9 502.6,767.7 503.6,769.6 504.6,771.4 505.6,773.2 506.6,775.0 507.6,776.7 508.6,778.5 509.6,780.2 510.6,781.9 511.6,783.5 512.6,785.2 513.6,786.8 514.6,788.4 515.6,790.0 516.6,791.6 517.6,793.2 518.6,794.7 519.6,796.2 520.6,797.7 521.6,799.2 522.6,800.6 523.6,802.0 524.6,803.5 525.6,804.8 526.6,806.2 527.6,807.6 528.6,808.9 529.6,810.2 530.6,811.5 531.6,812.8 532.6,814.1 533.6,815.4 534.6,816.6 535.6,817.8 536.6,819.0 537.6,820.2 538.6,821.4 539.6,822.6 540.6,823.7 541.6,824.8 542.6,826.0 543.6,827.1 544.6,828.2 545.6,829.2 546.6,830.3 547.6,831.4 548.6,832.4 549.6,833.5 550.6,834.5 551.6,835.5 552.6,836.5 553.6,837.5 554.6,838.5 555.6,839.5 556.6,840.5 557.6,841.5 558.6,842.4 559.6,843.4 560.6,844.4 561.6,845.3 562.6,846.2 563.6,847.2 564.6,848.1 565.6,849.1 566.6,850.0 567.6,850.9 568.6,851.8 569.6,852.8 570.6,853.7 571.6,854.6 572.6,855.5 573.6,856.5 574.6,857.4 575.6,858.3 576.6,859.2 577.6,860.1 578.6,861.1 579.6,862.0 580.6,862.9 581.6,863.8 582.6,864.8 583.6,865.7 584.6,866.7 585.6,867.6 586.6,868.5 587.6,869.5 588.6,870.4 589.6,871.4 590.6,872.4 591.6,873.3 592.6,874.3 593.6,875.3 594.6,876.3 595.6,877.3 596.6,878.3 597.6,879.3 598.6,880.3 599.6,881.3 600.6,882.3 601.6,883.4 602.6,884.4 603.6,885.4 604.6,886.5 605.6,887.5 606.6,888.6 607.6,889.7 608.6,890.8 609.6,891.9 610.6,892.9 611.6,894.0 612.6,895.2 613.6,896.3 614.6,897.4 615.6,898.5 616.6,899.7 617.6,900.8 618.6,902.0 619.6,903.1 620.6,904.3 621.6,905.5 622.6,906.6 623.6,907.8 624.6,909.0 625.6,910.2 626.6,911.4 627.6,912.6 628.6,913.8 629.6,915.1 630.6,916.3 631.6,917.5 632.6,918.8 633.6,920.0 634.6,921.3 635.6,922.5 636.6,923.8 637.6,925.0 638.6,926.3 639.6,927.6 640.6,928.8 641.6,930.1 642.6,931.4 643.6,932.7 644.6,933.9 645.6,935.2 646.6,936.5 647.6,937.8 648.6,939.1 649.6,940.4 650.6,941.7 651.6,942.9 652.6,944.2 653.6,945.5 654.6,946.8 655.6,948.1 656.6,949.4 657.6,950.7 658.6,951.9 659.6,953.2 660.6,954.5 661.6,955.8 662.6,957.0 663.6,958.3 664.6,959.6 665.6,960.8 666.6,962.1 667.6,963.3 668.6,964.6 669.6,965.8 670.6,967.0 671.6,968.3 672.6,969.5 673.6,970.7 674.6,971.9 675.6,973.1 676.6,974.3 677.6,975.5 678.6,976.6 679.6,977.8 680.6,979.0 681.6,980.1 682.6,981.2 683.6,982.4 684.6,983.5 685.6,984.6 686.6,985.7 687.6,986.7 688.6,987.8 689.6,988.9 690.6,989.9 691.6,990.9 692.6,992.0 693.6,993.0 694.6,994.0 695.6,994.9 696.6,995.9 697.6,996.9 698.6,997.8 699.6,998.7 700.6,999.6 701.6,1000.5 702.6,1001.4 703.6,1002.3 704.6,1003.1 705.6,1004.0 706.6,1004.8 707.6,1005.6 708.6,1006.4 709.6,1007.2 710.6,1007.9 711.6,1008.7 712.6,1009.4 713.6,1010.1 714.6,1010.8 715.6,1011.5 716.6,1012.1 717.6,1012.8 718.6,1013.4 719.6,1014.0 720.6,1014.6 721.6,1015.2 722.6,1015.8 723.6,1016.3 724.6,1016.8 725.6,1017.4 726.6,1017.8 727.6,1018.3 728.6,1018.8 729.6,1019.2 730.6,1019.7 731.6,1020.1 732.6,1020.5 733.6,1020.9 734.6,1021.2 735.6,1021.6 736.6,1021.9 737.6,1022.2 738.6,1022.5 739.6,1022.8 740.6,1023.1 741.6,1023.4 742.6,1023.6 743.6,1023.8 744.6,1024.0 745.6,1024.2 746.6,1024.4 747.6,1024.6 748.6,1024.7 749.6,1024.9 750.6,1025.0 751.6,1025.1 752.6,1025.2 753.6,1025.3 754.6,1025.4 755.6,1025.5 756.6,1025.5 757.6,1025.6 758.6,1025.6 759.6,1025.6 760.6,1025.6 761.6,1025.6 762.6,1025.6 763.6,1025.6 764.6,1025.6 765.6,1025.6 766.6,1025.5 767.6,1025.5 768.6,1025.4 769.6,1025.3 770.6,1025.2 771.6,1025.2 772.6,1025.1 773.6,1025.0 774.6,1024.9 775.6,1024.8 776.6,1024.6 777.6,1024.5 778.6,1024.4 779.6,1024.3 780.6,1024.2 781.6,1024.0 782.6,1023.9 783.6,1023.7 784.6,1023.6 785.6,1023.5 786.6,1023.3 787.6,1023.2 788.6,1023.0 789.6,1022.9 790.6,1022.7 791.6,1022.6 792.6,1022.5 793.6,1022.3 794.6,1022.2 795.6,1022.0 796.6,1021.9 797.6,1021.8 798.6,1021.6 799.6,1021.5 800.6,1021.4 801.6,1021.3 802.6,1021.2 803.6,1021.1 804.6,1021.0 805.6,1020.9 806.6,1020.8 807.6,1020.7 808.6,1020.6 809.6,1020.6 810.6,1020.5 811.6,1020.5 812.6,1020.4 813.6,1020.4 814.6,1020.3 815.6,1020.3 816.6,1020.3 817.6,1020.3 818.6,1020.3 819.6,1020.3 820.6,1020.4 821.6,1020.4 822.6,1020.5 823.6,1020.5 824.6,1020.6 825.6,1020.7 826.6,1020.8 827.6,1020.9 828.6,1021.0 829.6,1021.1 830.6,1021.3 831.6,1021.4 832.6,1021.6 833.6,1021.8 834.6,1022.0 835.6,1022.2 836.6,1022.4 837.6,1022.6 838.6,1022.9 839.6,1023.1 840.6,1023.4 841.6,1023.6 842.6,1023.9 843.6,1024.2 844.6,1024.5 845.6,1024.8 846.6,1025.2 847.6,1025.5 848.6,1025.9 849.6,1026.2 850.6,1026.6 851.6,1027.0 852.6,1027.4 853.6,1027.8 854.6,1028.2 855.6,1028.6 856.6,1029.0 857.6,1029.4 858.6,1029.9 859.6,1030.3 860.6,1030.8 861.6,1031.2 862.6,1031.7 863.6,1032.1 864.6,1032.6 865.6,1033.1 866.6,1033.5 867.6,1034.0 868.6,1034.5 869.6,1035.0 870.6,1035.4 871.6,1035.9 872.6,1036.4 873.6,1036.9 874.6,1037.3 875.6,1037.8 876.6,1038.2 877.6,1038.7 878.6,1039.1 879.6,1039.5 880.6,1040.0 881.6,1040.4 882.6,1040.8 883.6,1041.2 884.6,1041.5 885.6,1041.9 886.6,1042.2 887.6,1042.6 888.6,1042.9 889.6,1043.2 890.6,1043.5 891.6,1043.7 892.6,1044.0 893.6,1044.2 894.6,1044.4 895.6,1044.5 896.6,1044.7 897.6,1044.8 898.6,1044.9 899.6,1044.9 900.6,1044.9 901.6,1044.9 902.6,1044.9 903.6,1044.8 904.6,1044.7 905.6,1044.6 906.6,1044.4 907.6,1044.2 908.6,1044.0 909.6,1043.7 910.6,1043.4 911.6,1043.1 912.6,1042.7 913.6,1042.2 914.6,1041.8 915.6,1041.3 916.6,1040.7 917.6,1040.1 918.6,1039.5 919.6,1038.8 920.6,1038.1 921.6,1037.3 922.6,1036.5 923.6,1035.7 924.6,1034.8 925.6,1033.8 926.6,1032.9 927.6,1031.9 928.6,1030.8 929.6,1029.7 930.6,1028.6 931.6,1027.4 932.6,1026.2 933.6,1024.9 934.6,1023.6 935.6,1022.3 936.6,1020.9 937.6,1019.5 938.6,1018.1 939.6,1016.6 940.6,1015.1 941.6,1013.5 942.6,1012.0 943.6,1010.4 944.6,1008.8 945.6,1007.1 946.6,1005.4 947.6,1003.8 948.6,1002.0 949.6,1000.3 950.6,998.6 951.6,996.8 952.6,995.0 953.6,993.3 954.6,991.5 955.6,989.7 956.6,987.9 957.6,986.1 958.6,984.3 959.6,982.5 960.6,980.7 961.6,978.9 962.6,977.2 963.6,975.4 964.6,973.7 965.6,972.0 966.6,970.3 967.6,968.6 968.6,967.0 969.6,965.4 970.6,963.8 971.6,962.2 972.6,960.7 973.6,959.3 974.6,957.8 975.6,956.5 976.6,955.1 977.6,953.8 978.6,952.6 979.6,951.4 980.6,950.3 981.6,949.3 982.6,948.2 983.6,947.3 984.6,946.4 985.6,945.6 986.6,944.9 987.6,944.2 988.6,943.6 989.6,943.1 990.6,942.7 991.6,942.3 992.6,942.0 993.6,941.8 994.6,941.7 995.6,941.6 996.6,941.7 997.6,941.8 998.6,942.0 999.6,942.3 1000.6,942.6 1001.6,943.1 1002.6,943.6 1003.6,944.3 1004.6,945.0 1005.6,945.8 1006.6,946.7 1007.6,947.7 1008.6,948.7 1009.6,949.9 1010.6,951.1 1011.6,952.4 1012.6,953.8 1013.6,955.3 1014.6,956.8 1015.6,958.5 1016.6,960.2 1017.6,962.0 1018.6,963.8 1019.6,965.8 1020.6,967.8 1021.6,969.9 1022.6,972.0 1023.6,974.2 1024.6,976.5 1025.6,978.8 1026.6,981.2 1027.6,983.7 1028.6,986.2 1029.6,988.7 1030.6,991.3 1031.6,994.0 1032.6,996.7 1033.6,999.4 1034.6,1002.2 1035.6,1005.0 1036.6,1007.9 1037.6,1010.8 1038.6,1013.7 1039.6,1016.6 1040.6,1019.6 1041.6,1022.6 1042.6,1025.6 1043.6,1028.6 1044.6,1031.6 1045.6,1034.7 1046.6,1037.7 1047.6,1040.8 1048.6,1043.8 1049.6,1046.9 1050.6,1049.9 1051.6,1053.0 1052.6,1056.0 1053.6,1059.0 1054.6,1062.0 1055.6,1065.0 1056.6,1068.0 1057.6,1071.0 1058.6,1073.9 1059.6,1076.8 1060.6,1079.7 1061.6,1082.5 1062.6,1085.4 1063.6,1088.2 1064.6,1090.9 1065.6,1093.6 1066.6,1096.3 1067.6,1099.0 1068.6,1101.6 1069.6,1104.2 1070.6,1106.7 1071.6,1109.2 1072.6,1111.6 1073.6,1114.0 1074.6,1116.3 1075.6,1118.6 1076.6,1120.9 1077.6,1123.1 1078.6,1125.2 1079.6,1127.3 1080.6,1129.4 1081.6,1131.4 1082.6,1133.3 1083.6,1135.2 1084.6,1137.0 1085.6,1138.8 1086.6,1140.5 1087.6,1142.2 1088.6,1143.9 1089.6,1145.4 1090.6,1147.0 1091.6,1148.4 1092.6,1149.8 1093.6,1151.2 1094.6,1152.5 1095.6,1153.8 1096.6,1155.0 1097.6,1156.2 1098.6,1157.3 1099.6,1158.4 1100.6,1159.4 1101.6,1160.4 1102.6,1161.4 1103.6,1162.2 1104.6,1163.1 1105.6,1163.9 1106.6,1164.7 1107.6,1165.4 1108.6,1166.1 1109.6,1166.7 1110.6,1167.3 1111.6,1167.9 1112.6,1168.5 1113.6,1169.0 1114.6,1169.4 1115.6,1169.9 1116.6,1170.3 1117.6,1170.7 1118.6,1171.0 1119.6,1171.3 1120.6,1171.6 1121.6,1171.9 1122.6,1172.1 1123.6,1172.4 1124.6,1172.6 1125.6,1172.8 1126.6,1172.9 1127.6,1173.1 1128.6,1173.2 1129.6,1173.3 1130.6,1173.4 1131.6,1173.5 1132.6,1173.5 1133.6,1173.6 1134.6,1173.6 1135.6,1173.6 1136.6,1173.7 1137.6,1173.7 1138.6,1173.7 1139.6,1173.7 1140.6,1173.7 1141.6,1173.7 1142.6,1173.7 1143.6,1173.6 1144.6,1173.6 1145.6,1173.6 1146.6,1173.6 1147.6,1173.6 1148.6,1173.5 1149.6,1173.5 1150.6,1173.5 1151.6,1173.5 1152.6,1173.5 1153.6,1173.5 1154.6,1173.5 1155.6,1173.5 1156.6,1173.5 1157.6,1173.5 1158.6,1173.6 1159.6,1173.6 1160.6,1173.7 1161.6,1173.7 1162.6,1173.8 1163.6,1173.8 1164.6,1173.9 1165.6,1174.0 1166.6,1174.1 1167.6,1174.2 1168.6,1174.4 1169.6,1174.5 1170.6,1174.7 1171.6,1174.8 1172.6,1175.0 1173.6,1175.2 1174.6,1175.4 1175.6,1175.6 1176.6,1175.9 1177.6,1176.1 1178.6,1176.4 1179.6,1176.6 1180.6,1176.9 1181.6,1177.2 1182.6,1177.5 1183.6,1177.9 1184.6,1178.2 1185.6,1178.6 1186.6,1179.0 1187.6,1179.4 1188.6,1179.8 1189.6,1180.2 1190.6,1180.6 1191.6,1181.1 1192.6,1181.5 1193.6,1182.0 1194.6,1182.5 1195.6,1183.0 1196.6,1183.5 1197.6,1184.1 1198.6,1184.6 1199.6,1185.2 1200.6,1185.8 1201.6,1186.4 1202.6,1187.0 1203.6,1187.6 1204.6,1188.2 1205.6,1188.9 1206.6,1189.5 1207.6,1190.2 1208.6,1190.9 1209.6,1191.6 1210.6,1192.3 1211.6,1193.0 1212.6,1193.8 1213.6,1194.5 1214.6,1195.3 1215.6,1196.1 1216.6,1196.9 1217.6,1197.7 1218.6,1198.5 1219.6,1199.3 1220.6,1200.1 1221.6,1200.9 1222.6,1201.8 1223.6,1202.7 1224.6,1203.5 1225.6,1204.4 1226.6,1205.3 1227.6,1206.2 1228.6,1207.1 1229.6,1208.0 1230.6,1208.9 1231.6,1209.8 1232.6,1210.8 1233.6,1211.7 1234.6,1212.6 1235.6,1213.6 1236.6,1214.6 1237.6,1215.5 1238.6,1216.5 1239.6,1217.5 1240.6,1218.4 1241.6,1219.4 1242.6,1220.4 1243.6,1221.4 1244.6,1222.4 1245.6,1223.4 1246.6,1224.4 1247.6,1225.4 1248.6,1226.4 1249.6,1227.4 1250.6,1228.4 1251.6,1229.4 1252.6,1230.4 1253.6,1231.5 1254.6,1232.5 1255.6,1233.5 1256.6,1234.5 1257.6,1235.5 1258.6,1236.5 1259.6,1237.5 1260.6,1238.5 1261.6,1239.6 1262.6,1240.6 1263.6,1241.6 1264.6,1242.6 1265.6,1243.6 1266.6,1244.6 1267.6,1245.6 1268.6,1246.6 1269.6,1247.5 1270.6,1248.5 1271.6,1249.5 1272.6,1250.5 1273.6,1251.4 1274.6,1252.4 1275.6,1253.4 1276.6,1254.3 1277.6,1255.3 1278.6,1256.2 1279.6,1257.2 1280.6,1258.1 1281.6,1259.0 1282.6,1259.9 1283.6,1260.8 1284.6,1261.7 1285.6,1262.6 1286.6,1263.5 1287.6,1264.4 1288.6,1265.3 1289.6,1266.1 1290.6,1267.0 1291.6,1267.9 1292.6,1268.7 1293.6,1269.5 1294.6,1270.3 1295.6,1271.2 1296.6,1272.0 1297.6,1272.8 1298.6,1273.5 1299.6,1274.3 1300.6,1275.1 1301.6,1275.8 1302.6,1276.6 1303.6,1277.3 1304.6,1278.0 1305.6,1278.8 1306.6,1279.5 1307.6,1280.2 1308.6,1280.8 1309.6,1281.5 1310.6,1282.2 1311.6,1282.8 1312.6,1283.5 1313.6,1284.1 1314.6,1284.7 1315.6,1285.3 1316.6,1285.9 1317.6,1286.5 1318.6,1287.1 1319.6,1287.7 1320.6,1288.2 1321.6,1288.8 1322.6,1289.3 1323.6,1289.8 1324.6,1290.3 1325.6,1290.8 1326.6,1291.3 1327.6,1291.8 1328.6,1292.2 1329.6,1292.7 1330.6,1293.1 1331.6,1293.6 1332.6,1294.0 1333.6,1294.4 1334.6,1294.8 1335.6,1295.2 1336.6,1295.6 1337.6,1296.0 1338.6,1296.3 1339.6,1296.7 1340.6,1297.0 1341.6,1297.3 1342.6,1297.7 1343.6,1298.0 1344.6,1298.3 1345.6,1298.6 1346.6,1298.9 1347.6,1299.1 1348.6,1299.4 1349.6,1299.7 1350.6,1299.9 1351.6,1300.1 1352.6,1300.4 1353.6,1300.6 1354.6,1300.8 1355.6,1301.0 1356.6,1301.2 1357.6,1301.4 1358.6,1301.6 1359.6,1301.8 1360.6,1301.9 1361.6,1302.1 1362.6,1302.3 1363.6,1302.4 1364.6,1302.5 1365.6,1302.7 1366.6,1302.8 1367.6,1302.9 1368.6,1303.1 1369.6,1303.2 1370.6,1303.3 1371.6,1303.4 1372.6,1303.5 1373.6,1303.6 1374.6,1303.7 1375.6,1303.8 1376.6,1303.8 1377.6,1303.9 1378.6,1304.0 1379.6,1304.1 1380.6,1304.2 1381.6,1304.2 1382.6,1304.3 1383.6,1304.3 1384.6,1304.4 1385.6,1304.5 1386.6,1304.5 1387.6,1304.6 1388.6,1304.6 1389.6,1304.7 1390.6,1304.8 1391.6,1304.8 1392.6,1304.9 1393.6,1304.9 1394.6,1305.0 1395.6,1305.0 1396.6,1305.1 1397.6,1305.1 1398.6,1305.2 1399.6,1305.3 1400.6,1305.3 1401.6,1305.4 1402.6,1305.5 1403.6,1305.5 1404.6,1305.6 1405.6,1305.7 1406.6,1305.7 1407.6,1305.8 1408.6,1305.9 1409.6,1306.0 1410.6,1306.1 1411.6,1306.2 1412.6,1306.3 1413.6,1306.4 1414.6,1306.5 1415.6,1306.6 1416.6,1306.7 1417.6,1306.9 1418.6,1307.0 1419.6,1307.1 1420.6,1307.3 1421.6,1307.4 1422.6,1307.6 1423.6,1307.7 1424.6,1307.9 1425.6,1308.1 1426.6,1308.3 1427.6,1308.5 1428.6,1308.6 1429.6,1308.9 1430.6,1309.1 1431.6,1309.3 1432.6,1309.5 1433.6,1309.7 1434.6,1310.0 1435.6,1310.2 1436.6,1310.5 1437.6,1310.8 1438.6,1311.0 1439.6,1311.3 1440.6,1311.6 1441.6,1311.9 1442.6,1312.2 1443.6,1312.6 1444.6,1312.9 1445.6,1313.2 1446.6,1313.6 1447.6,1313.9 1448.6,1314.3 1449.6,1314.7 1450.6,1315.1 1451.6,1315.5 1452.6,1315.9 1453.6,1316.3 1454.6,1316.7 1455.6,1317.1 1456.6,1317.6 1457.6,1318.0 1458.6,1318.5 1459.6,1319.0 1460.6,1319.5 1461.6,1320.0 1462.6,1320.5 1463.6,1321.0 1464.6,1321.5 1465.6,1322.0 1466.6,1322.6 1467.6,1323.1 1468.6,1323.7 1469.6,1324.3 1470.6,1324.9 1471.6,1325.5 1472.6,1326.1 1473.6,1326.7 1474.6,1327.3 1475.6,1327.9 1476.6,1328.6 1477.6,1329.2 1478.6,1329.9 1479.6,1330.5 1480.6,1331.2 1481.6,1331.9 1482.6,1332.6 1483.6,1333.3 1484.6,1334.0 1485.6,1334.7 1486.6,1335.4 1487.6,1336.2 1488.6,1336.9 1489.6,1337.7 1490.6,1338.4 1491.6,1339.2 1492.6,1340.0 1493.6,1340.7 1494.6,1341.5 1495.6,1342.3 1496.6,1343.1 1497.6,1343.9 1498.6,1344.7 1499.6,1345.5 1500.6,1346.3 1501.6,1347.2 1502.6,1348.0 1503.6,1348.8 1504.6,1349.7 1505.6,1350.5 1506.6,1351.4 1507.6,1352.2 1508.6,1353.1 1509.6,1353.9 1510.6,1354.8 1511.6,1355.7 1512.6,1356.5 1513.6,1357.4 1514.6,1358.3 1515.6,1359.1 1516.6,1360.0 1517.6,1360.9 1518.6,1361.8 1519.6,1362.6 1520.6,1363.5 1521.6,1364.4 1522.6,1365.3 1523.6,1366.1 1524.6,1367.0 1525.6,1367.9 1526.6,1368.7 1527.6,1369.6 1528.6,1370.5 1529.6,1371.3 1530.6,1372.2 1531.6,1373.0 1532.6,1373.9 1533.6,1374.7 1534.6,1375.6 1535.6,1376.4 1536.6,1377.3 1537.6,1378.1 1538.6,1378.9 1539.6,1379.7 1540.6,1380.5 1541.6,1381.3 1542.6,1382.1 1543.6,1382.9 1544.6,1383.7 1545.6,1384.5 1546.6,1385.2 1547.6,1386.0 1548.6,1386.7 1549.6,1387.4 1550.6,1388.2 1551.6,1388.9 1552.6,1389.6 1553.6,1390.3 1554.6,1390.9 1555.6,1391.6 1556.6,1392.3 1557.6,1392.9 1558.6,1393.5 1559.6,1394.1 1560.6,1394.7 1561.6,1395.3 1562.6,1395.9 1563.6,1396.4 1564.6,1397.0 1565.6,1397.5 1566.6,1398.0 1567.6,1398.5 1568.6,1399.0 1569.6,1399.5 1570.6,1399.9 1571.6,1400.3 1572.6,1400.7 1573.6,1401.1 1574.6,1401.5 1575.6,1401.9 1576.6,1402.2 1577.6,1402.5 1578.6,1402.8 1579.6,1403.1 1580.6,1403.4 1581.6,1403.6 1582.6,1403.8 1583.6,1404.0 1584.6,1404.2 1585.6,1404.4 1586.6,1404.5 1587.6,1404.6 1588.6,1404.7 1589.6,1404.8 1590.6,1404.8 1591.6,1404.9 1592.6,1404.9 1593.6,1404.9 1594.6,1404.8 1595.6,1404.8 1596.6,1404.7 1597.6,1404.6 1598.6,1404.5 1599.6,1404.3 1600.6,1404.1 1601.6,1404.0 1602.6,1403.7 1603.6,1403.5 1604.6,1403.2 1605.6,1403.0 1606.6,1402.6 1607.6,1402.3 1608.6,1402.0 1609.6,1401.6 1610.6,1401.2 1611.6,1400.8 1612.6,1400.3 1613.6,1399.9 1614.6,1399.4 1615.6,1398.9 1616.6,1398.3 1617.6,1397.8 1618.6,1397.2 1619.6,1396.6 1620.6,1396.0 1621.6,1395.3 1622.6,1394.7 1623.6,1394.0 1624.6,1393.3 1625.6,1392.6 1626.6,1391.8 1627.6,1391.1 1628.6,1390.3 1629.6,1389.5 1630.6,1388.6 1631.6,1387.8 1632.6,1386.9 1633.6,1386.1 1634.6,1385.2 1635.6,1384.3 1636.6,1383.3 1637.6,1382.4 1638.6,1381.4 1639.6,1380.5 1640.6,1379.5 1641.6,1378.5 1642.6,1377.5 1643.6,1376.4 1644.6,1375.4 1645.6,1374.3 1646.6,1373.3 1647.6,1372.2 1648.6,1371.1 1649.6,1370.0 1650.6,1368.9 1651.6,1367.8 1652.6,1366.6 1653.6,1365.5 1654.6,1364.4 1655.6,1363.2 1656.6,1362.1 1657.6,1360.9 1658.6,1359.7 1659.6,1358.6 1660.6,1357.4 1661.6,1356.2 1662.6,1355.0 1663.6,1353.8 1664.6,1352.7 1665.6,1351.5 1666.6,1350.3 1667.6,1349.1 1668.6,1347.9 1669.6,1346.7 1670.6,1345.6 1671.6,1344.4 1672.6,1343.2 1673.6,1342.1 1674.6,1340.9 1675.6,1339.8 1676.6,1338.6 1677.6,1337.5 1678.6,1336.4 1679.6,1335.2 1680.6,1334.1 1681.6,1333.0 1682.6,1332.0 1683.6,1330.9 1684.6,1329.8 1685.6,1328.8 1686.6,1327.7 1687.6,1326.7 1688.6,1325.7 1689.6,1324.7 1690.6,1323.8 1691.6,1322.8 1692.6,1321.9 1693.6,1321.0 1694.6,1320.1 1695.6,1319.2 1696.6,1318.4 1697.6,1317.5 1698.6,1316.7 1699.6,1315.9 1700.6,1315.2 1701.6,1314.4 1702.6,1313.7 1703.6,1313.0 1704.6,1312.4 1705.6,1311.7 1706.6,1311.1 1707.6,1310.5 1708.6,1310.0 1709.6,1309.4 1710.6,1308.9 1711.6,1308.5 1712.6,1308.0 1713.6,1307.6 1714.6,1307.2 1715.6,1306.9 1716.6,1306.5 1717.6,1306.2 1718.6,1306.0 1719.6,1305.8 1720.6,1305.6 1721.6,1305.4 1722.6,1305.3 1723.6,1305.2 1724.6,1305.1 1725.6,1305.1 1726.6,1305.1 1727.6,1305.1 1728.6,1305.2 1729.6,1305.3 1730.6,1305.4 1731.6,1305.6 1732.6,1305.8 1733.6,1306.1 1734.6,1306.3 1735.6,1306.7 1736.6,1307.0 1737.6,1307.4 1738.6,1307.8 1739.6,1308.3 1740.6,1308.7 1741.6,1309.3 1742.6,1309.8 1743.6,1310.4 1744.6,1311.0 1745.6,1311.7 1746.6,1312.4 1747.6,1313.1 1748.6,1313.9 1749.6,1314.7 1750.6,1315.5 1751.6,1316.4 1752.6,1317.2 1753.6,1318.2 1754.6,1319.1 1755.6,1320.1 1756.6,1321.1 1757.6,1322.2 1758.6,1323.3 1759.6,1324.4 1760.6,1325.5 1761.6,1326.7 1762.6,1327.9 1763.6,1329.1 1764.6,1330.4 1765.6,1331.7 1766.6,1333.0 1767.6,1334.4 1768.6,1335.7 1769.6,1337.1 1770.6,1338.5 1771.6,1340.0 1772.6,1341.5 1773.6,1343.0 1774.6,1344.5 1775.6,1346.0 1776.6,1347.6 1777.6,1349.2 1778.6,1350.8 1779.6,1352.4 1780.6,1354.1 1781.6,1355.7 1782.6,1357.4 1783.6,1359.1 1784.6,1360.8 1785.6,1362.6 1786.6,1364.3 1787.6,1366.1 1788.6,1367.9 1789.6,1369.7 1790.6,1371.5 1791.6,1373.3 1792.6,1375.2 1793.6,1377.0 1794.6,1378.9 1795.6,1380.8 1796.6,1382.7 1797.6,1384.6 1798.6,1386.5 1799.6,1388.4 1800.6,1390.3 1801.6,1392.2 1802.6,1394.2 1803.6,1396.1 1804.6,1398.0 1805.6,1400.0 1806.6,1401.9 1807.6,1403.9 1808.6,1405.9 1809.6,1407.8 1810.6,1409.8 1811.6,1411.7 1812.6,1413.7 1813.6,1415.7 1814.6,1417.6 1815.6,1419.6 1816.6,1421.6 1817.6,1423.5 1818.6,1425.5 1819.6,1427.4 1820.6,1429.4 1821.6,1431.3 1822.6,1433.2 1823.6,1435.2 1824.6,1437.1 1825.6,1439.0 1826.6,1440.9 1827.6,1442.8 1828.6,1444.7 1829.6,1446.6 1830.6,1448.5 1831.6,1450.3 1832.6,1452.2 1833.6,1454.0 1834.6,1455.9 1835.6,1457.7 1836.6,1459.5 1837.6,1461.3 1838.6,1463.1 1839.6,1464.9 1840.6,1466.6 1841.6,1468.4 1842.6,1470.1 1843.6,1471.8 1844.6,1473.6 1845.6,1475.3 1846.6,1476.9 1847.6,1478.6 1848.6,1480.3 1849.6,1481.9 1850.6,1483.5 1851.6,1485.1 1852.6,1486.7 1853.6,1488.3 1854.6,1489.8 1855.6,1491.4 1856.6,1492.9 1857.6,1494.4 1858.6,1495.9 1859.6,1497.4 1860.6,1498.8 1861.6,1500.3 1862.6,1501.7 1863.6,1503.1 1864.6,1504.5 1865.6,1505.9 1866.6,1507.2 1867.6,1508.5 1868.6,1509.9 1869.6,1511.2 1870.6,1512.4 1871.6,1513.7 1872.6,1514.9 1873.6,1516.2 1874.6,1517.4 1875.6,1518.6 1876.6,1519.8 1877.6,1520.9 1878.6,1522.0 1879.6,1523.2 1880.6,1524.3 1881.6,1525.4 1882.6,1526.4 1883.6,1527.5 1884.6,1528.5 1885.6,1529.5 1886.6,1530.5 1887.6,1531.5 1888.6,1532.5 1889.6,1533.4 1890.6,1534.4 1891.6,1535.3 1892.6,1536.2 1893.6,1537.1 1894.6,1537.9 1895.6,1538.8 1896.6,1539.6 1897.6,1540.4 1898.6,1541.2 1899.6,1542.0 1900.6,1542.8 1901.6,1543.6 1902.6,1544.3 1903.6,1545.0 1904.6,1545.7 1905.6,1546.4 1906.6,1547.1 1907.6,1547.8 1908.6,1548.5 1909.6,1549.1 1910.6,1549.7 1911.6,1550.3 1912.6,1550.9 1913.6,1551.5 1914.6,1552.1 1915.6,1552.7 1916.6,1553.2 1917.6,1553.8 1918.6,1554.3 1919.6,1554.8 1920.6,1555.3 1921.6,1555.8 1922.6,1556.3 1923.6,1556.7 1924.6,1557.2 1925.6,1557.6 1926.6,1558.1 1927.6,1558.5 1928.6,1558.9 1929.6,1559.3 1930.6,1559.7 1931.6,1560.1 1932.6,1560.5 1933.6,1560.8 1934.6,1561.2 1935.6,1561.5 1936.6,1561.9 1937.6,1562.2 1938.6,1562.5 1939.6,1562.8 1940.6,1563.1 1941.6,1563.4 1942.6,1563.7 1943.6,1564.0 1944.6,1564.3 1945.6,1564.5 1946.6,1564.8 1947.6,1565.0 1948.6,1565.3 1949.6,1565.5 1950.6,1565.7 1951.6,1566.0 1952.6,1566.2 1953.6,1566.4 1954.6,1566.6 1955.6,1566.8 1956.6,1567.0 1957.6,1567.2 1958.6,1567.4 1959.6,1567.5 1960.6,1567.7 1961.6,1567.9 1962.6,1568.0 1963.6,1568.2 1964.6,1568.3 1965.6,1568.5 1966.6,1568.6 1967.6,1568.8 1968.6,1568.9 1969.6,1569.0 1970.6,1569.1 1971.6,1569.3 1972.6,1569.4 1973.6,1569.5 1974.6,1569.6 1975.6,1569.7 1976.6,1569.8 1977.6,1569.9 1978.6,1570.0 1979.6,1570.1 1980.6,1570.2 1981.6,1570.3 1982.6,1570.4 1983.6,1570.4 1984.6,1570.5 1985.6,1570.6 1986.6,1570.7 1987.6,1570.7 1988.6,1570.8 1989.6,1570.9 1990.6,1570.9 1991.6,1571.0 1992.6,1571.1 1993.6,1571.1 1994.6,1571.2 1995.6,1571.2 1996.6,1571.3 1997.6,1571.3 1998.6,1571.4 1999.6,1571.4 2000.6,1571.5 2001.6,1571.5 2002.6,1571.5 2003.6,1571.6 2004.6,1571.6 2005.6,1571.7 2006.6,1571.7 2007.6,1571.7 2008.6,1571.8 2009.6,1571.8 2010.6,1571.8 2011.6,1571.8 2012.6,1571.9 2013.6,1571.9 2014.6,1571.9 2015.6,1571.9 2016.6,1572.0 2017.6,1572.0 2018.6,1572.0 2019.6,1572.0 2020.6,1572.1 2021.6,1572.1 2022.6,1572.1 2023.6,1572.1 2024.6,1572.1 2025.6,1572.1 2026.6,1572.2 2027.6,1572.2 2028.6,1572.2 2029.6,1572.2 2030.6,1572.2 2031.6,1572.2 2032.6,1572.2 2033.6,1572.3 2034.6,1572.3 2035.6,1572.3 2036.6,1572.3 2037.6,1572.3 2038.6,1572.3 2039.6,1572.3 2040.6,1572.3 2041.6,1572.3 2042.6,1572.3 2043.3,1572.3" fill="none" stroke="#ff0000" stroke-width="8.5" stroke-linejoin="round"/>
</g>
<rect x="976.2" y="1106.8" width="1058.3999999999999" height="469.60000000000014" fill="#bcbcbc" fill-opacity="0.34"/>
<rect x="976.2" y="1106.8" width="1058.3999999999999" height="469.60000000000014" fill="url(#hatch)"/>
<rect x="976.2" y="1106.8" width="1058.3999999999999" height="469.60000000000014" fill="none" stroke="#000" stroke-opacity="0.37" stroke-width="4.34"/>
<rect x="137.6" y="40.0" width="1905.7" height="1536.4" fill="none" stroke="#000" stroke-width="4.34"/>
<line x1="295.7" y1="1576.4" x2="295.7" y2="1605" stroke="#000" stroke-width="4.34"/>
<text x="289.4" y="1671" font-family="Liberation Serif, Times New Roman, serif" font-size="71" text-anchor="middle" fill="#000">375</text>
<line x1="489.9" y1="1576.4" x2="489.9" y2="1605" stroke="#000" stroke-width="4.34"/>
<text x="486.3" y="1671" font-family="Liberation Serif, Times New Roman, serif" font-size="71" text-anchor="middle" fill="#000">400</text>
<line x1="684.0" y1="1576.4" x2="684.0" y2="1605" stroke="#000" stroke-width="4.34"/>
<text x="677.9" y="1671" font-family="Liberation Serif, Times New Roman, serif" font-size="71" text-anchor="middle" fill="#000">425</text>
<line x1="878.2" y1="1576.4" x2="878.2" y2="1605" stroke="#000" stroke-width="4.34"/>
<text x="874.6" y="1671" font-family="Liberation Serif, Times New Roman, serif" font-size="71" text-anchor="middle" fill="#000">450</text>
<line x1="1072.4" y1="1576.4" x2="1072.4" y2="1605" stroke="#000" stroke-width="4.34"/>
<text x="1069.3" y="1671" font-family="Liberation Serif, Times New Roman, serif" font-size="71" text-anchor="middle" fill="#000">475</text>
<line x1="1266.6" y1="1576.4" x2="1266.6" y2="1605" stroke="#000" stroke-width="4.34"/>
<text x="1264.2" y="1671" font-family="Liberation Serif, Times New Roman, serif" font-size="71" text-anchor="middle" fill="#000">500</text>
<line x1="1460.8" y1="1576.4" x2="1460.8" y2="1605" stroke="#000" stroke-width="4.34"/>
<text x="1458.2" y="1671" font-family="Liberation Serif, Times New Roman, serif" font-size="71" text-anchor="middle" fill="#000">525</text>
<line x1="1654.9" y1="1576.4" x2="1654.9" y2="1605" stroke="#000" stroke-width="4.34"/>
<text x="1653.9" y="1671" font-family="Liberation Serif, Times New Roman, serif" font-size="71" text-anchor="middle" fill="#000">550</text>
<line x1="1849.1" y1="1576.4" x2="1849.1" y2="1605" stroke="#000" stroke-width="4.34"/>
<text x="1847.2" y="1671" font-family="Liberation Serif, Times New Roman, serif" font-size="71" text-anchor="middle" fill="#000">575</text>
<line x1="2043.3" y1="1576.4" x2="2043.3" y2="1605" stroke="#000" stroke-width="4.34"/>
<text x="2043.1" y="1671" font-family="Liberation Serif, Times New Roman, serif" font-size="71" text-anchor="middle" fill="#000">600</text>
<text x="1146.3" y="1767.2" font-family="Liberation Serif, Times New Roman, serif" font-size="88" text-anchor="middle" fill="#000">Wavelength (nm)</text>
<text transform="translate(86.3,832.5) rotate(-90)" x="0" y="0" font-family="Liberation Serif, Times New Roman, serif" font-size="88" text-anchor="middle" fill="#000">Intensity (a.u.)</text>
<text x="1554.6" y="1064.8" font-family="Liberation Serif, Times New Roman, serif" font-size="80.5" text-anchor="middle" fill="#000">Defects Zone</text>
</svg></body></html>
